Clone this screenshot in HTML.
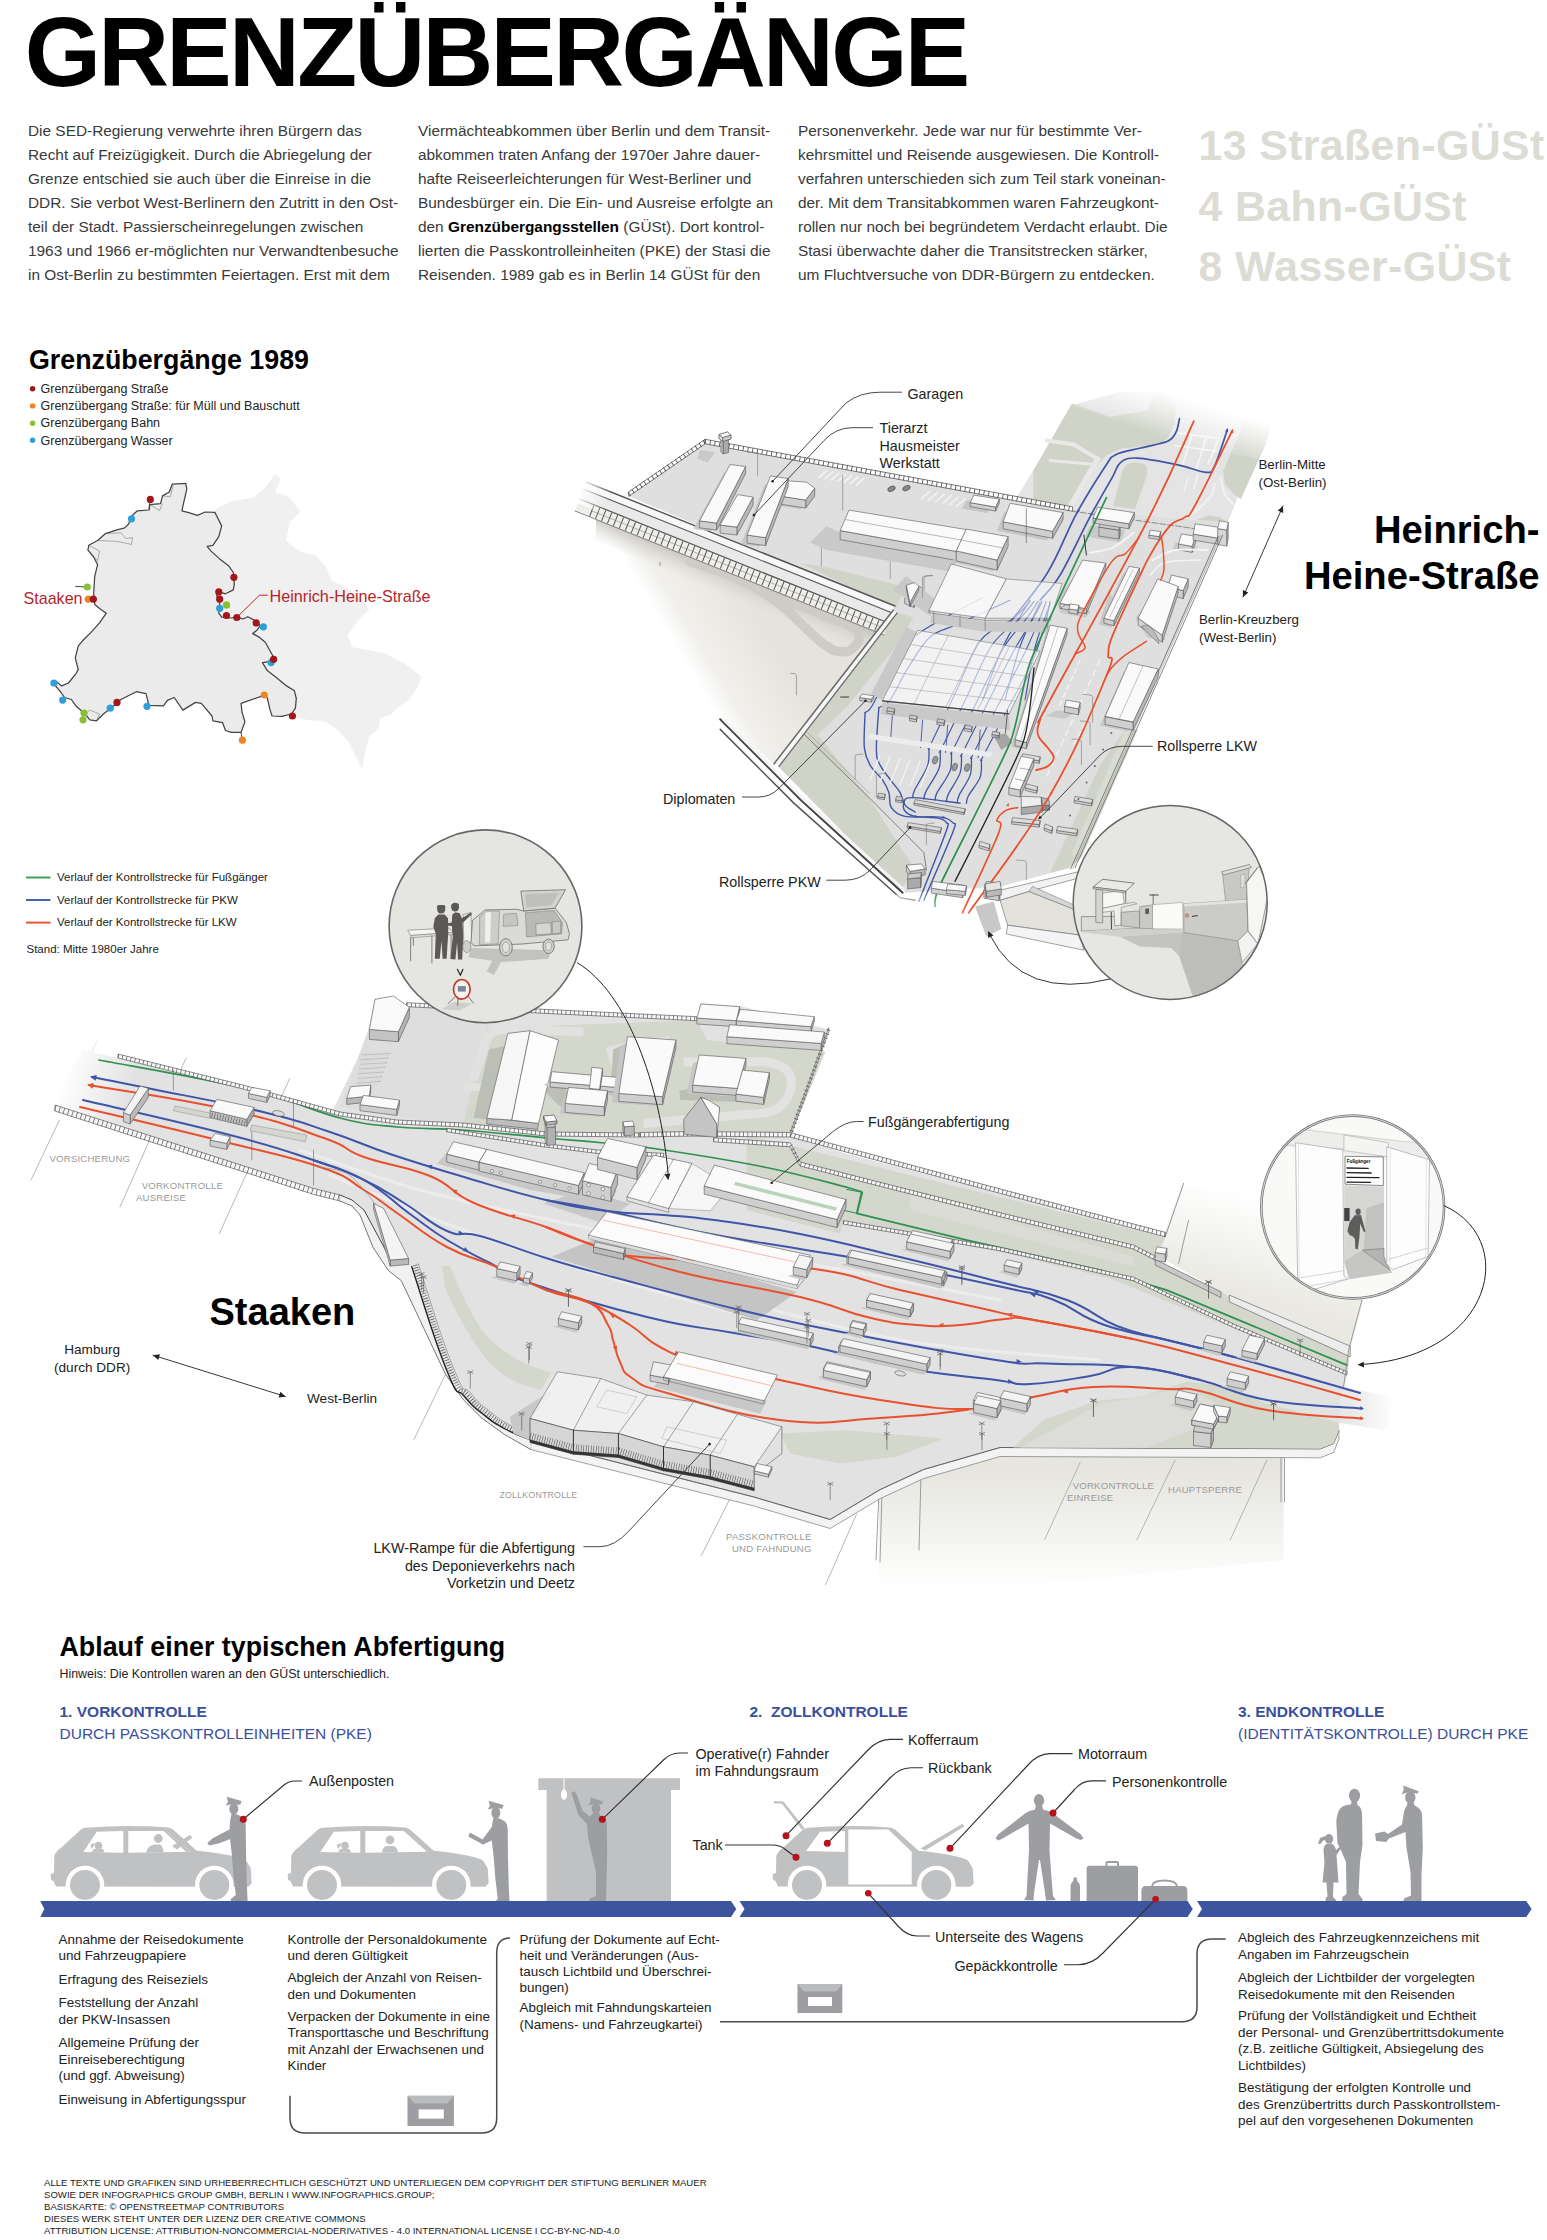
<!DOCTYPE html>
<html lang="de"><head><meta charset="utf-8"><title>Grenzübergänge</title>
<style>
html,body{margin:0;padding:0;background:#fff}
#page{position:relative;width:1547px;height:2240px;overflow:hidden;background:#fff;font-family:"Liberation Sans",sans-serif;color:#222}
#g{position:absolute;left:0;top:0}
#g text{font-family:"Liberation Sans",sans-serif}
.t{position:absolute;white-space:nowrap;margin:0}
h1.t{font-weight:bold;font-size:98px;line-height:98px;left:24.7px;top:3.3px;letter-spacing:-2.66px;color:#000}
.body{font-size:15.4px;line-height:24px;color:#3a3a3a;top:119px}
.stat{font-weight:bold;font-size:42.8px;line-height:60.5px;color:#dcdcd5;left:1198.5px;top:115px;letter-spacing:.4px}
h2.t{font-weight:bold;font-size:26.8px;line-height:30px;color:#000}
.leg{font-size:12.5px;line-height:17.2px;color:#222}
.lab{font-size:14.3px;line-height:18.6px;color:#222}
.big{font-weight:bold;font-size:38.2px;line-height:45.3px;color:#000;text-align:right}
.sec{font-size:15.5px;line-height:21.6px;color:#3b4f9c}
.sec b{font-weight:bold}
.col{font-size:13.45px;line-height:16.3px;color:#222}
.col p{margin:0 0 7.3px 0}
.foot{font-size:9.6px;line-height:12.2px;color:#222;left:44px;top:2176.5px}
.zone{font-size:9.6px;line-height:12px;color:#9a9a9a;letter-spacing:.2px}
</style></head><body><div id="page">
<svg id="g" width="1547" height="2240" viewBox="0 0 1547 2240">
<!-- placeholder -->
<g id="map">
<polygon points="202.7,522.7 217.2,508.2 231.7,501.0 253.4,497.4 266.1,486.5 275.1,473.8 280.5,479.3 275.1,491.9 289.6,497.4 300.5,511.9 289.6,522.7 286.0,540.8 300.5,551.7 314.9,555.3 325.8,566.2 331.2,580.6 347.5,587.9 362.0,598.7 369.2,609.6 358.4,620.5 347.5,634.9 352.9,647.6 365.6,649.4 383.7,653.0 405.4,663.9 421.7,676.6 416.3,689.2 409.0,700.1 398.2,707.3 391.0,714.6 380.1,718.2 378.3,729.0 369.2,736.3 365.6,750.8 362.0,768.9 354.8,754.4 347.5,739.9 336.7,729.0 325.8,721.8 307.7,720.0 293.2,716.4 253.4,682.0 217.2,609.6" fill="#f1f0f0"/>
<polygon points="172.2,484.2 185.8,483.3 186.8,489.1 183.9,501.7 181.9,510.8 188.7,512.7 197.4,515.3 205.2,512.0 214.9,512.4 216.8,516.2 221.7,525.9 218.8,536.6 212.9,545.3 207.1,546.3 211.0,551.1 219.7,558.9 228.5,565.7 233.3,572.5 234.3,584.1 233.3,589.9 225.5,593.8 219.7,591.9 216.8,595.7 219.7,603.5 218.8,613.2 221.7,617.1 230.4,618.0 237.2,617.1 243.0,619.0 247.8,616.7 255.6,620.9 260.4,625.8 256.6,630.6 252.7,633.6 259.5,637.4 265.3,642.3 270.1,651.0 274.0,657.8 269.2,661.7 262.4,662.6 267.2,670.4 276.0,677.2 286.6,685.9 294.4,690.8 296.3,698.5 295.4,708.2 291.5,714.0 281.8,716.4 272.1,716.0 270.1,710.1 267.2,697.5 263.4,695.6 241.1,703.4 242.0,712.1 244.9,721.8 241.1,732.4 231.4,732.4 225.5,730.5 222.6,722.7 212.9,720.8 212.0,716.0 201.3,703.4 195.5,702.4 182.9,710.1 174.2,697.5 167.4,700.4 163.5,705.9 149.0,705.3 146.0,693.7 136.3,691.7 120.8,699.5 112.1,707.2 103.4,714.0 96.6,720.8 89.8,719.8 85.0,714.0 76.2,706.3 71.4,699.5 64.6,697.5 59.8,690.8 53.9,684.0 56.8,682.0 61.7,685.9 68.5,683.0 76.2,673.3 78.2,669.4 75.3,657.8 78.2,646.2 82.1,641.3 92.7,630.6 99.5,622.9 106.3,613.2 100.5,609.3 94.7,604.5 93.7,593.8 94.7,576.3 97.6,564.7 93.7,557.0 87.9,550.2 88.8,545.3 97.6,540.5 105.3,533.7 117.0,529.8 124.7,527.9 128.6,524.0 131.5,516.2 137.3,510.8 149.0,510.0 149.5,504.6 160.6,503.6 162.5,495.9 169.3,492.0" fill="#ebebeb" stroke="#444" stroke-width="1.25" stroke-linejoin="round"/>
<polyline points="162.5,495.9 170.3,496.8 173.2,485.2" fill="none" stroke="#666" stroke-width="0.5"/>
<polyline points="149.5,504.6 159.6,510.4 162.5,503.6" fill="none" stroke="#666" stroke-width="0.5"/>
<polyline points="105.3,533.7 120.8,532.7 125.7,538.5 132.5,537.6 131.5,544.4 117.0,541.4 97.6,540.5" fill="none" stroke="#666" stroke-width="0.5"/>
<polyline points="88.8,545.3 99.5,551.1 97.6,560.8 93.7,557.0" fill="none" stroke="#666" stroke-width="0.5"/>
<polyline points="85.0,714.0 89.8,710.1 99.5,714.0 96.6,720.8" fill="none" stroke="#666" stroke-width="0.5"/>
<polyline points="241.1,732.4 242.0,739.2" fill="none" stroke="#444" stroke-width="1"/>
<polyline points="149.5,510.0 149.9,499.8" fill="none" stroke="#444" stroke-width="1"/>
<polyline points="75.3,586.4 86.9,587.0" fill="none" stroke="#444" stroke-width="1"/>
<polyline points="263.4,695.6 264.3,695.0" fill="none" stroke="#444" stroke-width="1"/>
<circle cx="131.5" cy="518.8" r="3.6" fill="#2d9fd9"/>
<circle cx="219.7" cy="608.3" r="3.6" fill="#2d9fd9"/>
<circle cx="263.4" cy="626.8" r="3.6" fill="#2d9fd9"/>
<circle cx="271.1" cy="662.6" r="3.6" fill="#2d9fd9"/>
<circle cx="53.9" cy="683.0" r="3.6" fill="#2d9fd9"/>
<circle cx="62.7" cy="700.1" r="3.6" fill="#2d9fd9"/>
<circle cx="110.2" cy="708.2" r="3.6" fill="#2d9fd9"/>
<circle cx="147.0" cy="706.3" r="3.6" fill="#2d9fd9"/>
<circle cx="88.3" cy="599.2" r="3.6" fill="#ee8522"/>
<circle cx="264.3" cy="695.0" r="3.6" fill="#ee8522"/>
<circle cx="242.4" cy="740.2" r="3.6" fill="#ee8522"/>
<circle cx="87.3" cy="587.0" r="3.6" fill="#8bc034"/>
<circle cx="226.5" cy="605.0" r="3.6" fill="#8bc034"/>
<circle cx="84.0" cy="713.1" r="3.6" fill="#8bc034"/>
<circle cx="83.0" cy="719.8" r="3.6" fill="#8bc034"/>
<circle cx="150.3" cy="499.4" r="3.6" fill="#a3161c"/>
<circle cx="233.9" cy="577.3" r="3.6" fill="#a3161c"/>
<circle cx="218.8" cy="591.9" r="3.6" fill="#a3161c"/>
<circle cx="219.7" cy="599.2" r="3.6" fill="#a3161c"/>
<circle cx="226.5" cy="615.5" r="3.6" fill="#a3161c"/>
<circle cx="236.8" cy="617.5" r="3.6" fill="#a3161c"/>
<circle cx="256.2" cy="622.9" r="3.6" fill="#a3161c"/>
<circle cx="273.6" cy="659.3" r="3.6" fill="#a3161c"/>
<circle cx="292.4" cy="716.0" r="3.6" fill="#a3161c"/>
<circle cx="117.0" cy="702.4" r="3.6" fill="#a3161c"/>
<circle cx="93.3" cy="599.2" r="3.6" fill="#a3161c"/>
<circle cx="226.5" cy="605.0" r="3.6" fill="#8bc034"/>
<polyline points="238.7,615.5 259.5,595.2 267.8,595.2" fill="none" stroke="#b3262c" stroke-width="1"/>
<circle cx="32.6" cy="388.8" r="2.7" fill="#a3161c"/>
<circle cx="32.6" cy="405.9" r="2.7" fill="#ee8522"/>
<circle cx="32.6" cy="423.2" r="2.7" fill="#8bc034"/>
<circle cx="32.6" cy="440.3" r="2.7" fill="#2d9fd9"/>
<line x1="26" x2="50.5" y1="877.5" y2="877.5" stroke="#3a9a52" stroke-width="1.9"/>
<line x1="26" x2="50.5" y1="900.0" y2="900.0" stroke="#3f5bb0" stroke-width="1.9"/>
<line x1="26" x2="50.5" y1="922.6" y2="922.6" stroke="#e8502a" stroke-width="1.9"/>
</g><g id="hh">
<defs>
<linearGradient id="hhbeige" gradientUnits="userSpaceOnUse" x1="672" y1="640" x2="745" y2="596"><stop offset="0" stop-color="#fff"/><stop offset="0.25" stop-color="#f1f0ec"/><stop offset="1" stop-color="#e5e3dc"/></linearGradient>
<linearGradient id="hhtop" gradientUnits="userSpaceOnUse" x1="1185" y1="398" x2="1172" y2="440"><stop offset="0" stop-color="#fff" stop-opacity="1"/><stop offset="1" stop-color="#fff" stop-opacity="0"/></linearGradient>
<linearGradient id="hhbot" gradientUnits="userSpaceOnUse" x1="925" y1="925" x2="940" y2="893"><stop offset="0" stop-color="#fff" stop-opacity="1"/><stop offset="1" stop-color="#fff" stop-opacity="0"/></linearGradient>
<linearGradient id="wallsh" gradientUnits="userSpaceOnUse" x1="740" y1="577" x2="731" y2="599"><stop offset="0" stop-color="#bdbbb6" stop-opacity=".75"/><stop offset="1" stop-color="#d8d6d0" stop-opacity="0"/></linearGradient>
</defs>
<polygon points="575,511 884,635 893,612 773.9,763.9 720.2,719.3 690,700 640,620 600,540" fill="url(#hhbeige)"/>
<polygon points="596,519 884,635 875,657 596,541" fill="url(#wallsh)"/>
<path d="M690.4,561.7 C702.1,565.7 711.7,566.5 734.1,576.8 C756.5,587.1 755.6,586.9 774.5,600.3 C793.3,613.8 791.3,615.4 804.7,627.2 C818.2,639.1 815,638.4 824.9,644.9 C834.7,651.4 833.8,651.1 841.7,651.6 C849.5,652 849.8,651 854.3,646.6 C858.8,642.1 859.8,640.4 858.5,634.8 C857.1,629.2 858.2,630.7 849.2,625.5 C840.3,620.4 838.5,620.9 824.9,615.5 C811.2,610 811.4,609.1 798,605 C784.5,601 780.7,601.6 774.5,600.3" fill="none" stroke="#cfccc8" stroke-width="9.5" stroke-linecap="round" stroke-linejoin="round"/>
<path d="M796.4,695.2 L796.4,675.2 Q796.4,673.2 790.4,673.2" fill="none" stroke="#777" stroke-width="0.6"/>
<path d="M660,562 l0,4" stroke="#777" stroke-width=".8"/>
<polygon points="1072.6,508.8 1017.6,496.3 1072.6,405 1120,392 1290,392 1270.3,415 1227.7,522.6" fill="#e4e4e4"/>
<polygon points="1071.9,403.4 1109.7,416.9 1147.6,410.2 1156,388.3 1177,388.3 1174.5,423.6 1167.7,438.7 1157.6,444.6 1120.7,448.8 1107.2,454.7 1098,463.9 1065.2,507.6 1033.3,499.2 1033.3,470.7" fill="#d0d4c8"/>
<polyline points="1046.7,440.4 1073.6,444.6 1098,458.9" fill="none" stroke="#e8e8e6" stroke-width="4" stroke-linejoin="round" stroke-linecap="round"/>
<polyline points="1098,458.9 1090.4,470.7 1069.4,507.6" fill="none" stroke="#e8e8e6" stroke-width="5" stroke-linejoin="round" stroke-linecap="round"/>
<polyline points="1050.1,460.6 1090.4,463.9" fill="none" stroke="#e8e8e6" stroke-width="3" stroke-linejoin="round" stroke-linecap="round"/>
<path d="M1122.4,470.7 Q1125.7,462.3 1135.8,462.6 L1142.5,463.6 Q1149.2,464.8 1146.7,475.7 L1135,509.3 L1113.1,506 Z" fill="#d0d4c8"/>
<polygon points="1245.9,416.9 1275.3,411.8 1265.2,445.5 1240.8,499.2 1233.3,493.4 1224.9,484.1 1223.2,470.7 1239.2,433.7" fill="#d0d4c8"/>
<polygon points="1196.3,519.4 1209.7,515.2 1221.5,517.7 1228.2,524.5 1218.2,529.5 1201.3,526.1" fill="#d0d4c8"/>
<polygon points="1165.2,546.3 1191.3,549.7 1187.9,556.4 1164.4,554.7" fill="#d0d4c8"/>
<polyline points="1177.8,432.9 1220.7,438.7" fill="none" stroke="#f6f6f6" stroke-width="1.6" stroke-linejoin="round" stroke-linecap="round"/>
<polyline points="1174.5,445.5 1216.5,451.3" fill="none" stroke="#f6f6f6" stroke-width="1.6" stroke-linejoin="round" stroke-linecap="round"/>
<polyline points="1192.1,434.5 1182.9,463.9" fill="none" stroke="#f6f6f6" stroke-width="1.6" stroke-linejoin="round" stroke-linecap="round"/>
<polyline points="1206.4,437.1 1196.3,469" fill="none" stroke="#f6f6f6" stroke-width="1.6" stroke-linejoin="round" stroke-linecap="round"/>
<polyline points="1218.2,440.4 1208.1,463.9" fill="none" stroke="#f6f6f6" stroke-width="1.6" stroke-linejoin="round" stroke-linecap="round"/>
<polyline points="1187.9,477.4 1184.5,490.8" fill="none" stroke="#f6f6f6" stroke-width="1.3" stroke-linejoin="round" stroke-linecap="round"/>
<polyline points="1198,474 1193.8,489.2" fill="none" stroke="#f6f6f6" stroke-width="1.3" stroke-linejoin="round" stroke-linecap="round"/>
<polyline points="1208.1,477.4 1203.9,490.8" fill="none" stroke="#f6f6f6" stroke-width="1.3" stroke-linejoin="round" stroke-linecap="round"/>
<path d="M1220.7,477.4 C1221.4,480.2 1222.8,489.7 1224.9,494.2 C1227,498.7 1231.9,502.6 1233.3,504.3" fill="none" stroke="#f0f0f0" stroke-width="2.5" stroke-linecap="round" stroke-linejoin="round"/>
<path d="M1214.8,484.1 C1213.9,486.4 1213.7,492.5 1209.7,497.6 C1205.8,502.6 1197.1,509.9 1191.3,514.4 C1185.4,518.9 1177.3,522.8 1174.5,524.5" fill="none" stroke="#f0f0f0" stroke-width="2.5" stroke-linecap="round" stroke-linejoin="round"/>
<polygon points="1040,385 1320,385 1320,470 1040,420" fill="url(#hhtop)"/>
<polygon points="628.8,496.3 705.1,440 1072.6,508.8 1227.7,522.6 1070.1,867.7 1001.3,886.4 905.1,892.7 804.2,734.5 895,611.8 893,612 889,606" fill="#dfdfe0"/>
<polygon points="895.8,612.1 913.4,617.6 898.3,643.7 846.2,707.6 817.6,734.5 868.1,796.6 915.1,870.1 900.1,890.2 778.2,766.4" fill="#d0d4c8"/>
<polygon points="800.2,563.1 830.2,568.1 905.2,587.1 895.7,608.9" fill="#d0d4c8"/>
<polygon points="1126.4,727.6 1137.6,730.1 1081.4,857.6 1070.1,867.7 1050.1,872.7 1100.1,765.1" fill="#d0d4c8"/>
<polygon points="1125.1,730.1 1133.9,732.1 1080.1,852.6 1070.1,857.6" fill="#d9dcd3"/>
<polygon points="700.1,450 715.1,452.5 707.6,462.5 697.6,458.8" fill="#c9c9ca"/>
<polyline points="826.4,470.8 818.9,477.6" fill="none" stroke="#f4f4f4" stroke-width="1.5" stroke-linejoin="round" stroke-linecap="round"/>
<polyline points="832.7,472.1 825.2,478.8" fill="none" stroke="#f4f4f4" stroke-width="1.5" stroke-linejoin="round" stroke-linecap="round"/>
<polyline points="838.9,473.3 831.4,480.1" fill="none" stroke="#f4f4f4" stroke-width="1.5" stroke-linejoin="round" stroke-linecap="round"/>
<polyline points="845.2,474.6 837.7,481.3" fill="none" stroke="#f4f4f4" stroke-width="1.5" stroke-linejoin="round" stroke-linecap="round"/>
<polyline points="851.5,475.8 843.9,482.6" fill="none" stroke="#f4f4f4" stroke-width="1.5" stroke-linejoin="round" stroke-linecap="round"/>
<polyline points="857.7,477.1 850.2,483.8" fill="none" stroke="#f4f4f4" stroke-width="1.5" stroke-linejoin="round" stroke-linecap="round"/>
<polyline points="864,478.3 856.5,485.1" fill="none" stroke="#f4f4f4" stroke-width="1.5" stroke-linejoin="round" stroke-linecap="round"/>
<polyline points="930.3,491.3 921.5,498.8" fill="none" stroke="#f4f4f4" stroke-width="1.5" stroke-linejoin="round" stroke-linecap="round"/>
<polyline points="937.3,492.8 928.5,500.3" fill="none" stroke="#f4f4f4" stroke-width="1.5" stroke-linejoin="round" stroke-linecap="round"/>
<polyline points="944.3,494.3 935.5,501.8" fill="none" stroke="#f4f4f4" stroke-width="1.5" stroke-linejoin="round" stroke-linecap="round"/>
<polyline points="951.3,495.8 942.5,503.3" fill="none" stroke="#f4f4f4" stroke-width="1.5" stroke-linejoin="round" stroke-linecap="round"/>
<polyline points="958.3,497.3 949.5,504.8" fill="none" stroke="#f4f4f4" stroke-width="1.5" stroke-linejoin="round" stroke-linecap="round"/>
<polyline points="965.3,498.8 956.5,506.3" fill="none" stroke="#f4f4f4" stroke-width="1.5" stroke-linejoin="round" stroke-linecap="round"/>
<g fill="#888" stroke="#333" stroke-width=".5"><ellipse cx="891.5" cy="488.8" rx="4" ry="2.4" transform="rotate(-25 891.5 488.8)"/><ellipse cx="906.5" cy="488.1" rx="4" ry="2.4" transform="rotate(-25 906.5 488.1)"/></g>
<polygon points="586,482 895,606 892.3,613 583.3,489" fill="#f7f7f7"/>
<polygon points="583.3,489 892.3,613 888.5,623 579.5,499" fill="#e9e9e9"/>
<polygon points="579.5,499 888.5,623 884,635 575,511" fill="#efeee9"/>
<polyline points="586,482 895,606" fill="none" stroke="#555" stroke-width="1.4" stroke-linejoin="round" stroke-linecap="round"/>
<polyline points="583.3,489 892.3,613" fill="none" stroke="#555" stroke-width="1.1" stroke-linejoin="round" stroke-linecap="round"/>
<polyline points="579.5,499 888.5,623" fill="none" stroke="#555" stroke-width="1.2" stroke-linejoin="round" stroke-linecap="round"/>
<polyline points="575,511 884,635" fill="none" stroke="#555" stroke-width="0.7" stroke-linejoin="round" stroke-linecap="round"/>
<line x1="591.3" y1="510.7" x2="886.3" y2="629" stroke="#555" stroke-width="11.5" stroke-dasharray="1 5.4" />
<polyline points="591.3,510.7 886.3,629" fill="none" stroke="#777" stroke-width="0.5" stroke-linejoin="round" stroke-linecap="round"/>
<linearGradient id="wfade" gradientUnits="userSpaceOnUse" x1="582" y1="480" x2="612" y2="492"><stop offset="0" stop-color="#fff"/><stop offset="1" stop-color="#fff" stop-opacity="0"/></linearGradient>
<polygon points="575,470 615,485 605,515 570,500" fill="url(#wfade)"/>
<polygon points="628.8,496.3 705.1,443.8 705.1,439.3 628.8,491.8" fill="#fff" stroke="#444" stroke-width="0.7" stroke-linejoin="round"/>
<line x1="628.8" y1="494.1" x2="705.1" y2="441.5" stroke="#444" stroke-width="4.5" stroke-dasharray="0.8 4"/>
<polygon points="705.1,443.8 1072.6,511.3 1072.6,506.8 705.1,439.3" fill="#fff" stroke="#444" stroke-width="0.7" stroke-linejoin="round"/>
<line x1="705.1" y1="441.5" x2="1072.6" y2="509.1" stroke="#444" stroke-width="4.5" stroke-dasharray="0.8 4"/>
<polygon points="730.9,435 722.6,437.5 722.6,441.5 730.9,439" fill="#ccc" stroke="#555" stroke-width="0.6" stroke-linejoin="round"/>
<polygon points="722.6,437.5 719.1,434.5 719.1,438.5 722.6,441.5" fill="#ddd" stroke="#555" stroke-width="0.6" stroke-linejoin="round"/>
<polygon points="719.1,434.5 727.6,432 730.9,435 722.6,437.5" fill="#fafafa" stroke="#555" stroke-width="0.6" stroke-linejoin="round"/>
<polygon points="728.6,439.5 723.1,441 723.1,454 728.6,452.5" fill="#aaa" stroke="#555" stroke-width="0.6" stroke-linejoin="round"/>
<polygon points="723.1,441 720.9,438.8 720.9,451.8 723.1,454" fill="#c4c4c4" stroke="#555" stroke-width="0.6" stroke-linejoin="round"/>
<polygon points="720.9,438.8 726.4,437.5 728.6,439.5 723.1,441" fill="#bbb" stroke="#555" stroke-width="0.6" stroke-linejoin="round"/>
<polygon points="730.9,435 722.6,437.5 722.6,441.5 730.9,439" fill="#ccc" stroke="#555" stroke-width="0.6" stroke-linejoin="round"/>
<polygon points="722.6,437.5 719.1,434.5 719.1,438.5 722.6,441.5" fill="#ddd" stroke="#555" stroke-width="0.6" stroke-linejoin="round"/>
<polygon points="719.1,434.5 727.6,432 730.9,435 722.6,437.5" fill="#fafafa" stroke="#555" stroke-width="0.6" stroke-linejoin="round"/>
<path d="M757.6,476.3 L757.6,454.3 Q757.6,452.3 747.6,452.3" fill="none" stroke="#777" stroke-width="0.6"/>
<path d="M821.4,566.4 L821.4,538.4 Q821.4,536.4 826.4,536.4" fill="none" stroke="#777" stroke-width="0.6"/>
<path d="M890.2,578.9 L890.2,550.9 Q890.2,548.9 894.2,548.9" fill="none" stroke="#777" stroke-width="0.6"/>
<polyline points="842.7,475.1 842.7,510.1" fill="none" stroke="#777" stroke-width="0.6" stroke-linejoin="round" stroke-linecap="round"/>
<polygon points="724.1,472.5 739.6,474.5 710.6,531.1 693.6,528.8 699.6,527.8 716.6,530.1 745.6,473.5 730.1,471.5" fill="#c6c6c6"/>
<polygon points="724.1,472.5 739.6,474.5 710.6,531.1 693.6,528.8" fill="#c6c6c6"/>
<polygon points="745.6,466.5 716.6,523.1 716.6,530.1 745.6,473.5" fill="#b9b9b9" stroke="#555" stroke-width="0.6" stroke-linejoin="round"/>
<polygon points="716.6,523.1 699.6,520.8 699.6,527.8 716.6,530.1" fill="#cfcfcf" stroke="#555" stroke-width="0.6" stroke-linejoin="round"/>
<polygon points="730.1,464.5 745.6,466.5 716.6,523.1 699.6,520.8" fill="#fafafa" stroke="#555" stroke-width="0.6" stroke-linejoin="round"/>
<polygon points="753.1,497.1 736.9,527.1 736.9,535.1 753.1,505.1" fill="#b9b9b9" stroke="#555" stroke-width="0.6" stroke-linejoin="round"/>
<polygon points="736.9,527.1 720.1,525.1 720.1,533.1 736.9,535.1" fill="#cfcfcf" stroke="#555" stroke-width="0.6" stroke-linejoin="round"/>
<polygon points="737.6,494.6 753.1,497.1 736.9,527.1 720.1,525.1" fill="#fafafa" stroke="#555" stroke-width="0.6" stroke-linejoin="round"/>
<polygon points="778.9,489.6 801.4,491.1 809.7,497.1 800.7,509.1 776.4,505.3 781.4,504.3 805.7,508.1 814.7,496.1 806.4,490.1 783.9,488.6" fill="#c6c6c6"/>
<polygon points="778.9,489.6 801.4,491.1 809.7,497.1 800.7,509.1 776.4,505.3" fill="#c6c6c6"/>
<polygon points="814.7,488.1 805.7,500.1 805.7,508.1 814.7,496.1" fill="#b9b9b9" stroke="#555" stroke-width="0.6" stroke-linejoin="round"/>
<polygon points="805.7,500.1 781.4,496.3 781.4,504.3 805.7,508.1" fill="#cfcfcf" stroke="#555" stroke-width="0.6" stroke-linejoin="round"/>
<polygon points="783.9,480.6 806.4,482.1 814.7,488.1 805.7,500.1 781.4,496.3" fill="#fafafa" stroke="#555" stroke-width="0.6" stroke-linejoin="round"/>
<polygon points="764.6,484.8 782.2,487.6 759.6,546.6 741.1,544.1 747.1,543.1 765.6,545.6 788.2,486.6 770.6,483.8" fill="#c6c6c6"/>
<polygon points="764.6,484.8 782.2,487.6 759.6,546.6 741.1,544.1" fill="#c6c6c6"/>
<polygon points="788.2,478.6 765.6,537.6 765.6,545.6 788.2,486.6" fill="#b9b9b9" stroke="#555" stroke-width="0.6" stroke-linejoin="round"/>
<polygon points="765.6,537.6 747.1,535.1 747.1,543.1 765.6,545.6" fill="#cfcfcf" stroke="#555" stroke-width="0.6" stroke-linejoin="round"/>
<polygon points="770.6,475.8 788.2,478.6 765.6,537.6 747.1,535.1" fill="#fafafa" stroke="#555" stroke-width="0.6" stroke-linejoin="round"/>
<polygon points="840.2,532.6 826.4,526.3 810.2,542.6 826.4,550.1 955.3,572.6 955.3,560.1" fill="#c9c9ca"/>
<polygon points="966.3,529.6 956.3,551.4 956.3,560.4 966.3,538.6" fill="#b9b9b9" stroke="#555" stroke-width="0.6" stroke-linejoin="round"/>
<polygon points="956.3,551.4 840.2,530.6 840.2,539.6 956.3,560.4" fill="#cfcfcf" stroke="#555" stroke-width="0.6" stroke-linejoin="round"/>
<polygon points="849,510.1 966.3,529.6 956.3,551.4 840.2,530.6" fill="#fafafa" stroke="#555" stroke-width="0.6" stroke-linejoin="round"/>
<polygon points="962.3,540.1 1004.1,547.6 993.1,571.1 952.3,561.9 956.3,560.9 997.1,570.1 1008.1,546.6 966.3,539.1" fill="#c6c6c6"/>
<polygon points="962.3,540.1 1004.1,547.6 993.1,571.1 952.3,561.9" fill="#c6c6c6"/>
<polygon points="1008.1,536.6 997.1,560.1 997.1,570.1 1008.1,546.6" fill="#b9b9b9" stroke="#555" stroke-width="0.6" stroke-linejoin="round"/>
<polygon points="997.1,560.1 956.3,550.9 956.3,560.9 997.1,570.1" fill="#cfcfcf" stroke="#555" stroke-width="0.6" stroke-linejoin="round"/>
<polygon points="966.3,529.1 1008.1,536.6 997.1,560.1 956.3,550.9" fill="#fafafa" stroke="#555" stroke-width="0.6" stroke-linejoin="round"/>
<polyline points="845.7,519.6 961.8,540.1" fill="none" stroke="#777" stroke-width="0.5" stroke-linejoin="round" stroke-linecap="round"/>
<polyline points="962,540.1 1003.1,548.1" fill="none" stroke="#777" stroke-width="0.5" stroke-linejoin="round" stroke-linecap="round"/>
<polygon points="920.8,587.1 914,601.4 914,607.4 920.8,593.1" fill="#b9b9b9" stroke="#555" stroke-width="0.6" stroke-linejoin="round"/>
<polygon points="914,601.4 904.7,597.6 904.7,603.6 914,607.4" fill="#cfcfcf" stroke="#555" stroke-width="0.6" stroke-linejoin="round"/>
<polygon points="911.5,583.9 920.8,587.1 914,601.4 904.7,597.6" fill="#fafafa" stroke="#555" stroke-width="0.6" stroke-linejoin="round"/>
<path d="M924,597.6 L924,577.6 Q924,575.6 933,575.6" fill="none" stroke="#777" stroke-width="0.6"/>
<polygon points="965.8,501.1 991.3,505.1 987.6,513.1 962.1,508.6 970.1,506.6 995.6,511.1 999.3,503.1 973.8,499.1" fill="#c6c6c6"/>
<polygon points="965.8,501.1 991.3,505.1 987.6,513.1 962.1,508.6" fill="#c6c6c6"/>
<polygon points="999.3,499.1 995.6,507.1 995.6,511.1 999.3,503.1" fill="#b9b9b9" stroke="#555" stroke-width="0.6" stroke-linejoin="round"/>
<polygon points="995.6,507.1 970.1,502.6 970.1,506.6 995.6,511.1" fill="#cfcfcf" stroke="#555" stroke-width="0.6" stroke-linejoin="round"/>
<polygon points="973.8,495.1 999.3,499.1 995.6,507.1 970.1,502.6" fill="#fafafa" stroke="#555" stroke-width="0.6" stroke-linejoin="round"/>
<polygon points="1004.1,512.3 1057.1,521.6 1046.6,540.3 997.1,530.8 1003.1,528.8 1052.6,538.3 1063.1,519.6 1010.1,510.3" fill="#c6c6c6"/>
<polygon points="1004.1,512.3 1057.1,521.6 1046.6,540.3 997.1,530.8" fill="#c6c6c6"/>
<polygon points="1063.1,512.6 1052.6,531.3 1052.6,538.3 1063.1,519.6" fill="#b9b9b9" stroke="#555" stroke-width="0.6" stroke-linejoin="round"/>
<polygon points="1052.6,531.3 1003.1,521.8 1003.1,528.8 1052.6,538.3" fill="#cfcfcf" stroke="#555" stroke-width="0.6" stroke-linejoin="round"/>
<polygon points="1010.1,503.3 1063.1,512.6 1052.6,531.3 1003.1,521.8" fill="#fafafa" stroke="#555" stroke-width="0.6" stroke-linejoin="round"/>
<polyline points="1026.3,508.8 1026.3,542.6" fill="none" stroke="#666" stroke-width="0.7" stroke-linejoin="round" stroke-linecap="round"/>
<polyline points="1072.6,511.3 1222.7,532.6" fill="none" stroke="#777" stroke-width="0.8" stroke-linejoin="round" stroke-linecap="round" stroke-dasharray="6 2"/>
<polygon points="1090.1,525.1 1125.2,530.1 1120.2,542.6 1085.1,536.4" fill="#c9c9ca"/>
<polygon points="1120.2,525.6 1118.9,530.1 1118.9,539.1 1120.2,534.6" fill="#b5b5b5" stroke="#555" stroke-width="0.6" stroke-linejoin="round"/>
<polygon points="1118.9,530.1 1098.9,527.1 1098.9,536.1 1118.9,539.1" fill="#c6c6c6" stroke="#555" stroke-width="0.6" stroke-linejoin="round"/>
<polygon points="1100.2,522.6 1120.2,525.6 1118.9,530.1 1098.9,527.1" fill="#ccc" stroke="#555" stroke-width="0.6" stroke-linejoin="round"/>
<polygon points="1134.4,512.6 1128.9,523.8 1128.9,528.8 1134.4,517.6" fill="#b9b9b9" stroke="#555" stroke-width="0.6" stroke-linejoin="round"/>
<polygon points="1128.9,523.8 1093.1,518.1 1093.1,523.1 1128.9,528.8" fill="#cfcfcf" stroke="#555" stroke-width="0.6" stroke-linejoin="round"/>
<polygon points="1097.6,507.1 1134.4,512.6 1128.9,523.8 1093.1,518.1" fill="#fafafa" stroke="#555" stroke-width="0.6" stroke-linejoin="round"/>
<polygon points="1160.7,531.6 1159.2,536.6 1159.2,539.6 1160.7,534.6" fill="#b9b9b9" stroke="#555" stroke-width="0.6" stroke-linejoin="round"/>
<polygon points="1159.2,536.6 1148.9,535.1 1148.9,538.1 1159.2,539.6" fill="#cfcfcf" stroke="#555" stroke-width="0.6" stroke-linejoin="round"/>
<polygon points="1150.2,530.1 1160.7,531.6 1159.2,536.6 1148.9,535.1" fill="#fafafa" stroke="#555" stroke-width="0.6" stroke-linejoin="round"/>
<polygon points="1175.2,542.6 1197.7,546.4 1192.7,552.6 1172.7,548.9" fill="#c9c9ca"/>
<polygon points="1195.7,536.4 1192,546.4 1192,552.4 1195.7,542.4" fill="#b9b9b9" stroke="#555" stroke-width="0.6" stroke-linejoin="round"/>
<polygon points="1192,546.4 1178.5,543.9 1178.5,549.9 1192,552.4" fill="#cfcfcf" stroke="#555" stroke-width="0.6" stroke-linejoin="round"/>
<polygon points="1181.5,533.9 1195.7,536.4 1192,546.4 1178.5,543.9" fill="#fafafa" stroke="#555" stroke-width="0.6" stroke-linejoin="round"/>
<polygon points="1220.7,527.6 1217.7,538.1 1217.7,544.1 1220.7,533.6" fill="#b9b9b9" stroke="#555" stroke-width="0.6" stroke-linejoin="round"/>
<polygon points="1217.7,538.1 1193.2,534.1 1193.2,540.1 1217.7,544.1" fill="#cfcfcf" stroke="#555" stroke-width="0.6" stroke-linejoin="round"/>
<polygon points="1195.2,523.8 1220.7,527.6 1217.7,538.1 1193.2,534.1" fill="#fafafa" stroke="#555" stroke-width="0.6" stroke-linejoin="round"/>
<polygon points="1228.2,522.3 1226.7,530.1 1226.7,546.1 1228.2,538.3" fill="#bbb" stroke="#555" stroke-width="0.6" stroke-linejoin="round"/>
<polygon points="1226.7,530.1 1217.7,528.6 1217.7,544.6 1226.7,546.1" fill="#d6d6d6" stroke="#555" stroke-width="0.6" stroke-linejoin="round"/>
<polygon points="1219.5,520.8 1228.2,522.3 1226.7,530.1 1217.7,528.6" fill="#fafafa" stroke="#555" stroke-width="0.6" stroke-linejoin="round"/>
<polyline points="1222.7,535.1 1075.1,867.7" fill="none" stroke="#555" stroke-width="0.7" stroke-linejoin="round" stroke-linecap="round"/>
<polyline points="1220.5,535.7 1072.9,868.3" fill="none" stroke="#888" stroke-width="0.5" stroke-linejoin="round" stroke-linecap="round"/>
<polyline points="1218.3,536.3 1070.7,868.9" fill="none" stroke="#555" stroke-width="0.7" stroke-linejoin="round" stroke-linecap="round"/>
<path d="M1090.1,552.6 C1093.9,551.8 1105.4,550.9 1112.7,547.6 C1120,544.3 1130.4,535.1 1133.9,532.6" fill="none" stroke="#f3f3f3" stroke-width="2" stroke-linecap="round" stroke-linejoin="round"/>
<path d="M1152.7,560.1 C1156.4,558.5 1166,551.8 1175.2,550.1 C1184.4,548.4 1202.3,550.1 1207.7,550.1" fill="none" stroke="#f3f3f3" stroke-width="2" stroke-linecap="round" stroke-linejoin="round"/>
<path d="M1150.2,575.1 C1152.7,573 1156.9,565.1 1165.2,562.6 C1173.5,560.1 1194.4,560.5 1200.2,560.1" fill="none" stroke="#f3f3f3" stroke-width="1.6" stroke-linecap="round" stroke-linejoin="round"/>
<polyline points="1097.6,700 1072.6,746.3" fill="none" stroke="#f5f5f5" stroke-width="1.3" stroke-linejoin="round" stroke-linecap="round" stroke-dasharray="5 4"/>
<polyline points="1100.1,660 1045.1,780.1" fill="none" stroke="#f5f5f5" stroke-width="1.3" stroke-linejoin="round" stroke-linecap="round" stroke-dasharray="6 5"/>
<polyline points="1080.1,660 1057.6,710" fill="none" stroke="#f5f5f5" stroke-width="1.3" stroke-linejoin="round" stroke-linecap="round" stroke-dasharray="5 4"/>
<polygon points="1056.4,600.2 1075.1,575.1 1090.1,612.7 1085.1,617.7 1060.1,612.7" fill="#c9c9ca"/>
<polygon points="1135.2,617.7 1150.2,600.2 1165.2,640.2 1147.7,637.7" fill="#c9c9ca"/>
<polygon points="1100.2,620.2 1110.2,590.1 1117.7,622.7 1110.2,627.7" fill="#c9c9ca"/>
<path d="M1179.5,418.6 C1178.9,420.8 1178.1,428.2 1176.1,432 C1174.2,435.8 1173.6,438.6 1167.7,441.3 C1161.8,443.9 1149.5,445.7 1140.8,448 C1132.2,450.2 1121.7,451.5 1115.6,454.7 C1109.6,457.9 1111.3,457.4 1104.7,467.3 C1098.1,477.3 1085.7,496.8 1076.1,514.4 C1066.6,531.9 1059,554.2 1047.6,572.6 C1036.2,591.1 1014.3,616.4 1007.6,625.2" fill="none" stroke="#3f55a8" stroke-width="1.7" stroke-linecap="round" stroke-linejoin="round"/>
<path d="M1227.4,429.5 C1225.3,435.5 1218.3,458.5 1214.8,465.6 C1211.3,472.8 1212.5,472.5 1206.4,472.4 C1200.2,472.2 1189.3,467.2 1177.8,464.8 C1166.3,462.4 1147,458.5 1137.5,458.1 C1128,457.6 1124.9,459 1120.7,462.3 C1116.5,465.5 1117.3,468.4 1112.3,477.4 C1107.2,486.4 1099.1,499.8 1090.4,516.1 C1081.7,532.3 1068.5,561.1 1060.1,575.1 C1051.7,589.1 1043.4,596 1040.1,600.2" fill="none" stroke="#3f55a8" stroke-width="1.7" stroke-linecap="round" stroke-linejoin="round"/>
<polygon points="1227.7,428.3 1228.2,432.3 1225,431.2" fill="#3f55a8"/>
<polygon points="1077.3,512.7 1077.7,509.2 1080.2,510.7" fill="#3f55a8"/>
<polygon points="1090.1,516.4 1090.3,512.9 1092.9,514.3" fill="#3f55a8"/>
<path d="M1030.1,600.2 C1025.7,607.6 1011.8,628.4 1003.8,645.1 C995.9,661.7 986.1,690.8 982.6,700" fill="none" stroke="#3f55a8" stroke-width="1.2" stroke-linecap="round" stroke-linejoin="round"/>
<path d="M1040.1,602.7 C1036.8,609.9 1025.9,630.1 1020.1,646.3 C1014.3,662.5 1007.6,691 1005.1,700" fill="none" stroke="#3f55a8" stroke-width="1.2" stroke-linecap="round" stroke-linejoin="round"/>
<path d="M1050.1,603.9 C1047.6,611.1 1039.3,630.9 1035.1,646.9 C1030.9,662.9 1026.8,691.1 1025.1,700" fill="none" stroke="#3f55a8" stroke-width="1.2" stroke-linecap="round" stroke-linejoin="round"/>
<path d="M865.1,712.5 C866.2,711.4 867.8,712.8 872,706 C876.2,699.2 883.5,683 890,672 C896.5,661 903.2,648.3 911,640 C918.8,631.7 925.1,629.1 937,622 C948.9,614.9 975,601.7 982.6,597.6" fill="none" stroke="#3f55a8" stroke-width="1.2" stroke-linecap="round" stroke-linejoin="round"/>
<path d="M878.9,707.5 C880.7,706.3 885.1,706.6 890,700 C894.9,693.4 901.3,678.5 908,668 C914.7,657.5 921.7,644.3 930,637 C938.3,629.7 944.7,630.1 958,624 C971.3,617.9 1001.4,604.1 1010.1,600.2" fill="none" stroke="#3f55a8" stroke-width="1.2" stroke-linecap="round" stroke-linejoin="round"/>
<path d="M928.9,748.1 C933.2,739.1 946.2,712.1 954.9,694.1 C963.6,676.1 971.1,652.7 980.9,640.1 C990.7,627.4 1005.6,624.6 1013.8,618.2 C1022,611.7 1027.4,604.2 1030.1,601.4" fill="none" stroke="#3f55a8" stroke-width="1.1" stroke-linecap="round" stroke-linejoin="round"/>
<path d="M940.2,751.3 C944.5,742.4 957.5,715.8 966.2,698.1 C974.8,680.3 983.1,658.1 992.2,644.8 C1001.2,631.5 1013.3,625.4 1020.3,618.2 C1027.3,610.9 1031.8,604.2 1034.1,601.4" fill="none" stroke="#3f55a8" stroke-width="1.1" stroke-linecap="round" stroke-linejoin="round"/>
<path d="M951.4,753.1 C955.7,744.3 968.7,718.1 977.4,700.6 C986.1,683.1 995.2,661.8 1003.4,648.1 C1011.6,634.3 1021.1,625.9 1026.8,618.2 C1032.6,610.4 1036.2,604.2 1038.1,601.4" fill="none" stroke="#3f55a8" stroke-width="1.1" stroke-linecap="round" stroke-linejoin="round"/>
<path d="M961.4,755.1 C965.7,746.4 978.7,720.6 987.4,703.3 C996.1,686.1 1005.8,665.7 1013.4,651.6 C1021.1,637.4 1028.6,626.5 1033.4,618.2 C1038.1,609.8 1040.6,604.2 1042.1,601.4" fill="none" stroke="#3f55a8" stroke-width="1.1" stroke-linecap="round" stroke-linejoin="round"/>
<path d="M971.4,757.6 C975.8,749.1 988.8,723.6 997.4,706.6 C1006.1,689.6 1016.4,670.3 1023.4,655.6 C1030.5,640.8 1036.1,627.2 1039.9,618.2 C1043.6,609.1 1045.1,604.2 1046.1,601.4" fill="none" stroke="#3f55a8" stroke-width="1.1" stroke-linecap="round" stroke-linejoin="round"/>
<path d="M981.4,759.6 C985.8,751.2 998.8,726.1 1007.4,709.3 C1016.1,692.6 1026.9,674.3 1033.4,659.1 C1039.9,643.9 1043.6,627.8 1046.4,618.2 C1049.1,608.6 1049.5,604.2 1050.1,601.4" fill="none" stroke="#3f55a8" stroke-width="1.1" stroke-linecap="round" stroke-linejoin="round"/>
<path d="M865.1,712.5 C865,718.4 863.5,738.8 864.3,747.6 C865.2,756.3 867.1,759.6 870.1,765.1 C873.1,770.5 879.5,775.5 882.6,780.1 C885.7,784.7 887.4,788 888.9,792.6 C890.3,797.2 888.7,803.6 891.4,807.6 C894.1,811.6 897,814.8 905.1,816.4 C913.3,817.9 932.2,816.1 940.2,817.1 C948.1,818.1 950.6,820 952.7,822.6 C954.7,825.2 957.5,819.7 952.7,832.6 C947.9,845.5 928.7,888.9 923.9,900.2" fill="none" stroke="#3f55a8" stroke-width="1.4" stroke-linecap="round" stroke-linejoin="round"/>
<path d="M878.9,707.5 C878.4,714.6 876.1,740.5 876.4,750.1 C876.6,759.6 877.4,759.6 880.1,765.1 C882.8,770.5 889.3,778 892.6,782.6 C896,787.2 898,788.8 900.1,792.6 C902.2,796.3 902.6,801.8 905.1,805.1 C907.6,808.3 913.5,810.9 915.1,812.1" fill="none" stroke="#3f55a8" stroke-width="1.4" stroke-linecap="round" stroke-linejoin="round"/>
<path d="M918.9,901.4 C923.3,889.9 941.1,845.7 945.7,832.6 C950.2,819.5 947.7,825 946.4,822.6 C945.1,820.2 942.9,819.1 937.6,818.1 C932.4,817.1 920.6,817.5 915.1,816.4 C909.7,815.2 907,813.6 905.1,811.3 C903.2,809.1 902.6,804.9 903.9,802.6 C905.1,800.3 903.2,797.5 912.6,797.6 C922,797.7 952.2,802.2 960.2,803.1" fill="none" stroke="#3f55a8" stroke-width="1.4" stroke-linecap="round" stroke-linejoin="round"/>
<polygon points="918.1,816.6 914.9,818 915,815" fill="#3f55a8"/>
<polygon points="945.7,817.4 942.4,818.7 942.5,815.8" fill="#3f55a8"/>
<path d="M912.6,797.6 C913,796.3 912.1,795.4 914.6,790.1 C917.1,784.7 925.3,772.6 927.6,765.6 C930,758.6 928.7,751 928.9,748.1" fill="none" stroke="#3f55a8" stroke-width="1.3" stroke-linecap="round" stroke-linejoin="round"/>
<polygon points="929.1,746.5 929.9,749.7 927.3,749.1" fill="#3f55a8"/>
<path d="M923.9,799.1 C924.2,797.8 923.4,796.6 925.9,791.6 C928.4,786.5 936.5,775.5 938.9,768.8 C941.3,762.1 939.9,754.2 940.2,751.3" fill="none" stroke="#3f55a8" stroke-width="1.3" stroke-linecap="round" stroke-linejoin="round"/>
<polygon points="940.4,749.8 941.2,752.9 938.5,752.4" fill="#3f55a8"/>
<path d="M935.1,800.1 C935.5,798.8 934.6,797.5 937.1,792.6 C939.6,787.7 947.8,777.2 950.2,770.6 C952.5,764 951.2,756 951.4,753.1" fill="none" stroke="#3f55a8" stroke-width="1.3" stroke-linecap="round" stroke-linejoin="round"/>
<polygon points="951.7,751.6 952.4,754.7 949.8,754.1" fill="#3f55a8"/>
<path d="M946.4,801.6 C946.7,800.3 946.1,798.9 948.4,794.1 C950.7,789.2 958,779.1 960.2,772.6 C962.3,766.1 961.2,758 961.4,755.1" fill="none" stroke="#3f55a8" stroke-width="1.3" stroke-linecap="round" stroke-linejoin="round"/>
<polygon points="961.7,753.6 962.5,756.7 959.8,756.2" fill="#3f55a8"/>
<path d="M957.2,802.6 C957.5,801.3 957,799.7 959.2,795.1 C961.3,790.5 968.1,781.3 970.2,775.1 C972.2,768.8 971.2,760.5 971.4,757.6" fill="none" stroke="#3f55a8" stroke-width="1.3" stroke-linecap="round" stroke-linejoin="round"/>
<polygon points="971.7,756.1 972.5,759.2 969.8,758.7" fill="#3f55a8"/>
<path d="M966.4,803.3 C966.8,802.1 966.1,800.2 968.4,795.8 C970.7,791.5 978,783.1 980.2,777.1 C982.3,771 981.2,762.5 981.4,759.6" fill="none" stroke="#3f55a8" stroke-width="1.3" stroke-linecap="round" stroke-linejoin="round"/>
<polygon points="981.7,758.1 982.5,761.2 979.8,760.7" fill="#3f55a8"/>
<polyline points="892.6,712.5 890.6,740" fill="none" stroke="#3f55a8" stroke-width="0.9" stroke-linejoin="round" stroke-linecap="round"/>
<polyline points="922.6,720 920.6,747.6" fill="none" stroke="#3f55a8" stroke-width="0.9" stroke-linejoin="round" stroke-linecap="round"/>
<polyline points="947.7,725 945.7,752.6" fill="none" stroke="#3f55a8" stroke-width="0.9" stroke-linejoin="round" stroke-linecap="round"/>
<polyline points="980.2,730 978.2,757.6" fill="none" stroke="#3f55a8" stroke-width="0.9" stroke-linejoin="round" stroke-linecap="round"/>
<polyline points="880.1,755.1 870.1,780.1" fill="none" stroke="#f2f2f2" stroke-width="1.4" stroke-linejoin="round" stroke-linecap="round"/>
<polyline points="890.1,756.6 880.1,781.6" fill="none" stroke="#f2f2f2" stroke-width="1.4" stroke-linejoin="round" stroke-linecap="round"/>
<polyline points="900.1,758.1 890.1,783.1" fill="none" stroke="#f2f2f2" stroke-width="1.4" stroke-linejoin="round" stroke-linecap="round"/>
<polyline points="910.1,759.6 900.1,784.6" fill="none" stroke="#f2f2f2" stroke-width="1.4" stroke-linejoin="round" stroke-linecap="round"/>
<polyline points="920.1,761.1 910.1,786.1" fill="none" stroke="#f2f2f2" stroke-width="1.4" stroke-linejoin="round" stroke-linecap="round"/>
<polyline points="930.1,762.6 920.1,787.6" fill="none" stroke="#f2f2f2" stroke-width="1.4" stroke-linejoin="round" stroke-linecap="round"/>
<polygon points="870.1,733.8 992.7,752.6 990.2,757.6 867.6,738.8" fill="#ececec"/>
<ellipse cx="935.1" cy="760.1" rx="2.6" ry="4" fill="#999" stroke="#444" stroke-width=".5" transform="rotate(20 935.1 760.1)"/>
<ellipse cx="954.7" cy="767.1" rx="2.6" ry="4" fill="#999" stroke="#444" stroke-width=".5" transform="rotate(20 954.7 767.1)"/>
<ellipse cx="967.2" cy="767.6" rx="2.6" ry="4" fill="#999" stroke="#444" stroke-width=".5" transform="rotate(20 967.2 767.6)"/>
<polygon points="965.2,808.8 963.9,812.6 963.9,814.6 965.2,810.8" fill="#b9b9b9" stroke="#555" stroke-width="0.6" stroke-linejoin="round"/>
<polygon points="963.9,812.6 913.9,803.1 913.9,805.1 963.9,814.6" fill="#cfcfcf" stroke="#555" stroke-width="0.6" stroke-linejoin="round"/>
<polygon points="915.1,799.6 965.2,808.8 963.9,812.6 913.9,803.1" fill="#d8d8d8" stroke="#555" stroke-width="0.6" stroke-linejoin="round"/>
<polygon points="941.4,827.6 940.2,831.4 940.2,833.4 941.4,829.6" fill="#b9b9b9" stroke="#555" stroke-width="0.6" stroke-linejoin="round"/>
<polygon points="940.2,831.4 907.1,826.1 907.1,828.1 940.2,833.4" fill="#cfcfcf" stroke="#555" stroke-width="0.6" stroke-linejoin="round"/>
<polygon points="908.1,822.6 941.4,827.6 940.2,831.4 907.1,826.1" fill="#d8d8d8" stroke="#555" stroke-width="0.6" stroke-linejoin="round"/>
<polygon points="885.1,794.1 884.4,797.6 884.4,799.6 885.1,796.1" fill="#b9b9b9" stroke="#555" stroke-width="0.6" stroke-linejoin="round"/>
<polygon points="884.4,797.6 877.6,796.6 877.6,798.6 884.4,799.6" fill="#cfcfcf" stroke="#555" stroke-width="0.6" stroke-linejoin="round"/>
<polygon points="878.4,793.1 885.1,794.1 884.4,797.6 877.6,796.6" fill="#d0d0d0" stroke="#555" stroke-width="0.6" stroke-linejoin="round"/>
<polygon points="902.6,797.3 901.9,800.8 901.9,802.8 902.6,799.3" fill="#b9b9b9" stroke="#555" stroke-width="0.6" stroke-linejoin="round"/>
<polygon points="901.9,800.8 895.6,799.8 895.6,801.8 901.9,802.8" fill="#cfcfcf" stroke="#555" stroke-width="0.6" stroke-linejoin="round"/>
<polygon points="896.4,796.3 902.6,797.3 901.9,800.8 895.6,799.8" fill="#d0d0d0" stroke="#555" stroke-width="0.6" stroke-linejoin="round"/>
<path d="M855.1,780.1 L855.1,756.1 Q855.1,754.1 863.1,754.1" fill="none" stroke="#777" stroke-width="0.6"/>
<path d="M926.4,845.1 L926.4,825.1 Q926.4,823.1 934.4,823.1" fill="none" stroke="#777" stroke-width="0.6"/>
<path d="M876.4,797.6 L876.4,775.6 Q876.4,773.6 886.4,773.6" fill="none" stroke="#777" stroke-width="0.6"/>
<polygon points="882.5,700 917.5,632.5 906,627 871,694" fill="#c9c9ca"/>
<polygon points="893,590 906,576 936,600 930,616" fill="#c9c9ca"/>
<polygon points="932.5,612.7 985.1,621.4 1050.1,621.4 1047.6,632.7 982.6,631.4 930,622.7" fill="#c9c9ca"/>
<polyline points="933.8,611.4 933.8,622.7" fill="none" stroke="#888" stroke-width="0.8" stroke-linejoin="round" stroke-linecap="round"/>
<polyline points="985.1,618.9 985.1,630.2" fill="none" stroke="#888" stroke-width="0.8" stroke-linejoin="round" stroke-linecap="round"/>
<polyline points="1047.6,617.7 1047.6,628.9" fill="none" stroke="#888" stroke-width="0.8" stroke-linejoin="round" stroke-linecap="round"/>
<polyline points="960,615.2 960,626.4" fill="none" stroke="#888" stroke-width="0.8" stroke-linejoin="round" stroke-linecap="round"/>
<polygon points="1006.3,578.9 1062.1,583.4 1050.6,618.2 985.1,618.2" fill="#fff" stroke="#777" stroke-width="0.6" stroke-linejoin="round" fill-opacity=".5"/>
<polygon points="951.3,563.9 1006.3,578.9 985.1,618.2 928.8,610.7" fill="#fbfbfb" stroke="#666" stroke-width="0.6" stroke-linejoin="round" fill-opacity=".88"/>
<polyline points="928.8,610.7 928.8,612.7 985.1,620.4 1050.6,620.2 1050.6,618.2" fill="none" stroke="#666" stroke-width="0.5" stroke-linejoin="round" stroke-linecap="round"/>
<polygon points="918.8,586.4 910,602.7 910,606.7 918.8,590.4" fill="#b9b9b9" stroke="#555" stroke-width="0.6" stroke-linejoin="round"/>
<polygon points="910,602.7 906.3,585.1 906.3,589.1 910,606.7" fill="#cfcfcf" stroke="#555" stroke-width="0.6" stroke-linejoin="round"/>
<polygon points="906.3,585.1 915,582.6 918.8,586.4 910,602.7" fill="#fafafa" stroke="#555" stroke-width="0.6" stroke-linejoin="round"/>
<path d="M922.5,597.6 L922.5,577.6 Q922.5,575.6 932.5,575.6" fill="none" stroke="#777" stroke-width="0.6"/>
<polygon points="882.4,702.5 1009,716.3 1010.2,730 880.7,714.3" fill="#c9c9ca"/>
<polygon points="917.6,630.3 1040.1,651.4 1009,713.8 882.4,700.8" fill="#fff" stroke="#777" stroke-width="0.6" stroke-linejoin="round" fill-opacity=".6"/>
<polyline points="910.6,644.4 1033.9,663.9" fill="none" stroke="#999" stroke-width="0.5" stroke-linejoin="round" stroke-linecap="round"/>
<polyline points="903.5,658.5 1027.6,676.4" fill="none" stroke="#999" stroke-width="0.5" stroke-linejoin="round" stroke-linecap="round"/>
<polyline points="896.5,672.6 1021.4,688.8" fill="none" stroke="#999" stroke-width="0.5" stroke-linejoin="round" stroke-linecap="round"/>
<polyline points="889.4,686.7 1015.2,701.3" fill="none" stroke="#999" stroke-width="0.5" stroke-linejoin="round" stroke-linecap="round"/>
<polyline points="948.3,635.5 914,704.1" fill="none" stroke="#999" stroke-width="0.5" stroke-linejoin="round" stroke-linecap="round"/>
<polyline points="978.9,640.8 945.7,707.3" fill="none" stroke="#999" stroke-width="0.5" stroke-linejoin="round" stroke-linecap="round"/>
<polyline points="1009.5,646.1 977.3,710.5" fill="none" stroke="#999" stroke-width="0.5" stroke-linejoin="round" stroke-linecap="round"/>
<polyline points="882.4,700.8 1009,713.8" fill="none" stroke="#444" stroke-width="1.2" stroke-linejoin="round" stroke-linecap="round"/>
<polygon points="894.6,708.8 893.9,712 893.9,714.5 894.6,711.3" fill="#b9b9b9" stroke="#555" stroke-width="0.6" stroke-linejoin="round"/>
<polygon points="893.9,712 886.9,710.8 886.9,713.3 893.9,714.5" fill="#cfcfcf" stroke="#555" stroke-width="0.6" stroke-linejoin="round"/>
<polygon points="887.6,707.5 894.6,708.8 893.9,712 886.9,710.8" fill="#ccc" stroke="#555" stroke-width="0.6" stroke-linejoin="round"/>
<polygon points="917.1,716.3 916.4,719.5 916.4,722 917.1,718.8" fill="#b9b9b9" stroke="#555" stroke-width="0.6" stroke-linejoin="round"/>
<polygon points="916.4,719.5 909.4,718.3 909.4,720.8 916.4,722" fill="#cfcfcf" stroke="#555" stroke-width="0.6" stroke-linejoin="round"/>
<polygon points="910.1,715 917.1,716.3 916.4,719.5 909.4,718.3" fill="#ccc" stroke="#555" stroke-width="0.6" stroke-linejoin="round"/>
<polygon points="944.7,720 943.9,723.3 943.9,725.8 944.7,722.5" fill="#b9b9b9" stroke="#555" stroke-width="0.6" stroke-linejoin="round"/>
<polygon points="943.9,723.3 936.9,722 936.9,724.5 943.9,725.8" fill="#cfcfcf" stroke="#555" stroke-width="0.6" stroke-linejoin="round"/>
<polygon points="937.6,718.8 944.7,720 943.9,723.3 936.9,722" fill="#ccc" stroke="#555" stroke-width="0.6" stroke-linejoin="round"/>
<polygon points="972.2,726.3 971.4,729.5 971.4,732 972.2,728.8" fill="#b9b9b9" stroke="#555" stroke-width="0.6" stroke-linejoin="round"/>
<polygon points="971.4,729.5 964.4,728.3 964.4,730.8 971.4,732" fill="#cfcfcf" stroke="#555" stroke-width="0.6" stroke-linejoin="round"/>
<polygon points="965.2,725 972.2,726.3 971.4,729.5 964.4,728.3" fill="#ccc" stroke="#555" stroke-width="0.6" stroke-linejoin="round"/>
<polygon points="999.7,732.5 998.9,735.8 998.9,738.3 999.7,735" fill="#b9b9b9" stroke="#555" stroke-width="0.6" stroke-linejoin="round"/>
<polygon points="998.9,735.8 991.9,734.5 991.9,737 998.9,738.3" fill="#cfcfcf" stroke="#555" stroke-width="0.6" stroke-linejoin="round"/>
<polygon points="992.7,731.3 999.7,732.5 998.9,735.8 991.9,734.5" fill="#ccc" stroke="#555" stroke-width="0.6" stroke-linejoin="round"/>
<polygon points="873.9,695.8 871.4,699.2 871.4,702.2 873.9,698.8" fill="#b9b9b9" stroke="#555" stroke-width="0.6" stroke-linejoin="round"/>
<polygon points="871.4,699.2 859.7,697.5 859.7,700.5 871.4,702.2" fill="#cfcfcf" stroke="#555" stroke-width="0.6" stroke-linejoin="round"/>
<polygon points="862.2,694.1 873.9,695.8 871.4,699.2 859.7,697.5" fill="#fafafa" stroke="#555" stroke-width="0.6" stroke-linejoin="round"/>
<text x="840.3" y="698.3" font-size="3.5" fill="#333" font-weight="bold">oooo</text>
<polygon points="1046.1,632.2 1063.1,635.2 1022.3,749.6 1011.1,746.6 1015.1,745.6 1026.3,748.6 1067.1,634.2 1050.1,631.2" fill="#c6c6c6"/>
<polygon points="1046.1,632.2 1063.1,635.2 1022.3,749.6 1011.1,746.6" fill="#c6c6c6"/>
<polygon points="1067.1,628.2 1026.3,742.6 1026.3,748.6 1067.1,634.2" fill="#b9b9b9" stroke="#555" stroke-width="0.6" stroke-linejoin="round"/>
<polygon points="1026.3,742.6 1015.1,739.6 1015.1,745.6 1026.3,748.6" fill="#cfcfcf" stroke="#555" stroke-width="0.6" stroke-linejoin="round"/>
<polygon points="1050.1,625.2 1067.1,628.2 1026.3,742.6 1015.1,739.6" fill="#fafafa" stroke="#555" stroke-width="0.6" stroke-linejoin="round"/>
<polyline points="1058.1,626.7 1020.6,741.1" fill="none" stroke="#888" stroke-width="0.5" stroke-linejoin="round" stroke-linecap="round"/>
<polygon points="1105.7,563.1 1086.4,608.9 1086.4,613.9 1105.7,568.1" fill="#c0c0c0" stroke="#555" stroke-width="0.6" stroke-linejoin="round"/>
<polygon points="1086.4,608.9 1060.1,603.2 1060.1,608.2 1086.4,613.9" fill="#d4d4d4" stroke="#555" stroke-width="0.6" stroke-linejoin="round"/>
<polygon points="1082.6,560.1 1105.7,563.1 1086.4,608.9 1060.1,603.2" fill="#fafafa" stroke="#555" stroke-width="0.6" stroke-linejoin="round"/>
<path d="M1060.1,608.9 Q1070.1,597.6 1086.4,613.9" fill="none" stroke="#666" stroke-width=".6"/>
<polygon points="1078.9,605.2 1077.6,610.2 1077.6,614.2 1078.9,609.2" fill="#b9b9b9" stroke="#555" stroke-width="0.6" stroke-linejoin="round"/>
<polygon points="1077.6,610.2 1068.9,608.9 1068.9,612.9 1077.6,614.2" fill="#cfcfcf" stroke="#555" stroke-width="0.6" stroke-linejoin="round"/>
<polygon points="1070.1,603.9 1078.9,605.2 1077.6,610.2 1068.9,608.9" fill="#fafafa" stroke="#555" stroke-width="0.6" stroke-linejoin="round"/>
<polygon points="1123.9,572.4 1134.4,574.1 1108.9,626.7 1098.9,624.2 1103.9,623.2 1113.9,625.7 1139.4,573.1 1128.9,571.4" fill="#c6c6c6"/>
<polygon points="1123.9,572.4 1134.4,574.1 1108.9,626.7 1098.9,624.2" fill="#c6c6c6"/>
<polygon points="1139.4,568.1 1113.9,620.7 1113.9,625.7 1139.4,573.1" fill="#b9b9b9" stroke="#555" stroke-width="0.6" stroke-linejoin="round"/>
<polygon points="1113.9,620.7 1103.9,618.2 1103.9,623.2 1113.9,625.7" fill="#cfcfcf" stroke="#555" stroke-width="0.6" stroke-linejoin="round"/>
<polygon points="1128.9,566.4 1139.4,568.1 1113.9,620.7 1103.9,618.2" fill="#fafafa" stroke="#555" stroke-width="0.6" stroke-linejoin="round"/>
<polyline points="1132.7,570.1 1109.7,617.2" fill="none" stroke="#888" stroke-width="0.5" stroke-linejoin="round" stroke-linecap="round"/>
<polygon points="1188.2,578.9 1183.2,590.6 1183.2,598.6 1188.2,586.9" fill="#b9b9b9" stroke="#555" stroke-width="0.6" stroke-linejoin="round"/>
<polygon points="1183.2,590.6 1167.7,586.4 1167.7,594.4 1183.2,598.6" fill="#cfcfcf" stroke="#555" stroke-width="0.6" stroke-linejoin="round"/>
<polygon points="1171.5,575.1 1188.2,578.9 1183.2,590.6 1167.7,586.4" fill="#fafafa" stroke="#555" stroke-width="0.6" stroke-linejoin="round"/>
<polygon points="1178.2,586.4 1162.2,635.2 1162.2,642.2 1178.2,593.4" fill="#bdbdbd" stroke="#555" stroke-width="0.6" stroke-linejoin="round"/>
<polygon points="1162.2,635.2 1138.2,618.2 1138.2,625.2 1162.2,642.2" fill="#d4d4d4" stroke="#555" stroke-width="0.6" stroke-linejoin="round"/>
<polygon points="1157.7,578.9 1178.2,586.4 1162.2,635.2 1138.2,618.2" fill="#fafafa" stroke="#555" stroke-width="0.6" stroke-linejoin="round"/>
<path d="M1141.4,626.4 Q1150.2,620.2 1158.9,640.7 L1158.9,643.9 Z" fill="#bbb" stroke="#666" stroke-width=".5"/>
<polygon points="1123.9,671.5 1153.2,678 1128.1,731 1100.1,725.5 1105.1,724.5 1133.1,730 1158.2,677 1128.9,670.5" fill="#c6c6c6"/>
<polygon points="1123.9,671.5 1153.2,678 1128.1,731 1100.1,725.5" fill="#c6c6c6"/>
<polygon points="1158.2,669 1133.1,722 1133.1,730 1158.2,677" fill="#b9b9b9" stroke="#555" stroke-width="0.6" stroke-linejoin="round"/>
<polygon points="1133.1,722 1105.1,716.5 1105.1,724.5 1133.1,730" fill="#cfcfcf" stroke="#555" stroke-width="0.6" stroke-linejoin="round"/>
<polygon points="1128.9,662.5 1158.2,669 1133.1,722 1105.1,716.5" fill="#fafafa" stroke="#555" stroke-width="0.6" stroke-linejoin="round"/>
<polyline points="1143.2,665.5 1118.9,719.5" fill="none" stroke="#888" stroke-width="0.5" stroke-linejoin="round" stroke-linecap="round"/>
<polyline points="1105.1,716.5 1118.9,719.5 1133.1,722" fill="none" stroke="#666" stroke-width="0.5" stroke-linejoin="round" stroke-linecap="round"/>
<polygon points="1045.1,716.3 1065.1,718.8 1075.1,712.5 1057.6,710" fill="#c9c9ca"/>
<polygon points="1080.1,702.5 1078.4,708.8 1078.4,714.8 1080.1,708.5" fill="#b9b9b9" stroke="#555" stroke-width="0.6" stroke-linejoin="round"/>
<polygon points="1078.4,708.8 1064.6,706.3 1064.6,712.3 1078.4,714.8" fill="#cfcfcf" stroke="#555" stroke-width="0.6" stroke-linejoin="round"/>
<polygon points="1066.3,700 1080.1,702.5 1078.4,708.8 1064.6,706.3" fill="#fafafa" stroke="#555" stroke-width="0.6" stroke-linejoin="round"/>
<polygon points="1040.1,756.8 1039.1,760.8 1039.1,763.3 1040.1,759.3" fill="#b9b9b9" stroke="#555" stroke-width="0.6" stroke-linejoin="round"/>
<polygon points="1039.1,760.8 1021.6,757.8 1021.6,760.3 1039.1,763.3" fill="#cfcfcf" stroke="#555" stroke-width="0.6" stroke-linejoin="round"/>
<polygon points="1022.6,753.8 1040.1,756.8 1039.1,760.8 1021.6,757.8" fill="#ddd" stroke="#555" stroke-width="0.6" stroke-linejoin="round"/>
<polygon points="1037.6,786.8 1036.6,790.8 1036.6,793.3 1037.6,789.3" fill="#b9b9b9" stroke="#555" stroke-width="0.6" stroke-linejoin="round"/>
<polygon points="1036.6,790.8 1025.3,787.8 1025.3,790.3 1036.6,793.3" fill="#cfcfcf" stroke="#555" stroke-width="0.6" stroke-linejoin="round"/>
<polygon points="1026.3,783.8 1037.6,786.8 1036.6,790.8 1025.3,787.8" fill="#ddd" stroke="#555" stroke-width="0.6" stroke-linejoin="round"/>
<polygon points="1092.6,799.4 1091.6,803.4 1091.6,805.9 1092.6,801.9" fill="#b9b9b9" stroke="#555" stroke-width="0.6" stroke-linejoin="round"/>
<polygon points="1091.6,803.4 1074.1,800.4 1074.1,802.9 1091.6,805.9" fill="#cfcfcf" stroke="#555" stroke-width="0.6" stroke-linejoin="round"/>
<polygon points="1075.1,796.4 1092.6,799.4 1091.6,803.4 1074.1,800.4" fill="#ddd" stroke="#555" stroke-width="0.6" stroke-linejoin="round"/>
<polygon points="1040.1,820.6 1039.1,824.6 1039.1,827.1 1040.1,823.1" fill="#b9b9b9" stroke="#555" stroke-width="0.6" stroke-linejoin="round"/>
<polygon points="1039.1,824.6 1011.6,821.6 1011.6,824.1 1039.1,827.1" fill="#cfcfcf" stroke="#555" stroke-width="0.6" stroke-linejoin="round"/>
<polygon points="1012.6,817.6 1040.1,820.6 1039.1,824.6 1011.6,821.6" fill="#ddd" stroke="#555" stroke-width="0.6" stroke-linejoin="round"/>
<polygon points="1077.6,829.4 1076.6,833.4 1076.6,835.9 1077.6,831.9" fill="#b9b9b9" stroke="#555" stroke-width="0.6" stroke-linejoin="round"/>
<polygon points="1076.6,833.4 1056.6,830.4 1056.6,832.9 1076.6,835.9" fill="#cfcfcf" stroke="#555" stroke-width="0.6" stroke-linejoin="round"/>
<polygon points="1057.6,826.4 1077.6,829.4 1076.6,833.4 1056.6,830.4" fill="#ddd" stroke="#555" stroke-width="0.6" stroke-linejoin="round"/>
<polygon points="1052.6,826.9 1051.6,830.9 1051.6,833.4 1052.6,829.4" fill="#b9b9b9" stroke="#555" stroke-width="0.6" stroke-linejoin="round"/>
<polygon points="1051.6,830.9 1044.1,827.9 1044.1,830.4 1051.6,833.4" fill="#cfcfcf" stroke="#555" stroke-width="0.6" stroke-linejoin="round"/>
<polygon points="1045.1,823.9 1052.6,826.9 1051.6,830.9 1044.1,827.9" fill="#ddd" stroke="#555" stroke-width="0.6" stroke-linejoin="round"/>
<polygon points="990,844.4 989,848.4 989,850.9 990,846.9" fill="#b9b9b9" stroke="#555" stroke-width="0.6" stroke-linejoin="round"/>
<polygon points="989,848.4 979,845.4 979,847.9 989,850.9" fill="#cfcfcf" stroke="#555" stroke-width="0.6" stroke-linejoin="round"/>
<polygon points="980,841.4 990,844.4 989,848.4 979,845.4" fill="#ddd" stroke="#555" stroke-width="0.6" stroke-linejoin="round"/>
<circle cx="1111.4" cy="733.1" r="1" fill="#666"/>
<circle cx="1103.1" cy="749.6" r="1" fill="#666"/>
<circle cx="1094.9" cy="766.1" r="1" fill="#666"/>
<circle cx="1086.6" cy="782.6" r="1" fill="#666"/>
<circle cx="1078.4" cy="799.1" r="1" fill="#666"/>
<circle cx="1070.1" cy="815.6" r="1" fill="#666"/>
<path d="M1081.4,765.1 L1081.4,741.1 Q1081.4,739.1 1071.4,739.1" fill="none" stroke="#777" stroke-width="0.6"/>
<path d="M1092.6,722.5 L1092.6,696.5 Q1092.6,694.5 1082.6,694.5" fill="none" stroke="#777" stroke-width="0.6"/>
<path d="M1026.3,880.2 L1026.3,862.2 Q1026.3,860.2 1016.3,860.2" fill="none" stroke="#777" stroke-width="0.6"/>
<path d="M1090.1,745.1 L1090.1,723.1 Q1090.1,721.1 1080.1,721.1" fill="none" stroke="#777" stroke-width="0.6"/>
<polygon points="1033.8,758.8 1020.1,790.1 1020.1,797.1 1033.8,765.8" fill="#b9b9b9" stroke="#555" stroke-width="0.6" stroke-linejoin="round"/>
<polygon points="1020.1,790.1 1008.8,787.6 1008.8,794.6 1020.1,797.1" fill="#cfcfcf" stroke="#555" stroke-width="0.6" stroke-linejoin="round"/>
<polygon points="1021.3,756.3 1033.8,758.8 1020.1,790.1 1008.8,787.6" fill="#fafafa" stroke="#555" stroke-width="0.6" stroke-linejoin="round"/>
<polyline points="1020.1,768.1 1031.3,770.1" fill="none" stroke="#666" stroke-width="0.5" stroke-linejoin="round" stroke-linecap="round"/>
<polyline points="1015.1,778.8 1026.3,781.3" fill="none" stroke="#666" stroke-width="0.5" stroke-linejoin="round" stroke-linecap="round"/>
<polygon points="1042.6,805.1 1021.3,807.6 1021.3,814.6 1042.6,812.1" fill="#aaa" stroke="#555" stroke-width="0.6" stroke-linejoin="round"/>
<polygon points="1021.3,796.4 1041.3,797.1 1042.6,805.1 1021.3,807.6" fill="#eee" stroke="#555" stroke-width="0.6" stroke-linejoin="round"/>
<polygon points="1049.6,805.1 1042.6,805.6 1042.6,810.6 1049.6,810.1" fill="#888" stroke="#555" stroke-width="0.6" stroke-linejoin="round"/>
<polygon points="1042.6,805.6 1041.3,797.6 1041.3,802.6 1042.6,810.6" fill="#999" stroke="#555" stroke-width="0.6" stroke-linejoin="round"/>
<polygon points="1041.3,797.6 1048.8,799.1 1049.6,805.1 1042.6,805.6" fill="#bbb" stroke="#555" stroke-width="0.6" stroke-linejoin="round"/>
<path d="M1193.8,421.1 C1184.3,441.4 1175.2,466.8 1146.4,522.6 C1117.7,578.4 1071.4,660.5 1050.1,700 C1028.8,739.5 1042.5,713 1040.1,720 C1037.7,727.1 1036.6,729.6 1038.1,735.1 C1039.6,740.6 1044.4,743.1 1047.6,747.6 C1050.7,752.1 1053.8,753.8 1053.8,757.6 C1053.8,761.3 1051.1,763.8 1047.6,766.3 C1044.1,768.8 1038.6,769.3 1036.3,770.1" fill="none" stroke="#e9502d" stroke-width="1.8" stroke-linecap="round" stroke-linejoin="round"/>
<path d="M1138.9,537.6 C1136.6,540.3 1129.8,549.8 1125.2,553.9 C1120.6,558 1118.7,551.9 1111.4,562.1 C1104.1,572.3 1086.9,603.4 1081.4,615.2 C1075.8,626.9 1077.5,627.3 1078.1,632.7 C1078.8,638.1 1085.6,644.1 1085.1,647.7 C1084.6,651.2 1076.8,652.9 1075.1,653.9" fill="none" stroke="#e9502d" stroke-width="1.5" stroke-linecap="round" stroke-linejoin="round"/>
<path d="M1232.4,430.3 C1225,445.3 1204.7,487.7 1195.2,505.1 C1185.8,522.4 1189.7,513.4 1185.2,517.1 C1180.7,520.7 1177.5,519.3 1172.7,523.3 C1168,527.3 1165.9,530.7 1161.4,537.1 C1156.9,543.5 1154.4,547.5 1150.2,555.1 C1145.9,562.7 1147.7,559.1 1140.2,575.1 C1132.7,591.1 1119.1,619.2 1112.7,635.2 C1106.3,651.2 1109.4,647.2 1108.2,655.2 C1107,663.2 1118.3,647.2 1106.7,675.2 C1095,703.2 1077.7,747.6 1050.1,795.1 C1022.5,842.6 985,889.2 968.8,912.7" fill="none" stroke="#e9502d" stroke-width="1.8" stroke-linecap="round" stroke-linejoin="round"/>
<path d="M1161.4,537.1 C1161.7,539.3 1162.8,544.6 1163.2,550.1 C1163.6,555.6 1164.4,565.1 1163.9,570.1 C1163.5,575.1 1161.2,578.5 1160.7,580.1" fill="none" stroke="#e9502d" stroke-width="1.5" stroke-linecap="round" stroke-linejoin="round"/>
<path d="M1146.4,641.4 C1142.9,643.7 1130.8,651 1125.2,655.2 C1119.5,659.4 1115.7,663.1 1112.7,666.4 C1109.6,669.8 1107.7,673.7 1106.7,675.2" fill="none" stroke="#e9502d" stroke-width="1.5" stroke-linecap="round" stroke-linejoin="round"/>
<path d="M962.5,912.7 C968.6,899.3 993,848.1 998.8,832.6 C1004.5,817.2 995.9,823.8 997,820.1 C998.2,816.5 1002.1,812.7 1005.5,810.6 C1009,808.5 1015.6,808.1 1017.6,807.6" fill="none" stroke="#e9502d" stroke-width="1.6" stroke-linecap="round" stroke-linejoin="round"/>
<polygon points="1232.8,429.5 1233.4,433.5 1230.1,432.5" fill="#e9502d"/>
<polygon points="1146.4,523.1 1146.4,519.6 1149.1,520.8" fill="#e9502d"/>
<polygon points="1050.1,795.6 1050,792.1 1052.7,793.3" fill="#e9502d"/>
<polygon points="1008.8,803.1 1008.8,806.6 1006.1,805.4" fill="#e9502d"/>
<polygon points="962,913.9 962.1,910.4 964.7,911.7" fill="#e9502d"/>
<polygon points="1035.1,770.3 1037.4,768.4 1038,770.9" fill="#e9502d"/>
<path d="M1106.4,497.6 C1098.9,513.8 1040.6,635.5 1031,660 C1021.4,684.5 1019.2,720 1010.1,742.6 C1001,765.1 947.5,868.8 940,885.2 C932.5,901.6 935.6,904.3 935.1,906.4" fill="none" stroke="#2f9150" stroke-width="1.7" stroke-linecap="round" stroke-linejoin="round"/>
<path d="M1034,668 C1032.9,675.6 1030.5,722.5 1022.6,743.8 C1014.7,765.2 961.8,867.7 955,881.4" fill="none" stroke="#222" stroke-width="1.3" stroke-linecap="round" stroke-linejoin="round"/>
<polyline points="1007.6,710 1005.5,732.6" fill="none" stroke="#444" stroke-width="0.8" stroke-linejoin="round" stroke-linecap="round"/>
<polygon points="993.8,736.3 1005.5,733.1 1012.6,742.6 1001.3,750.1" fill="#777" fill-opacity=".55"/>
<polyline points="1083.9,535.1 1086.4,555.1" fill="none" stroke="#333" stroke-width="1" stroke-linejoin="round" stroke-linecap="round"/>
<polygon points="925.1,868.9 910.1,871.4 910.1,877.4 925.1,874.9" fill="#b9b9b9" stroke="#555" stroke-width="0.6" stroke-linejoin="round"/>
<polygon points="910.1,871.4 906.4,865.1 906.4,871.1 910.1,877.4" fill="#cfcfcf" stroke="#555" stroke-width="0.6" stroke-linejoin="round"/>
<polygon points="906.4,865.1 921.4,863.9 925.1,868.9 910.1,871.4" fill="#fafafa" stroke="#555" stroke-width="0.6" stroke-linejoin="round"/>
<polygon points="921.4,872.6 920.6,877.6 920.6,887.6 921.4,882.6" fill="#aaa" stroke="#555" stroke-width="0.6" stroke-linejoin="round"/>
<polygon points="920.6,877.6 907.6,878.9 907.6,888.9 920.6,887.6" fill="#aaa" stroke="#555" stroke-width="0.6" stroke-linejoin="round"/>
<polygon points="908.1,873.9 921.4,872.6 920.6,877.6 907.6,878.9" fill="#ccc" stroke="#555" stroke-width="0.6" stroke-linejoin="round"/>
<polygon points="963.9,885.2 962.7,892.7 962.7,897.7 963.9,890.2" fill="#b9b9b9" stroke="#555" stroke-width="0.6" stroke-linejoin="round"/>
<polygon points="962.7,892.7 931.4,888.2 931.4,893.2 962.7,897.7" fill="#cfcfcf" stroke="#555" stroke-width="0.6" stroke-linejoin="round"/>
<polygon points="932.6,881.4 963.9,885.2 962.7,892.7 931.4,888.2" fill="#fafafa" stroke="#555" stroke-width="0.6" stroke-linejoin="round"/>
<polygon points="1000.2,883.2 998.9,892.7 998.9,900.7 1000.2,891.2" fill="#b9b9b9" stroke="#555" stroke-width="0.6" stroke-linejoin="round"/>
<polygon points="998.9,892.7 983.9,890.2 983.9,898.2 998.9,900.7" fill="#cfcfcf" stroke="#555" stroke-width="0.6" stroke-linejoin="round"/>
<polygon points="986.4,881.4 1000.2,883.2 998.9,892.7 983.9,890.2" fill="#ddd" stroke="#555" stroke-width="0.6" stroke-linejoin="round"/>
<polygon points="966.4,885.7 965.2,891.4 965.2,895.4 966.4,889.7" fill="#b9b9b9" stroke="#555" stroke-width="0.6" stroke-linejoin="round"/>
<polygon points="965.2,891.4 946.4,889.7 946.4,893.7 965.2,895.4" fill="#cfcfcf" stroke="#555" stroke-width="0.6" stroke-linejoin="round"/>
<polygon points="947.7,883.9 966.4,885.7 965.2,891.4 946.4,889.7" fill="#fafafa" stroke="#555" stroke-width="0.6" stroke-linejoin="round"/>
<polyline points="720.2,719.3 800.8,800 902.6,892.7" fill="none" stroke="#444" stroke-width="2" stroke-linejoin="round" stroke-linecap="round"/>
<polyline points="720.2,729.4 794.1,803.4 900.1,897.7 915.1,900.2" fill="none" stroke="#555" stroke-width="1.5" stroke-linejoin="round" stroke-linecap="round"/>
<polygon points="721.8,719.7 802.5,800.3 903.9,891.4 905.1,888.9 805,798.3 725.2,718.5" fill="#f4f4f4"/>
<polyline points="803.4,733.6 868.1,796.6 923.9,852.6 926.4,870.1" fill="none" stroke="#555" stroke-width="0.7" stroke-linejoin="round" stroke-linecap="round"/>
<polyline points="807.6,732.8 869.7,793.3" fill="none" stroke="#888" stroke-width="0.5" stroke-linejoin="round" stroke-linecap="round"/>
<polygon points="893.3,610.1 897,613.1 779,766.4 773.9,763.9" fill="#f7f7f7"/>
<polyline points="893.3,610.1 773.9,763.9" fill="none" stroke="#6a6a6a" stroke-width="1.6" stroke-linejoin="round" stroke-linecap="round"/>
<polyline points="897,613.1 779,766.4" fill="none" stroke="#6a6a6a" stroke-width="1.3" stroke-linejoin="round" stroke-linecap="round"/>
<polygon points="890.1,895.2 990.2,885.2 990.2,930.2 880.1,930.2" fill="url(#hhbot)"/>
<polygon points="1000,900.2 1028.8,891.4 1076.4,910.2 1080.1,935.2 1007.6,925.2" fill="#e3e2dc" stroke="#666" stroke-width="0.6" stroke-linejoin="round"/>
<polygon points="1000,890.2 1080.1,871.4 1080.1,877.7 1028.8,891.4 1000,900.2" fill="#f2f2f2" stroke="#666" stroke-width="0.6" stroke-linejoin="round"/>
<polygon points="1028.8,891.4 1076.4,910.2 1077.1,906.4 1032.6,886.4" fill="#d6d6d6" stroke="#666" stroke-width="0.5" stroke-linejoin="round"/>
<polygon points="1007.6,925.2 1080.1,935.2 1083.9,950.2 1006.3,934" fill="#f4f4f4" stroke="#666" stroke-width="0.6" stroke-linejoin="round"/>
<polygon points="975,906.4 993.8,901.4 1001.3,929 986.3,936.5" fill="#c8c8c8"/>
<polygon points="1001.3,888.9 986.3,891.4 986.3,897.4 1001.3,894.9" fill="#b9b9b9" stroke="#555" stroke-width="0.6" stroke-linejoin="round"/>
<polygon points="986.3,891.4 985,883.9 985,889.9 986.3,897.4" fill="#cfcfcf" stroke="#555" stroke-width="0.6" stroke-linejoin="round"/>
<polygon points="985,883.9 1000,881.4 1001.3,888.9 986.3,891.4" fill="#e4e4e4" stroke="#555" stroke-width="0.6" stroke-linejoin="round"/>
<clipPath id="hhc"><circle cx="1170.2" cy="902.4" r="97"/></clipPath>
<circle cx="1170.2" cy="902.4" r="97" fill="#e6e6e3"/>
<g clip-path="url(#hhc)">
<polygon points="1119.7,936.5 1182.3,932.2 1237.8,940.8 1242.1,962.8 1192.3,994.8 1179.5,956.4 1171,947.9 1139.7,946.5" fill="#c3c3c0"/>
<polygon points="1182.3,932.2 1237.8,940.8 1242.1,962.8 1253.5,974.9 1196.6,1003.4 1192.3,994.8 1179.5,956.4" fill="#bdbdba"/>
<polygon points="1237.8,940.8 1247.8,930.8 1257.7,943.6 1242.1,962.8" fill="#f2f2f0" stroke="#777" stroke-width="0.6" stroke-linejoin="round"/>
<polygon points="1081.3,916.6 1139.7,916.3 1139.7,928.3 1081.3,931.1" fill="#dbdbd8" stroke="#666" stroke-width="0.6" stroke-linejoin="round"/>
<polygon points="1081.3,931.1 1139.7,928.3 1152.5,929.1 1182.3,930.1 1183.8,932.2 1119.7,936.8 1082.8,932.2" fill="#d0d0cd"/>
<polygon points="1095.8,889.6 1102.7,889.6 1102.7,923 1095.8,922.3" fill="#d4d4d1" stroke="#666" stroke-width="0.6" stroke-linejoin="round"/>
<polygon points="1102.7,893.1 1122.6,890.3 1124.3,903.8 1102.7,908.3" fill="#f6f6f4" stroke="#666" stroke-width="0.5" stroke-linejoin="round"/>
<polygon points="1102.7,908.3 1124.3,903.8 1134,902.4 1136.8,903.8 1121.2,907.4 1121.2,925.1 1114.8,925.8 1114.1,910.9 1102.7,912.3" fill="#eeeeec" stroke="#666" stroke-width="0.5" stroke-linejoin="round"/>
<polygon points="1093,887 1102.7,879.3 1134.3,883.2 1125.7,891.3" fill="#e9e9e7" stroke="#555" stroke-width="0.7" stroke-linejoin="round"/>
<polygon points="1093,887 1125.7,891.3 1125.7,893.1 1093,888.7" fill="#cfcfcc" stroke="#555" stroke-width="0.5" stroke-linejoin="round"/>
<polyline points="1125.7,891.3 1125.7,902.4" fill="none" stroke="#555" stroke-width="0.7" stroke-linejoin="round" stroke-linecap="round"/>
<polyline points="1111.2,912.3 1111.5,928.7" fill="none" stroke="#444" stroke-width="1" stroke-linejoin="round" stroke-linecap="round"/>
<polygon points="1121.2,912.3 1139.7,910.9 1139.7,928 1121.2,925.8" fill="#c8c8c5" stroke="#666" stroke-width="0.5" stroke-linejoin="round"/>
<polyline points="1153.2,894.6 1153.2,910.2" fill="none" stroke="#555" stroke-width="0.8" stroke-linejoin="round" stroke-linecap="round"/>
<polyline points="1149.9,895 1158.2,895" fill="none" stroke="#444" stroke-width="1.1" stroke-linejoin="round" stroke-linecap="round"/>
<polygon points="1139.7,906.6 1152.5,904.9 1152.5,928.7 1139.7,928.3" fill="#c9c9c6" stroke="#777" stroke-width="0.5" stroke-linejoin="round"/>
<polygon points="1152.5,904.7 1182.6,902.4 1183.2,929.1 1152.5,928.8" fill="#fafaf9" stroke="#888" stroke-width="0.5" stroke-linejoin="round"/>
<polygon points="1145.3,908.8 1148.9,908.5 1148.9,913.8 1145.3,914" fill="#555"/>
<polygon points="1222.4,872.5 1246.6,865.7 1249.2,869.7 1246.6,900.7 1225.7,902.1" fill="#c8c8c5" stroke="#777" stroke-width="0.5" stroke-linejoin="round"/>
<polygon points="1221.5,871.8 1249.5,864.5 1251.6,867.5 1223.6,874.9" fill="#dededb" stroke="#666" stroke-width="0.6" stroke-linejoin="round"/>
<polygon points="1240.7,875.3 1244.9,874.2 1245.2,886.7 1240.9,887.9" fill="#dededb" stroke="#888" stroke-width="0.4" stroke-linejoin="round"/>
<polygon points="1183.8,903.8 1246.6,899.5 1248.1,930.8 1237.8,940.8 1183.8,932.5" fill="#cbcbc8" stroke="#777" stroke-width="0.5" stroke-linejoin="round"/>
<polygon points="1183.8,903.8 1246.6,899.5 1246.6,902.4 1183.8,906.4" fill="#e2e2df"/>
<polygon points="1246.6,882.5 1259.1,866.1 1269.1,889.6 1258,943.9 1248.1,930.8" fill="#f6f6f4" stroke="#666" stroke-width="0.6" stroke-linejoin="round"/>
<polyline points="1244.9,883.9 1257,868" fill="none" stroke="#666" stroke-width="0.6" stroke-linejoin="round" stroke-linecap="round"/>
<circle cx="1187" cy="915.5" r="1.8" fill="#c9a090" stroke="#a0523c" stroke-width=".5"/>
<polyline points="1192.3,916.3 1197.3,915.7" fill="none" stroke="#333" stroke-width="1" stroke-linejoin="round" stroke-linecap="round"/>
</g>
<circle cx="1170.2" cy="902.4" r="97" fill="none" stroke="#666" stroke-width="1.5"/>
<path d="M1110.1,979 Q1022.6,1000.3 990,935.2" fill="none" stroke="#333" stroke-width="1"/>
<polygon points="988,931 993.5,935.4 988.2,938" fill="#222"/>
<path d="M772.6,481.3 L846,403 Q860,392.2 880,392.2 L902,392.2" fill="none" stroke="#333" stroke-width=".9"/>
<circle cx="772.6" cy="481.3" r="1.3" fill="#222"/>
<path d="M753.9,515.1 L824,440.5 Q836,427.7 852,427.7 L873,427.7" fill="none" stroke="#333" stroke-width=".9"/>
<circle cx="753.9" cy="515.1" r="1.3" fill="#222"/>
<path d="M865.5,700.8 L779,788.2 Q770.6,797 758.8,797 L742,797" fill="none" stroke="#333" stroke-width=".9"/>
<circle cx="865.5" cy="700.8" r="1.3" fill="#222"/>
<path d="M910.1,827.6 L870.1,870.1 Q860.1,880.2 845.1,880.2 L826.3,880.2" fill="none" stroke="#333" stroke-width=".9"/>
<circle cx="910.1" cy="827.6" r="1.3" fill="#222"/>
<path d="M1038.8,818.9 L1050.1,807.6 L1100.1,755.1 Q1108.9,746.3 1122.6,746.3 L1152.7,746.3" fill="none" stroke="#333" stroke-width=".9"/>
<polygon points="1038.3,819.4 1039.7,815.6 1042.1,818" fill="#222"/>
<polyline points="1283,506 1243,597" fill="none" stroke="#222" stroke-width="0.9" stroke-linejoin="round" stroke-linecap="round"/>
<polygon points="1283,506 1283.2,513 1277.7,510.6" fill="#222"/>
<polygon points="1243,597 1242.8,590 1248.3,592.4" fill="#222"/>
</g><g id="st">
<defs>
<linearGradient id="stleft" gradientUnits="userSpaceOnUse" x1="60" y1="1085" x2="130" y2="1102"><stop offset="0" stop-color="#fff"/><stop offset="1" stop-color="#fff" stop-opacity="0"/></linearGradient>
<linearGradient id="stbelow" gradientUnits="userSpaceOnUse" x1="0" y1="1470" x2="0" y2="1590"><stop offset="0" stop-color="#e6e5df"/><stop offset="1" stop-color="#fff"/></linearGradient>
<linearGradient id="stne" gradientUnits="userSpaceOnUse" x1="1250" y1="1195" x2="1225" y2="1290"><stop offset="0" stop-color="#fff"/><stop offset="1" stop-color="#e9e8e2"/></linearGradient>
<linearGradient id="stright" gradientUnits="userSpaceOnUse" x1="1350" y1="0" x2="1395" y2="0"><stop offset="0" stop-color="#e8e8e8"/><stop offset="1" stop-color="#fff"/></linearGradient>
</defs>
<polyline points="97,1041 31,1180" fill="none" stroke="#9a9a9a" stroke-width="0.7" stroke-linejoin="round" stroke-linecap="round"/>
<polyline points="186,1058 120,1207" fill="none" stroke="#9a9a9a" stroke-width="0.7" stroke-linejoin="round" stroke-linecap="round"/>
<polyline points="289.6,1078.6 219.3,1233.7" fill="none" stroke="#9a9a9a" stroke-width="0.7" stroke-linejoin="round" stroke-linecap="round"/>
<polyline points="446.8,1371.7 413.7,1440" fill="none" stroke="#9a9a9a" stroke-width="0.7" stroke-linejoin="round" stroke-linecap="round"/>
<polyline points="732.4,1493.8 701.3,1555.8" fill="none" stroke="#9a9a9a" stroke-width="0.7" stroke-linejoin="round" stroke-linecap="round"/>
<polyline points="856.5,1514.5 825.5,1584.8" fill="none" stroke="#9a9a9a" stroke-width="0.7" stroke-linejoin="round" stroke-linecap="round"/>
<polygon points="879,1489 1000,1456 1283.5,1456 1283.5,1560 879,1600" fill="url(#stbelow)"/>
<polyline points="1080,1462.7 1044.8,1539.3" fill="none" stroke="#9a9a9a" stroke-width="0.7" stroke-linejoin="round" stroke-linecap="round"/>
<polyline points="1175.1,1460.2 1136.8,1539.9" fill="none" stroke="#9a9a9a" stroke-width="0.7" stroke-linejoin="round" stroke-linecap="round"/>
<polyline points="1266.8,1460.2 1230.2,1540" fill="none" stroke="#9a9a9a" stroke-width="0.7" stroke-linejoin="round" stroke-linecap="round"/>
<polyline points="1281,1458 1281,1502" fill="none" stroke="#888" stroke-width="0.8" stroke-linejoin="round" stroke-linecap="round"/>
<polyline points="1284.5,1458 1284.5,1502" fill="none" stroke="#888" stroke-width="0.8" stroke-linejoin="round" stroke-linecap="round"/>
<polyline points="879,1492 876,1560" fill="none" stroke="#888" stroke-width="0.8" stroke-linejoin="round" stroke-linecap="round"/>
<polyline points="882,1492 880,1562" fill="none" stroke="#888" stroke-width="0.8" stroke-linejoin="round" stroke-linecap="round"/>
<polyline points="921,1475 919,1550" fill="none" stroke="#888" stroke-width="0.8" stroke-linejoin="round" stroke-linecap="round"/>
<polygon points="1180.1,1186.7 1276.9,1186.7 1364.2,1296.7 1350.2,1348.4 1230.2,1297.4 1156.8,1255" fill="url(#stne)"/>
<polygon points="1340.2,1386.8 1393.6,1396.8 1386.9,1430.2 1338.6,1422.8" fill="url(#stright)"/>
<polygon points="82.7,1050 117.9,1057.9 243.5,1089.4 333,1110 358.4,1056.7 368.4,1030 375,998.3 406.7,1005 696.9,1019.4 700.2,1003.3 740.3,1006 828.7,1029.4 790.3,1136.8 846,1153.4 1165.2,1236.8 1155.2,1259.4 1220.9,1291.8 1229.3,1296.8 1350.2,1347.4 1347.6,1373.4 1340.2,1400.1 1338.9,1430.2 1333.6,1443.5 1320.2,1448.8 1000,1447.5 923.6,1469.5 880.3,1489.5 830.2,1519.5 753.5,1496.9 530.7,1440.5 506.1,1429.5 482.8,1414 464.7,1396.7 446.6,1370 411.7,1266.6 392,1262 363.6,1210.1 346.9,1196.8 313.5,1188.4 55,1105 45.5,1109.6" fill="#e2e2e2"/>
<polygon points="530.7,1440.5 753.5,1496.9 830.2,1519.5 880.3,1489.5 923.6,1469.5 1000,1447.5 1320.2,1448.8 1333.6,1443.5 1338.9,1430.2 1338.9,1439.2 1333.6,1452.5 1320.2,1457.8 1000,1456.5 923.6,1478.5 880.3,1498.5 830.2,1528.5 753.5,1505.9 530.7,1449.5" fill="#f3f3f3" stroke="#666" stroke-width="0.6" stroke-linejoin="round"/>
<polyline points="530.7,1440.5 753.5,1496.9 830.2,1519.5 880.3,1489.5 923.6,1469.5 1000,1447.5 1320.2,1448.8 1333.6,1443.5 1338.9,1430.2" fill="none" stroke="#555" stroke-width="0.8" stroke-linejoin="round" stroke-linecap="round"/>
<polygon points="340,1106.7 358.4,1056.7 368.4,1030 375,998.3 406.7,1005 496.8,1010 470.1,1123.4 430.1,1121.8" fill="#dedede"/>
<polygon points="486.8,1028.4 696.9,1020 706.9,1040 825.3,1051.7 790.3,1136.8 683.6,1136.8 543.5,1136.8 463.4,1123.4" fill="#d3d7cc"/>
<path d="M473.4,1080.1 L486.8,1040 Q490.1,1030 503.4,1029.4 L583.5,1031.7" fill="none" stroke="#e1e1e0" stroke-width="9" stroke-linejoin="round"/>
<path d="M463.4,1086.7 L623.5,1090.1 L610.2,1050 L670.2,1040" fill="none" stroke="#e1e1e0" stroke-width="8" stroke-linejoin="round"/>
<path d="M683.6,1061.7 L763.6,1061.7 Q797,1065.1 790.3,1090.1 Q783.6,1113.4 757,1113.4 L643.5,1123.4" fill="none" stroke="#e2e2e1" stroke-width="9" stroke-linejoin="round"/>
<polygon points="489.1,1049.4 506.8,1045.4 487.4,1119.4 473.4,1117.8" fill="#bcbfb6"/>
<polygon points="613.2,1049.4 630.2,1041.7 618.9,1098.7 610.5,1093.4" fill="#bcbfb6"/>
<polygon points="679.2,1090.7 694.6,1088.1 765.6,1098.4 764.3,1102.7 680.2,1100.1" fill="#bcbfb6"/>
<polygon points="543.5,1090.1 563.5,1077.4 570.2,1105.1 560.2,1106.7" fill="#bcbfb6"/>
<polygon points="746.6,1135 1165.2,1237.4 1155.2,1259.4 1220.9,1291.8 1229.3,1296.8 1350.2,1347.4 1347.6,1373.4 1233.5,1328.4 1110.1,1278.4 1000.1,1251.8 843.4,1223.4 840,1233.4 746.6,1210.1" fill="#d3d7cc"/>
<polygon points="1013.3,1447.5 1043.4,1420.1 1096.7,1400.8 1140.1,1396.8 1186.8,1381.8 1216.8,1385.1 1266.8,1403.5 1338.6,1422.8 1338.9,1430.2 1333.6,1443.5 1320.2,1448.8" fill="#d3d7cc"/>
<polygon points="1100.1,1404.1 1186.8,1386.8 1233.5,1413.5 1146.8,1447.5 1020,1447.5" fill="#dcdcd8"/>
<path d="M442.2,1266.6 L450,1265.3 Q463.4,1301.5 481.5,1330 Q507.4,1361 551.3,1372.6 L541,1389.4 Q504.8,1384.3 481.5,1353.2 Q458.3,1319.6 445.3,1288.6 Z" fill="#d3d7cc"/>
<polygon points="780.2,1433.5 846.9,1430.2 943.6,1438.5 896.9,1456.8 840.2,1463.5 790.2,1453.5" fill="#d3d7cc"/>
<polygon points="910.1,1193.4 1133.6,1256.8 1133.6,1266.8 910.1,1210.1" fill="#dadcd5"/>
<polygon points="20,1030 140,1045 140,1140 20,1110" fill="url(#stleft)"/>
<path d="M300,1150 C320,1156.7 376.7,1178 420,1190 C463.3,1202 513.3,1212 560,1222 C606.7,1232 676.7,1245.3 700,1250" fill="none" stroke="#ececec" stroke-width="3" stroke-linecap="round" stroke-linejoin="round"/>
<path d="M330,1175 C350,1183.3 405,1208.3 450,1225 C495,1241.7 548.3,1259.2 600,1275 C651.7,1290.8 733.3,1312.5 760,1320" fill="none" stroke="#ececec" stroke-width="3" stroke-linecap="round" stroke-linejoin="round"/>
<path d="M620,1230 C650,1235.3 736.7,1250.3 800,1262 C863.3,1273.7 966.7,1293.7 1000,1300" fill="none" stroke="#ececec" stroke-width="3" stroke-linecap="round" stroke-linejoin="round"/>
<path d="M700,1290 C733.3,1298.3 833.3,1328.3 900,1340 C966.7,1351.7 1066.7,1356.7 1100,1360" fill="none" stroke="#ececec" stroke-width="3" stroke-linecap="round" stroke-linejoin="round"/>
<polygon points="603.5,1235.2 551.8,1256.8 757,1320.2 797,1291.9" fill="#c4c4c4"/>
<polygon points="543.5,1203.5 583.5,1190.1 630.2,1203.5 603.5,1223.5" fill="#c8c8c8"/>
<path d="M92,1077 C104.8,1079.6 107.1,1079.8 147,1088 C186.9,1096.2 220.3,1101.7 263,1112 C305.7,1122.3 300.4,1122.2 330,1132 C359.6,1141.8 358.7,1143.5 390,1154 C421.3,1164.5 427.6,1166.3 464,1177 C500.4,1187.7 512.6,1192.1 546,1200 C579.4,1207.9 579.5,1207.5 607,1211 C634.5,1214.5 639,1212.9 664,1215 C689,1217.1 682.3,1215.6 714,1220 C745.7,1224.4 756.6,1225.4 800,1234 C843.4,1242.6 853.3,1245.8 900,1257 C946.7,1268.2 961,1272 1000,1282 C1039,1292 1039.7,1289.7 1067,1300 C1094.3,1310.3 1093.7,1316.7 1117,1326 C1140.3,1335.3 1139.7,1332.8 1167,1340 C1194.3,1347.2 1189,1344.6 1234,1357 C1279,1369.4 1330.6,1384.6 1360,1393" fill="none" stroke="#3f55a8" stroke-width="2.0" stroke-linecap="round" stroke-linejoin="round"/>
<path d="M546,1200 C560.2,1202.6 571.1,1203.5 607,1211 C642.9,1218.5 655,1223.1 700,1232 C745,1240.9 753.3,1241.1 800,1249 C846.7,1256.9 851.7,1256.9 900,1266 C948.3,1275.1 971.1,1280.1 1007,1288 C1042.9,1295.9 1034.2,1292.5 1054,1300 C1073.8,1307.5 1075.4,1312.8 1092,1320 C1108.6,1327.2 1107.5,1326.3 1125,1331 C1142.5,1335.7 1141.6,1333.9 1167,1340 C1192.4,1346.1 1218.4,1353 1234,1357" fill="none" stroke="#3f55a8" stroke-width="2.0" stroke-linecap="round" stroke-linejoin="round"/>
<path d="M83,1100 C117.3,1108.2 176.3,1121 230,1135 C283.7,1149 281.7,1149.5 313,1160 C344.3,1170.5 342.8,1170 364,1180 C385.2,1190 384.6,1191.1 404,1203 C423.4,1214.9 429.3,1223.3 447,1231 C464.7,1238.7 456.9,1229.7 480,1236 C503.1,1242.3 515,1248.4 546,1258 C577,1267.6 567.7,1264.9 613,1277 C658.3,1289.1 685.4,1296.9 740,1310 C794.6,1323.1 787.3,1321.3 847,1333 C906.7,1344.7 949.3,1352.9 996,1360 C1042.7,1367.1 1015,1361.9 1047,1363.5 C1079,1365.1 1097.3,1363.2 1133,1367 C1168.7,1370.8 1168.7,1372.3 1200,1380 C1231.3,1387.7 1229.2,1393.3 1267,1400 C1304.8,1406.7 1339.8,1406.5 1362,1408.5" fill="none" stroke="#3f55a8" stroke-width="2.0" stroke-linecap="round" stroke-linejoin="round"/>
<path d="M313,1160 C324.9,1164.7 341.4,1167.4 364,1180 C386.6,1192.6 390.6,1200 410,1214 C429.4,1228 428.3,1228.6 447,1240 C465.7,1251.4 470.6,1253 490,1263 C509.4,1273 493.4,1270.4 530,1283 C566.6,1295.6 599.4,1305.3 647,1317 C694.6,1328.7 695,1326 734,1333 C773,1340 776,1339.1 814,1347 C852,1354.9 854.5,1359.3 897,1367 C939.5,1374.7 965,1376 996,1380 C1027,1384 1008.1,1384.9 1030,1384 C1051.9,1383.1 1066,1380 1090,1376 C1114,1372 1107.3,1366.1 1133,1367 C1158.7,1367.9 1184.4,1377 1200,1380" fill="none" stroke="#3f55a8" stroke-width="2.0" stroke-linecap="round" stroke-linejoin="round"/>
<path d="M89,1085 C121.9,1090.8 175.2,1097.6 230,1110 C284.8,1122.4 292.7,1127 324,1138 C355.3,1149 339.3,1148.1 364,1157 C388.7,1165.9 404.3,1165.3 430,1176 C455.7,1186.7 446.9,1191.1 474,1203 C501.1,1214.9 518.9,1217.4 546,1227 C573.1,1236.6 570.4,1237.2 590,1244 C609.6,1250.8 581,1250.6 630,1256 C679,1261.4 737,1259.1 800,1267 C863,1274.9 858,1280.4 900,1290 C942,1299.6 948.7,1301 980,1308 C1011.3,1315 998.3,1312.8 1034,1320 C1069.7,1327.2 1086.3,1328.5 1133,1339 C1179.7,1349.5 1181,1350.8 1234,1365 C1287,1379.2 1330.6,1391.8 1360,1400" fill="none" stroke="#e9502d" stroke-width="2.0" stroke-linecap="round" stroke-linejoin="round"/>
<path d="M546,1227 C556.3,1231 558.7,1233.5 590,1244 C621.3,1254.5 631,1259.6 680,1272 C729,1284.4 756.4,1286.5 800,1297 C843.6,1307.5 839.7,1310.5 867,1317 C894.3,1323.5 895.3,1323.1 917,1325 C938.7,1326.9 939.5,1326.4 960,1325 C980.5,1323.6 987.7,1320.2 1005,1319 C1022.3,1317.8 1004.1,1315.3 1034,1320 C1063.9,1324.7 1109.9,1334.6 1133,1339" fill="none" stroke="#e9502d" stroke-width="2.0" stroke-linecap="round" stroke-linejoin="round"/>
<path d="M80,1107 C112,1114.7 161,1126 217,1140 C273,1154 285.7,1155.3 320,1167 C354.3,1178.7 346,1179.3 364,1190 C382,1200.7 377.6,1199.7 397,1213 C416.4,1226.3 423.7,1234.4 447,1247 C470.3,1259.6 473.9,1257 497,1267 C520.1,1277 524.3,1281.6 546,1290 C567.7,1298.4 570.4,1294.8 590,1303 C609.6,1311.2 613.7,1314.7 630,1325 C646.3,1335.3 643.7,1338.4 660,1347 C676.3,1355.6 672,1354.3 700,1362 C728,1369.7 738,1371.1 780,1380 C822,1388.9 835,1393.2 880,1400 C925,1406.8 937.3,1409.7 973,1409 C1008.7,1408.3 1005,1402.1 1033,1397 C1061,1391.9 1061.7,1388.9 1093,1387 C1124.3,1385.1 1142,1388.1 1167,1389 C1192,1389.9 1176.7,1386.1 1200,1391 C1223.3,1395.9 1229.2,1403.6 1267,1410 C1304.8,1416.4 1339.8,1416.5 1362,1418.5" fill="none" stroke="#e9502d" stroke-width="2.0" stroke-linecap="round" stroke-linejoin="round"/>
<path d="M546,1290 C556.3,1293 575.5,1294.8 590,1303 C604.5,1311.2 602.6,1316.4 608,1325 C613.4,1333.6 610.2,1331.4 613,1340 C615.8,1348.6 615.6,1353.1 620,1362 C624.4,1370.9 621,1370.8 632,1378 C643,1385.2 632.5,1383.2 667,1393 C701.5,1402.8 730.3,1414.2 780,1420 C829.7,1425.8 835,1420.6 880,1418 C925,1415.4 937.3,1413.9 973,1409 C1008.7,1404.1 1019,1399.8 1033,1397" fill="none" stroke="#e9502d" stroke-width="2.0" stroke-linecap="round" stroke-linejoin="round"/>
<polygon points="427,1165.5 432.4,1164.8 431.1,1169.2" fill="#3f55a8"/>
<polygon points="1033.5,1291 1038.9,1290 1037.7,1294.5" fill="#3f55a8"/>
<polygon points="1030.5,1294 1035.9,1293 1034.8,1297.5" fill="#3f55a8"/>
<polygon points="452,1189.5 457.5,1190.1 455,1194.1" fill="#e9502d"/>
<polygon points="510,1215 515.5,1214.4 514,1218.8" fill="#e9502d"/>
<polygon points="1007,1314 1012.4,1312.8 1011.4,1317.4" fill="#e9502d"/>
<polygon points="938.5,1325 943.5,1322.7 943.5,1327.3" fill="#e9502d"/>
<polygon points="463.5,1233.5 458.2,1235.1 458.9,1230.5" fill="#3f55a8"/>
<polygon points="1021.5,1361.8 1016.4,1363.7 1016.7,1359.1" fill="#3f55a8"/>
<polygon points="1013,1382 1007.8,1383.7 1008.3,1379.1" fill="#3f55a8"/>
<polygon points="468.5,1251.5 463,1251.2 465.2,1247.1" fill="#3f55a8"/>
<polygon points="610,1314 615.5,1314.4 613.2,1318.4" fill="#e9502d"/>
<polygon points="1063,1392 1067.5,1388.9 1068.3,1393.5" fill="#e9502d"/>
<polygon points="616.5,1351 612.8,1347 617.2,1345.5" fill="#e9502d"/>
<polygon points="680,1354.5 674.5,1354.9 676.1,1350.6" fill="#e9502d"/>
<polygon points="90,1076.6 96.8,1075 95.6,1080.8" fill="#3f55a8"/>
<polygon points="87,1084.6 93.8,1083 92.6,1088.8" fill="#e9502d"/>
<polygon points="1364,1408.8 1359.7,1410 1360.3,1406.3" fill="#3f55a8"/>
<polygon points="1364,1418.8 1359.7,1420 1360.3,1416.3" fill="#e9502d"/>
<path d="M99,1060 C128.8,1065.8 199.8,1077.4 248,1089 C296.2,1100.6 310.2,1110.4 340,1118 C369.8,1125.6 372.4,1124.6 397,1127 C421.6,1129.4 433,1127.8 463,1130 C493,1132.2 518.8,1135.4 547,1138 C575.2,1140.6 580.6,1140.6 604,1143 C627.4,1145.4 632,1145.2 664,1150 C696,1154.8 727.6,1159.6 764,1167 C800.4,1174.4 829.6,1183 846,1187" fill="none" stroke="#2f9150" stroke-width="1.7" stroke-linecap="round" stroke-linejoin="round"/>
<polyline points="846,1187 861.7,1191.7 856.7,1213.4 966.8,1240.1 1100.2,1270.1 1166.9,1290.1 1246.8,1323.4 1346.9,1365.1" fill="none" stroke="#2f9150" stroke-width="1.7" stroke-linejoin="round" stroke-linecap="round"/>
<polyline points="846.7,1189.4 862.7,1192.4 857.4,1213.4 842.7,1210.1" fill="none" stroke="#2f9150" stroke-width="1" stroke-linejoin="round" stroke-linecap="round"/>
<polygon points="118,1058 243,1089 340,1116 397,1124 463,1127 546,1136 640,1137 640,1133 546,1132 463,1123 397,1120 340,1112 243,1085 118,1054" fill="#f6f6f6" stroke="#444" stroke-width="0.6" stroke-linejoin="round"/>
<polyline points="118,1056 243,1087 340,1114 397,1122 463,1125 546,1134 640,1135" fill="none" stroke="#555" stroke-width="4" stroke-dasharray="0.7 3.6"/>
<polygon points="640,1137 690,1136 790,1137 846,1152 1000.1,1193.4 1165.2,1236.8 1165.2,1232.3 1000.1,1188.9 846,1147.5 790,1132.5 690,1131.5 640,1132.5" fill="#f6f6f6" stroke="#444" stroke-width="0.6" stroke-linejoin="round"/>
<polyline points="640,1134.8 690,1133.8 790,1134.8 846,1149.8 1000.1,1191.1 1165.2,1234.5" fill="none" stroke="#555" stroke-width="4.5" stroke-dasharray="0.7 3.6"/>
<polygon points="713.6,1141.8 790.3,1146.8 800,1166 1000.1,1216.7 1133.6,1249.1 1155.2,1260.1 1155.2,1256.1 1133.6,1245.1 1000.1,1212.7 800,1162 790.3,1142.8 713.6,1137.8" fill="#f6f6f6" stroke="#444" stroke-width="0.6" stroke-linejoin="round"/>
<polyline points="713.6,1139.8 790.3,1144.8 800,1164 1000.1,1214.7 1133.6,1247.1 1155.2,1258.1" fill="none" stroke="#555" stroke-width="4" stroke-dasharray="0.7 3.6"/>
<polygon points="446.7,1131.8 543.5,1146.8 596.8,1153.4 663.6,1156.8 663.6,1153.3 596.8,1149.9 543.5,1143.3 446.7,1128.3" fill="#f6f6f6" stroke="#444" stroke-width="0.6" stroke-linejoin="round"/>
<polyline points="446.7,1130 543.5,1145 596.8,1151.7 663.6,1155" fill="none" stroke="#555" stroke-width="3.5" stroke-dasharray="0.7 3.6"/>
<polygon points="843.4,1224.1 1000.1,1250.8 1133.6,1280.8 1233.6,1327.5 1346.9,1375.1 1346.9,1371.6 1233.6,1324 1133.6,1277.3 1000.1,1247.3 843.4,1220.6" fill="#f6f6f6" stroke="#444" stroke-width="0.6" stroke-linejoin="round"/>
<polyline points="843.4,1222.3 1000.1,1249 1133.6,1279 1233.6,1325.7 1346.9,1373.4" fill="none" stroke="#555" stroke-width="3.5" stroke-dasharray="0.7 3.6"/>
<polygon points="406.7,1006.7 696.9,1020.7 696.9,1016.7 406.7,1002.7" fill="#f6f6f6" stroke="#444" stroke-width="0.6" stroke-linejoin="round"/>
<polyline points="406.7,1004.7 696.9,1018.7" fill="none" stroke="#555" stroke-width="4" stroke-dasharray="0.7 3.6"/>
<polygon points="828.7,1031.7 790.3,1136.8 790.3,1132.8 828.7,1027.7" fill="#f6f6f6" stroke="#444" stroke-width="0.6" stroke-linejoin="round"/>
<polyline points="828.7,1029.7 790.3,1134.8" fill="none" stroke="#555" stroke-width="4" stroke-dasharray="0.7 3.6"/>
<polygon points="55,1111 313.5,1194.4 340,1201 340,1195 313.5,1188.4 55,1105" fill="#f6f6f6" stroke="#444" stroke-width="0.6" stroke-linejoin="round"/>
<polyline points="55,1108 313.5,1191.4 340,1198" fill="none" stroke="#555" stroke-width="6" stroke-dasharray="0.7 3.8"/>
<polygon points="340,1195 352,1200 364,1210 392,1262 411.7,1266.6 446.6,1370 464.7,1396.7 482.8,1414 506.1,1429.5 530.7,1440.5 530.7,1449.5 504.8,1434.7 481.5,1417.9 463.4,1399.8 445.3,1373.9 401.4,1280.8 388.4,1270.5 372.9,1247.2 360,1215 352,1206 340,1201" fill="#f1f1f1"/>
<polyline points="340,1201 352,1206 360,1215 372.9,1247.2 388.4,1270.5 401.4,1280.8 445.3,1373.9 463.4,1399.8 481.5,1417.9 504.8,1434.7 530.7,1449.5" fill="none" stroke="#555" stroke-width="0.8" stroke-linejoin="round" stroke-linecap="round"/>
<polyline points="340,1195 352,1200 364,1210 392,1262" fill="none" stroke="#444" stroke-width="1" stroke-linejoin="round" stroke-linecap="round"/>
<path d="M316.9,1166.7 C321.9,1167.8 338.5,1169 346.9,1173.4 C355.2,1177.9 361.9,1187.9 366.9,1193.4 C371.9,1199 375.2,1204.5 376.9,1206.8" fill="none" stroke="#888" stroke-width="0.6" stroke-linecap="round" stroke-linejoin="round"/>
<polygon points="408.6,1258.5 390.2,1260.1 390.2,1266.1 408.6,1264.5" fill="#b9b9b9" stroke="#555" stroke-width="0.6" stroke-linejoin="round"/>
<polygon points="390.2,1260.1 373.6,1203.4 373.6,1209.4 390.2,1266.1" fill="#cfcfcf" stroke="#555" stroke-width="0.6" stroke-linejoin="round"/>
<polygon points="373.6,1203.4 383.6,1208.4 408.6,1258.5 390.2,1260.1" fill="#f4f4f4" stroke="#555" stroke-width="0.6" stroke-linejoin="round"/>
<path d="M414.9,1265.1 C424.2,1292.7 435.7,1333.9 449.8,1368.5 C464,1403.2 458.3,1383.5 467.9,1395.2 C477.6,1406.9 475,1403.7 486,1412.5 C497.1,1421.3 496.5,1421.1 509.3,1428 C522,1434.9 527.3,1435.6 533.9,1438.4" fill="none" stroke="#555" stroke-width="5" stroke-linecap="butt" stroke-linejoin="round" stroke-dasharray=".7 2"/>
<path d="M418.2,1263.6 C427.5,1291.2 439,1332.4 453.1,1367 C467.3,1401.7 461.6,1382 471.2,1393.7 C480.9,1405.4 478.3,1402.2 489.3,1411 C500.4,1419.8 499.8,1419.6 512.6,1426.5 C525.3,1433.4 530.6,1434.1 537.2,1436.9" fill="none" stroke="#666" stroke-width="0.5" stroke-linecap="round" stroke-linejoin="round"/>
<path d="M411.7,1266.6 C421,1294.2 432.5,1335.4 446.6,1370 C460.8,1404.7 455.1,1385 464.7,1396.7 C474.4,1408.4 471.8,1405.2 482.8,1414 C493.9,1422.8 493.3,1422.6 506.1,1429.5 C518.8,1436.4 524.1,1437.1 530.7,1439.9" fill="none" stroke="#222" stroke-width="1.4" stroke-linecap="round" stroke-linejoin="round"/>
<polygon points="148.4,1088.4 130.1,1115 130.1,1124 148.4,1097.4" fill="#b9b9b9" stroke="#555" stroke-width="0.6" stroke-linejoin="round"/>
<polygon points="130.1,1115 123.4,1112.7 123.4,1121.7 130.1,1124" fill="#cfcfcf" stroke="#555" stroke-width="0.6" stroke-linejoin="round"/>
<polygon points="140.1,1086 148.4,1088.4 130.1,1115 123.4,1112.7" fill="#f4f4f4" stroke="#555" stroke-width="0.6" stroke-linejoin="round"/>
<polygon points="175.1,1106 211.8,1113.4 210.1,1118.4 173.4,1110.7" fill="#d4d6cf" stroke="#777" stroke-width="0.4" stroke-linejoin="round"/>
<polygon points="251.8,1125 306.9,1135.1 305.2,1141.7 250.1,1130.7" fill="#d4d6cf" stroke="#777" stroke-width="0.4" stroke-linejoin="round"/>
<polygon points="254.1,1107.4 246.8,1119.4 246.8,1126.4 254.1,1114.4" fill="#aaa" stroke="#555" stroke-width="0.6" stroke-linejoin="round"/>
<polygon points="246.8,1119.4 210.1,1110.7 210.1,1117.7 246.8,1126.4" fill="#c0c0c0" stroke="#555" stroke-width="0.6" stroke-linejoin="round"/>
<polygon points="216.8,1099.4 254.1,1107.4 246.8,1119.4 210.1,1110.7" fill="#fafafa" stroke="#555" stroke-width="0.6" stroke-linejoin="round"/>
<polyline points="211.8,1115 246.8,1123.4" fill="none" stroke="#555" stroke-width="5" stroke-dasharray=".6 2.2"/>
<polygon points="230.1,1136.7 226.8,1143.4 226.8,1149.4 230.1,1142.7" fill="#b9b9b9" stroke="#555" stroke-width="0.6" stroke-linejoin="round"/>
<polygon points="226.8,1143.4 210.1,1140.1 210.1,1146.1 226.8,1149.4" fill="#cfcfcf" stroke="#555" stroke-width="0.6" stroke-linejoin="round"/>
<polygon points="215.1,1133.4 230.1,1136.7 226.8,1143.4 210.1,1140.1" fill="#fafafa" stroke="#555" stroke-width="0.6" stroke-linejoin="round"/>
<polygon points="270.2,1090.7 266.8,1097.4 266.8,1102.4 270.2,1095.7" fill="#b9b9b9" stroke="#555" stroke-width="0.6" stroke-linejoin="round"/>
<polygon points="266.8,1097.4 248.5,1093.4 248.5,1098.4 266.8,1102.4" fill="#cfcfcf" stroke="#555" stroke-width="0.6" stroke-linejoin="round"/>
<polygon points="251.8,1087.4 270.2,1090.7 266.8,1097.4 248.5,1093.4" fill="#fafafa" stroke="#555" stroke-width="0.6" stroke-linejoin="round"/>
<ellipse cx="278.5" cy="1113.4" rx="6" ry="2.6" fill="#ddd" stroke="#444" stroke-width=".5" transform="rotate(12 278.5 1113.4)"/>
<polyline points="173.4,1070 173.4,1090" fill="none" stroke="#666" stroke-width="0.6" stroke-linejoin="round" stroke-linecap="round"/>
<polyline points="293.5,1100 293.5,1126.7" fill="none" stroke="#666" stroke-width="0.6" stroke-linejoin="round" stroke-linecap="round"/>
<polyline points="251.8,1131.7 251.8,1160.1" fill="none" stroke="#666" stroke-width="0.6" stroke-linejoin="round" stroke-linecap="round"/>
<polyline points="313.5,1150.1 313.5,1185.1" fill="none" stroke="#666" stroke-width="0.6" stroke-linejoin="round" stroke-linecap="round"/>
<polygon points="409.4,1007.3 398.4,1031.7 398.4,1041.7 409.4,1017.3" fill="#b4b4b4" stroke="#555" stroke-width="0.6" stroke-linejoin="round"/>
<polygon points="398.4,1031.7 369.4,1029.4 369.4,1039.4 398.4,1041.7" fill="#c4c4c4" stroke="#555" stroke-width="0.6" stroke-linejoin="round"/>
<polygon points="375,999.3 393.4,996 409.4,1007.3 398.4,1031.7 369.4,1029.4" fill="#fafafa" stroke="#555" stroke-width="0.6" stroke-linejoin="round"/>
<polyline points="361.7,1055 390,1053.4" fill="none" stroke="#777" stroke-width="0.5" stroke-linejoin="round" stroke-linecap="round"/>
<polyline points="361,1059.7 388.4,1058" fill="none" stroke="#777" stroke-width="0.5" stroke-linejoin="round" stroke-linecap="round"/>
<polyline points="360.4,1064.4 386.7,1062.7" fill="none" stroke="#777" stroke-width="0.5" stroke-linejoin="round" stroke-linecap="round"/>
<polyline points="359.7,1069.1 385,1067.4" fill="none" stroke="#777" stroke-width="0.5" stroke-linejoin="round" stroke-linecap="round"/>
<polyline points="359,1073.7 383.4,1072.1" fill="none" stroke="#777" stroke-width="0.5" stroke-linejoin="round" stroke-linecap="round"/>
<polyline points="358.4,1078.4 381.7,1076.7" fill="none" stroke="#777" stroke-width="0.5" stroke-linejoin="round" stroke-linecap="round"/>
<polyline points="357.7,1083.1 380,1081.4" fill="none" stroke="#777" stroke-width="0.5" stroke-linejoin="round" stroke-linecap="round"/>
<polygon points="359.4,1053.4 390.7,1052 376.7,1086.7 356,1086.7" fill="#d8d8d8" fill-opacity=".5"/>
<polygon points="370.7,1085.1 369.4,1096.1 369.4,1102.1 370.7,1091.1" fill="#b9b9b9" stroke="#555" stroke-width="0.6" stroke-linejoin="round"/>
<polygon points="369.4,1096.1 346.7,1098.4 346.7,1104.4 369.4,1102.1" fill="#b9b9b9" stroke="#555" stroke-width="0.6" stroke-linejoin="round"/>
<polygon points="350.7,1086.7 370.7,1085.1 369.4,1096.1 346.7,1098.4" fill="#fafafa" stroke="#555" stroke-width="0.6" stroke-linejoin="round"/>
<polygon points="399.4,1100.1 396.7,1109.4 396.7,1115.4 399.4,1106.1" fill="#b9b9b9" stroke="#555" stroke-width="0.6" stroke-linejoin="round"/>
<polygon points="396.7,1109.4 360,1104.7 360,1110.7 396.7,1115.4" fill="#cfcfcf" stroke="#555" stroke-width="0.6" stroke-linejoin="round"/>
<polygon points="363.4,1095.4 399.4,1100.1 396.7,1109.4 360,1104.7" fill="#fafafa" stroke="#555" stroke-width="0.6" stroke-linejoin="round"/>
<polygon points="486.8,1118.4 511.8,1120.1 538.5,1123.4 537.5,1129.4 486.8,1124.1" fill="#bdbdbd" stroke="#555" stroke-width="0.6" stroke-linejoin="round"/>
<polygon points="507.8,1033.4 530.1,1030.7 511.8,1120.1 486.8,1118.4" fill="#f6f6f6" stroke="#555" stroke-width="0.6" stroke-linejoin="round"/>
<polygon points="530.1,1030.7 558.5,1040 538.5,1123.4 511.8,1120.1" fill="#fdfdfd" stroke="#555" stroke-width="0.6" stroke-linejoin="round"/>
<polygon points="543.5,1085.1 563.5,1073.4 623.5,1080.1 616.9,1096.7" fill="#c8c8c8"/>
<polygon points="618.5,1077.4 616.9,1087.4 616.9,1092.4 618.5,1082.4" fill="#b9b9b9" stroke="#555" stroke-width="0.6" stroke-linejoin="round"/>
<polygon points="616.9,1087.4 550.1,1082.1 550.1,1087.1 616.9,1092.4" fill="#cfcfcf" stroke="#555" stroke-width="0.6" stroke-linejoin="round"/>
<polygon points="551.8,1071.7 618.5,1077.4 616.9,1087.4 550.1,1082.1" fill="#fafafa" stroke="#555" stroke-width="0.6" stroke-linejoin="round"/>
<polygon points="602.5,1068.4 599.5,1089.4 599.5,1094.4 602.5,1073.4" fill="#b9b9b9" stroke="#555" stroke-width="0.6" stroke-linejoin="round"/>
<polygon points="599.5,1089.4 589.5,1088.4 589.5,1093.4 599.5,1094.4" fill="#cfcfcf" stroke="#555" stroke-width="0.6" stroke-linejoin="round"/>
<polygon points="591.8,1067.4 602.5,1068.4 599.5,1089.4 589.5,1088.4" fill="#fafafa" stroke="#555" stroke-width="0.6" stroke-linejoin="round"/>
<polygon points="563.5,1097.4 602.5,1100.7 599.2,1116.7 560.2,1113.4 565.2,1112.4 604.2,1115.7 607.5,1099.7 568.5,1096.4" fill="#c6c6c6"/>
<polygon points="563.5,1097.4 602.5,1100.7 599.2,1116.7 560.2,1113.4" fill="#c6c6c6"/>
<polygon points="607.5,1090.7 604.2,1106.7 604.2,1115.7 607.5,1099.7" fill="#b9b9b9" stroke="#555" stroke-width="0.6" stroke-linejoin="round"/>
<polygon points="604.2,1106.7 565.2,1103.4 565.2,1112.4 604.2,1115.7" fill="#cfcfcf" stroke="#555" stroke-width="0.6" stroke-linejoin="round"/>
<polygon points="568.5,1087.4 607.5,1090.7 604.2,1106.7 565.2,1103.4" fill="#fafafa" stroke="#555" stroke-width="0.6" stroke-linejoin="round"/>
<polygon points="620.5,1045.7 668.9,1049 655.6,1105.7 611.9,1102.4 618.9,1101.4 662.6,1104.7 675.9,1048 627.5,1044.7" fill="#c6c6c6"/>
<polygon points="620.5,1045.7 668.9,1049 655.6,1105.7 611.9,1102.4" fill="#c6c6c6"/>
<polygon points="675.9,1040 662.6,1096.7 662.6,1104.7 675.9,1048" fill="#b9b9b9" stroke="#555" stroke-width="0.6" stroke-linejoin="round"/>
<polygon points="662.6,1096.7 618.9,1093.4 618.9,1101.4 662.6,1104.7" fill="#cfcfcf" stroke="#555" stroke-width="0.6" stroke-linejoin="round"/>
<polygon points="627.5,1036.7 675.9,1040 662.6,1096.7 618.9,1093.4" fill="#fafafa" stroke="#555" stroke-width="0.6" stroke-linejoin="round"/>
<polygon points="693.2,1063 739.9,1066.4 731.6,1096.4 686.6,1093.1 692.6,1092.1 737.6,1095.4 745.9,1065.4 699.2,1062" fill="#c6c6c6"/>
<polygon points="693.2,1063 739.9,1066.4 731.6,1096.4 686.6,1093.1" fill="#c6c6c6"/>
<polygon points="745.9,1058.4 737.6,1088.4 737.6,1095.4 745.9,1065.4" fill="#b9b9b9" stroke="#555" stroke-width="0.6" stroke-linejoin="round"/>
<polygon points="737.6,1088.4 692.6,1085.1 692.6,1092.1 737.6,1095.4" fill="#cfcfcf" stroke="#555" stroke-width="0.6" stroke-linejoin="round"/>
<polygon points="699.2,1055 745.9,1058.4 737.6,1088.4 692.6,1085.1" fill="#fafafa" stroke="#555" stroke-width="0.6" stroke-linejoin="round"/>
<polygon points="769.3,1072.7 763.6,1097.4 763.6,1104.4 769.3,1079.7" fill="#b9b9b9" stroke="#555" stroke-width="0.6" stroke-linejoin="round"/>
<polygon points="763.6,1097.4 735.9,1094.1 735.9,1101.1 763.6,1104.4" fill="#cfcfcf" stroke="#555" stroke-width="0.6" stroke-linejoin="round"/>
<polygon points="742.6,1070.1 769.3,1072.7 763.6,1097.4 735.9,1094.1" fill="#fafafa" stroke="#555" stroke-width="0.6" stroke-linejoin="round"/>
<polygon points="683.6,1119.4 700.9,1097.4 716.9,1124.1 716.9,1137.4 684.2,1134.1" fill="#c4c4c4" stroke="#555" stroke-width="0.6" stroke-linejoin="round"/>
<polygon points="700.9,1097.4 719.6,1107.4 716.9,1124.1" fill="#fafafa" stroke="#555" stroke-width="0.6" stroke-linejoin="round"/>
<polygon points="700.9,1097.4 708.6,1100.1 719.6,1107.4 716.9,1137.4 716.9,1124.1" fill="#fafafa" stroke="#555" stroke-width="0.6" stroke-linejoin="round"/>
<polygon points="739.6,1006.7 736.3,1020.7 736.3,1026.7 739.6,1012.7" fill="#b9b9b9" stroke="#555" stroke-width="0.6" stroke-linejoin="round"/>
<polygon points="736.3,1020.7 696.9,1018 696.9,1024 736.3,1026.7" fill="#cfcfcf" stroke="#555" stroke-width="0.6" stroke-linejoin="round"/>
<polygon points="700.9,1004 739.6,1006.7 736.3,1020.7 696.9,1018" fill="#fafafa" stroke="#555" stroke-width="0.6" stroke-linejoin="round"/>
<polygon points="814.3,1016.7 811,1026.7 811,1031.7 814.3,1021.7" fill="#b9b9b9" stroke="#555" stroke-width="0.6" stroke-linejoin="round"/>
<polygon points="811,1026.7 736.3,1020.7 736.3,1025.7 811,1031.7" fill="#cfcfcf" stroke="#555" stroke-width="0.6" stroke-linejoin="round"/>
<polygon points="740.3,1009.3 814.3,1016.7 811,1026.7 736.3,1020.7" fill="#fafafa" stroke="#555" stroke-width="0.6" stroke-linejoin="round"/>
<polygon points="824.3,1032 821,1043.4 821,1050.4 824.3,1039" fill="#b9b9b9" stroke="#555" stroke-width="0.6" stroke-linejoin="round"/>
<polygon points="821,1043.4 726.9,1036.7 726.9,1043.7 821,1050.4" fill="#cfcfcf" stroke="#555" stroke-width="0.6" stroke-linejoin="round"/>
<polygon points="729.6,1024.7 824.3,1032 821,1043.4 726.9,1036.7" fill="#fafafa" stroke="#555" stroke-width="0.6" stroke-linejoin="round"/>
<polygon points="556.8,1120.8 546.1,1122.1 546.1,1125.1 556.8,1123.8" fill="#b9b9b9" stroke="#555" stroke-width="0.6" stroke-linejoin="round"/>
<polygon points="546.1,1122.1 543.5,1116.1 543.5,1119.1 546.1,1125.1" fill="#cfcfcf" stroke="#555" stroke-width="0.6" stroke-linejoin="round"/>
<polygon points="543.5,1116.1 554.1,1115.1 556.8,1120.8 546.1,1122.1" fill="#fafafa" stroke="#555" stroke-width="0.6" stroke-linejoin="round"/>
<polygon points="555.5,1126.8 546.8,1127.4 546.8,1145.4 555.5,1144.8" fill="#b0b0b0" stroke="#555" stroke-width="0.6" stroke-linejoin="round"/>
<polygon points="546.8,1127.4 545.1,1122.8 545.1,1140.8 546.8,1145.4" fill="#d0d0d0" stroke="#555" stroke-width="0.6" stroke-linejoin="round"/>
<polygon points="545.1,1122.8 554.1,1122.1 555.5,1126.8 546.8,1127.4" fill="#ccc" stroke="#555" stroke-width="0.6" stroke-linejoin="round"/>
<polygon points="556.8,1120.8 546.1,1122.1 546.1,1125.1 556.8,1123.8" fill="#b9b9b9" stroke="#555" stroke-width="0.6" stroke-linejoin="round"/>
<polygon points="546.1,1122.1 543.5,1116.1 543.5,1119.1 546.1,1125.1" fill="#cfcfcf" stroke="#555" stroke-width="0.6" stroke-linejoin="round"/>
<polygon points="543.5,1116.1 554.1,1115.1 556.8,1120.8 546.1,1122.1" fill="#fafafa" stroke="#555" stroke-width="0.6" stroke-linejoin="round"/>
<polygon points="634.2,1126.1 624.2,1126.8 624.2,1135.8 634.2,1135.1" fill="#b9b9b9" stroke="#555" stroke-width="0.6" stroke-linejoin="round"/>
<polygon points="624.2,1126.8 622.9,1121.8 622.9,1130.8 624.2,1135.8" fill="#cfcfcf" stroke="#555" stroke-width="0.6" stroke-linejoin="round"/>
<polygon points="622.9,1121.8 632.9,1121.1 634.2,1126.1 624.2,1126.8" fill="#fafafa" stroke="#555" stroke-width="0.6" stroke-linejoin="round"/>
<polygon points="436.7,1163.4 450.1,1150.1 583.5,1183.5 616.9,1190.1 610.2,1203.5 530.1,1190.1" fill="#c8c8c8"/>
<polygon points="486.8,1149.4 479.1,1162.1 479.1,1170.1 486.8,1157.4" fill="#b9b9b9" stroke="#555" stroke-width="0.6" stroke-linejoin="round"/>
<polygon points="479.1,1162.1 446.7,1154.1 446.7,1162.1 479.1,1170.1" fill="#cfcfcf" stroke="#555" stroke-width="0.6" stroke-linejoin="round"/>
<polygon points="453.4,1141.8 486.8,1149.4 479.1,1162.1 446.7,1154.1" fill="#fafafa" stroke="#555" stroke-width="0.6" stroke-linejoin="round"/>
<polygon points="584.2,1172.8 578.5,1185.5 578.5,1194.5 584.2,1181.8" fill="#b9b9b9" stroke="#555" stroke-width="0.6" stroke-linejoin="round"/>
<polygon points="578.5,1185.5 479.1,1162.1 479.1,1171.1 578.5,1194.5" fill="#cfcfcf" stroke="#555" stroke-width="0.6" stroke-linejoin="round"/>
<polygon points="486.8,1149.4 584.2,1172.8 578.5,1185.5 479.1,1162.1" fill="#fafafa" stroke="#555" stroke-width="0.6" stroke-linejoin="round"/>
<circle cx="491.8" cy="1171.1" r="1.6" fill="#eee" stroke="#555" stroke-width=".5"/>
<circle cx="500.8" cy="1173.1" r="1.6" fill="#eee" stroke="#555" stroke-width=".5"/>
<circle cx="540.1" cy="1181.8" r="1.6" fill="#eee" stroke="#555" stroke-width=".5"/>
<circle cx="555.2" cy="1185.1" r="1.6" fill="#eee" stroke="#555" stroke-width=".5"/>
<circle cx="569.5" cy="1188.5" r="1.6" fill="#eee" stroke="#555" stroke-width=".5"/>
<polygon points="617.5,1170.1 610.9,1187.5 610.9,1201.5 617.5,1184.1" fill="#b9b9b9" stroke="#555" stroke-width="0.6" stroke-linejoin="round"/>
<polygon points="610.9,1187.5 582.5,1180.8 582.5,1194.8 610.9,1201.5" fill="#cfcfcf" stroke="#555" stroke-width="0.6" stroke-linejoin="round"/>
<polygon points="589.2,1163.4 617.5,1170.1 610.9,1187.5 582.5,1180.8" fill="#fafafa" stroke="#555" stroke-width="0.6" stroke-linejoin="round"/>
<circle cx="588.5" cy="1185.1" r="1.8" fill="#eee" stroke="#555" stroke-width=".5"/>
<circle cx="588.5" cy="1193.5" r="1.8" fill="#eee" stroke="#555" stroke-width=".5"/>
<circle cx="602.8" cy="1189.1" r="1.8" fill="#eee" stroke="#555" stroke-width=".5"/>
<circle cx="602.8" cy="1197.5" r="1.8" fill="#eee" stroke="#555" stroke-width=".5"/>
<polygon points="645.9,1146.8 636.9,1167.5 636.9,1179.5 645.9,1158.8" fill="#b9b9b9" stroke="#555" stroke-width="0.6" stroke-linejoin="round"/>
<polygon points="636.9,1167.5 597.5,1157.4 597.5,1169.4 636.9,1179.5" fill="#cfcfcf" stroke="#555" stroke-width="0.6" stroke-linejoin="round"/>
<polygon points="607.5,1138.4 645.9,1146.8 636.9,1167.5 597.5,1157.4" fill="#fafafa" stroke="#555" stroke-width="0.6" stroke-linejoin="round"/>
<polygon points="691.9,1163.4 730.3,1186.8 710.3,1210.8 668.6,1208.5" fill="#fff" stroke="#888" stroke-width="0.5" stroke-linejoin="round" fill-opacity=".7"/>
<polygon points="653.5,1155.1 691.9,1163.4 668.6,1208.5 626.9,1196.8" fill="#fafafa" stroke="#555" stroke-width="0.6" stroke-linejoin="round"/>
<polyline points="673.6,1159.1 648.5,1202.8" fill="none" stroke="#555" stroke-width="0.5" stroke-linejoin="round" stroke-linecap="round"/>
<polyline points="626.9,1196.8 626.9,1200.8 668.6,1212.5 668.6,1208.5" fill="none" stroke="#555" stroke-width="0.5" stroke-linejoin="round" stroke-linecap="round"/>
<polygon points="846,1199.5 837,1219.5 837,1227.5 846,1207.5" fill="#b9b9b9" stroke="#555" stroke-width="0.6" stroke-linejoin="round"/>
<polygon points="837,1219.5 704.2,1186.1 704.2,1194.1 837,1227.5" fill="#cfcfcf" stroke="#555" stroke-width="0.6" stroke-linejoin="round"/>
<polygon points="714.3,1165.1 846,1199.5 837,1219.5 704.2,1186.1" fill="#fafafa" stroke="#555" stroke-width="0.6" stroke-linejoin="round"/>
<polygon points="735.3,1181.8 837,1207.5 835.7,1210.8 733.9,1185.1" fill="#b9d4b9"/>
<polygon points="606.9,1211.8 810.3,1255.2 797,1285.2 588.5,1235.2" fill="#fbfbfb" stroke="#555" stroke-width="0.6" stroke-linejoin="round"/>
<polyline points="588.5,1235.2 588.5,1238.5 797,1288.5 797,1285.2" fill="none" stroke="#555" stroke-width="0.5" stroke-linejoin="round" stroke-linecap="round"/>
<polygon points="588.5,1235.8 797,1285.9 797,1288.5 588.5,1238.5" fill="#ddd"/>
<polyline points="603.5,1220.2 805.3,1264.2" fill="none" stroke="#f0a08a" stroke-width="0.7" stroke-linejoin="round" stroke-linecap="round"/>
<polyline points="797,1288.5 803.6,1280.2 805.3,1266.9" fill="none" stroke="#555" stroke-width="0.5" stroke-linejoin="round" stroke-linecap="round"/>
<polygon points="625.2,1248.5 623.5,1253.5 623.5,1259.5 625.2,1254.5" fill="#999" stroke="#555" stroke-width="0.6" stroke-linejoin="round"/>
<polygon points="623.5,1253.5 593.5,1246.8 593.5,1252.8 623.5,1259.5" fill="#bbb" stroke="#555" stroke-width="0.6" stroke-linejoin="round"/>
<polygon points="595.2,1241.8 625.2,1248.5 623.5,1253.5 593.5,1246.8" fill="#ddd" stroke="#555" stroke-width="0.6" stroke-linejoin="round"/>
<polygon points="490.8,1277.5 514.8,1283.9 516.8,1280.9 496.8,1276.5" fill="#c8c8c8"/>
<polygon points="520.1,1266.3 516.8,1272.9 516.8,1280.9 520.1,1274.3" fill="#b5b5b5" stroke="#555" stroke-width="0.6" stroke-linejoin="round"/>
<polygon points="516.8,1272.9 496.8,1268.5 496.8,1276.5 516.8,1280.9" fill="#cfcfcf" stroke="#555" stroke-width="0.6" stroke-linejoin="round"/>
<polygon points="500.1,1261.9 520.1,1266.3 516.8,1272.9 496.8,1268.5" fill="#f4f4f4" stroke="#555" stroke-width="0.6" stroke-linejoin="round"/>
<polygon points="517.5,1283.5 527.5,1286.8 529.5,1283.8 523.5,1282.5" fill="#c8c8c8"/>
<polygon points="532.5,1272.8 529.5,1278.8 529.5,1283.8 532.5,1277.8" fill="#b5b5b5" stroke="#555" stroke-width="0.6" stroke-linejoin="round"/>
<polygon points="529.5,1278.8 523.5,1277.5 523.5,1282.5 529.5,1283.8" fill="#cfcfcf" stroke="#555" stroke-width="0.6" stroke-linejoin="round"/>
<polygon points="526.5,1271.5 532.5,1272.8 529.5,1278.8 523.5,1277.5" fill="#f4f4f4" stroke="#555" stroke-width="0.6" stroke-linejoin="round"/>
<polygon points="552.4,1326.4 576.4,1332.8 578.4,1329.8 558.4,1325.4" fill="#c8c8c8"/>
<polygon points="581.7,1316.2 578.4,1322.8 578.4,1329.8 581.7,1323.2" fill="#b5b5b5" stroke="#555" stroke-width="0.6" stroke-linejoin="round"/>
<polygon points="578.4,1322.8 558.4,1318.4 558.4,1325.4 578.4,1329.8" fill="#cfcfcf" stroke="#555" stroke-width="0.6" stroke-linejoin="round"/>
<polygon points="561.7,1311.8 581.7,1316.2 578.4,1322.8 558.4,1318.4" fill="#f4f4f4" stroke="#555" stroke-width="0.6" stroke-linejoin="round"/>
<polygon points="732.5,1331.4 808.2,1349.2 810.2,1346.2 738.5,1330.4" fill="#c8c8c8"/>
<polygon points="813.2,1333.2 810.2,1339.2 810.2,1346.2 813.2,1340.2" fill="#b5b5b5" stroke="#555" stroke-width="0.6" stroke-linejoin="round"/>
<polygon points="810.2,1339.2 738.5,1323.4 738.5,1330.4 810.2,1346.2" fill="#cfcfcf" stroke="#555" stroke-width="0.6" stroke-linejoin="round"/>
<polygon points="741.5,1317.4 813.2,1333.2 810.2,1339.2 738.5,1323.4" fill="#f4f4f4" stroke="#555" stroke-width="0.6" stroke-linejoin="round"/>
<polygon points="840.9,1264.7 894.9,1277.7 896.9,1274.7 846.9,1263.7" fill="#c8c8c8"/>
<polygon points="900.2,1261.1 896.9,1267.7 896.9,1274.7 900.2,1268.1" fill="#b5b5b5" stroke="#555" stroke-width="0.6" stroke-linejoin="round"/>
<polygon points="896.9,1267.7 846.9,1256.7 846.9,1263.7 896.9,1274.7" fill="#cfcfcf" stroke="#555" stroke-width="0.6" stroke-linejoin="round"/>
<polygon points="850.2,1250.1 900.2,1261.1 896.9,1267.7 846.9,1256.7" fill="#f4f4f4" stroke="#555" stroke-width="0.6" stroke-linejoin="round"/>
<polygon points="890.9,1276.4 941.6,1288.7 943.6,1285.7 896.9,1275.4" fill="#c8c8c8"/>
<polygon points="946.9,1272 943.6,1278.7 943.6,1285.7 946.9,1279" fill="#b5b5b5" stroke="#555" stroke-width="0.6" stroke-linejoin="round"/>
<polygon points="943.6,1278.7 896.9,1268.4 896.9,1275.4 943.6,1285.7" fill="#cfcfcf" stroke="#555" stroke-width="0.6" stroke-linejoin="round"/>
<polygon points="900.2,1261.8 946.9,1272 943.6,1278.7 896.9,1268.4" fill="#f4f4f4" stroke="#555" stroke-width="0.6" stroke-linejoin="round"/>
<polygon points="860.9,1308.1 908.3,1319.6 910.3,1316.6 866.9,1307.1" fill="#c8c8c8"/>
<polygon points="913.3,1303.6 910.3,1309.6 910.3,1316.6 913.3,1310.6" fill="#b5b5b5" stroke="#555" stroke-width="0.6" stroke-linejoin="round"/>
<polygon points="910.3,1309.6 866.9,1300.1 866.9,1307.1 910.3,1316.6" fill="#cfcfcf" stroke="#555" stroke-width="0.6" stroke-linejoin="round"/>
<polygon points="869.9,1294.1 913.3,1303.6 910.3,1309.6 866.9,1300.1" fill="#f4f4f4" stroke="#555" stroke-width="0.6" stroke-linejoin="round"/>
<polygon points="832.6,1353.8 923.3,1374.8 925.3,1371.8 838.6,1352.8" fill="#c8c8c8"/>
<polygon points="928.3,1359.8 925.3,1365.8 925.3,1371.8 928.3,1365.8" fill="#b5b5b5" stroke="#555" stroke-width="0.6" stroke-linejoin="round"/>
<polygon points="925.3,1365.8 838.6,1346.8 838.6,1352.8 925.3,1371.8" fill="#cfcfcf" stroke="#555" stroke-width="0.6" stroke-linejoin="round"/>
<polygon points="841.6,1340.8 928.3,1359.8 925.3,1365.8 838.6,1346.8" fill="#f4f4f4" stroke="#555" stroke-width="0.6" stroke-linejoin="round"/>
<polygon points="817.6,1376.4 864.9,1388 866.9,1385 823.6,1375.4" fill="#c8c8c8"/>
<polygon points="870.2,1371.4 866.9,1378 866.9,1385 870.2,1378.4" fill="#b5b5b5" stroke="#555" stroke-width="0.6" stroke-linejoin="round"/>
<polygon points="866.9,1378 823.6,1368.4 823.6,1375.4 866.9,1385" fill="#cfcfcf" stroke="#555" stroke-width="0.6" stroke-linejoin="round"/>
<polygon points="826.9,1361.8 870.2,1371.4 866.9,1378 823.6,1368.4" fill="#f4f4f4" stroke="#555" stroke-width="0.6" stroke-linejoin="round"/>
<polygon points="844.2,1331.1 861.6,1336 863.6,1333 850.2,1330.1" fill="#c8c8c8"/>
<polygon points="866,1323.2 863.6,1328 863.6,1333 866,1328.2" fill="#b5b5b5" stroke="#555" stroke-width="0.6" stroke-linejoin="round"/>
<polygon points="863.6,1328 850.2,1325.1 850.2,1330.1 863.6,1333" fill="#cfcfcf" stroke="#555" stroke-width="0.6" stroke-linejoin="round"/>
<polygon points="852.6,1320.3 866,1323.2 863.6,1328 850.2,1325.1" fill="#f4f4f4" stroke="#555" stroke-width="0.6" stroke-linejoin="round"/>
<polygon points="902.6,1246.4 946.6,1257.2 948.6,1254.2 908.6,1245.4" fill="#c8c8c8"/>
<polygon points="952.5,1239.4 948.6,1247.2 948.6,1254.2 952.5,1246.4" fill="#b5b5b5" stroke="#555" stroke-width="0.6" stroke-linejoin="round"/>
<polygon points="948.6,1247.2 908.6,1238.4 908.6,1245.4 948.6,1254.2" fill="#cfcfcf" stroke="#555" stroke-width="0.6" stroke-linejoin="round"/>
<polygon points="912.5,1230.6 952.5,1239.4 948.6,1247.2 908.6,1238.4" fill="#f4f4f4" stroke="#555" stroke-width="0.6" stroke-linejoin="round"/>
<polygon points="842.4,1264.8 939.8,1287.3 941.8,1284.3 848.4,1263.8" fill="#c8c8c8"/>
<polygon points="945.1,1270.7 941.8,1277.3 941.8,1284.3 945.1,1277.7" fill="#b5b5b5" stroke="#555" stroke-width="0.6" stroke-linejoin="round"/>
<polygon points="941.8,1277.3 848.4,1256.8 848.4,1263.8 941.8,1284.3" fill="#cfcfcf" stroke="#555" stroke-width="0.6" stroke-linejoin="round"/>
<polygon points="851.7,1250.2 945.1,1270.7 941.8,1277.3 848.4,1256.8" fill="#f4f4f4" stroke="#555" stroke-width="0.6" stroke-linejoin="round"/>
<polygon points="860.7,1308.1 908.1,1319.7 910.1,1316.7 866.7,1307.1" fill="#c8c8c8"/>
<polygon points="913.4,1303.1 910.1,1309.7 910.1,1316.7 913.4,1310.1" fill="#b5b5b5" stroke="#555" stroke-width="0.6" stroke-linejoin="round"/>
<polygon points="910.1,1309.7 866.7,1300.1 866.7,1307.1 910.1,1316.7" fill="#cfcfcf" stroke="#555" stroke-width="0.6" stroke-linejoin="round"/>
<polygon points="870,1293.5 913.4,1303.1 910.1,1309.7 866.7,1300.1" fill="#f4f4f4" stroke="#555" stroke-width="0.6" stroke-linejoin="round"/>
<polygon points="834,1353.2 924.8,1374.2 926.8,1371.2 840,1352.2" fill="#c8c8c8"/>
<polygon points="930.1,1357.6 926.8,1364.2 926.8,1371.2 930.1,1364.6" fill="#b5b5b5" stroke="#555" stroke-width="0.6" stroke-linejoin="round"/>
<polygon points="926.8,1364.2 840,1345.2 840,1352.2 926.8,1371.2" fill="#cfcfcf" stroke="#555" stroke-width="0.6" stroke-linejoin="round"/>
<polygon points="843.3,1338.6 930.1,1357.6 926.8,1364.2 840,1345.2" fill="#f4f4f4" stroke="#555" stroke-width="0.6" stroke-linejoin="round"/>
<polygon points="817.3,1378.2 864.7,1389.7 866.7,1386.7 823.3,1377.2" fill="#c8c8c8"/>
<polygon points="870.3,1372.5 866.7,1379.7 866.7,1386.7 870.3,1379.5" fill="#b5b5b5" stroke="#555" stroke-width="0.6" stroke-linejoin="round"/>
<polygon points="866.7,1379.7 823.3,1370.2 823.3,1377.2 866.7,1386.7" fill="#cfcfcf" stroke="#555" stroke-width="0.6" stroke-linejoin="round"/>
<polygon points="827,1363 870.3,1372.5 866.7,1379.7 823.3,1370.2" fill="#f4f4f4" stroke="#555" stroke-width="0.6" stroke-linejoin="round"/>
<polygon points="900.7,1249.8 948.1,1261.3 950.1,1258.3 906.7,1248.8" fill="#c8c8c8"/>
<polygon points="954,1243.5 950.1,1251.3 950.1,1258.3 954,1250.5" fill="#b5b5b5" stroke="#555" stroke-width="0.6" stroke-linejoin="round"/>
<polygon points="950.1,1251.3 906.7,1241.8 906.7,1248.8 950.1,1258.3" fill="#cfcfcf" stroke="#555" stroke-width="0.6" stroke-linejoin="round"/>
<polygon points="910.6,1234 954,1243.5 950.1,1251.3 906.7,1241.8" fill="#f4f4f4" stroke="#555" stroke-width="0.6" stroke-linejoin="round"/>
<polygon points="998.1,1272.1 1017.1,1277.4 1019.1,1274.4 1004.1,1271.1" fill="#c8c8c8"/>
<polygon points="1021.8,1263 1019.1,1268.4 1019.1,1274.4 1021.8,1269" fill="#b5b5b5" stroke="#555" stroke-width="0.6" stroke-linejoin="round"/>
<polygon points="1019.1,1268.4 1004.1,1265.1 1004.1,1271.1 1019.1,1274.4" fill="#cfcfcf" stroke="#555" stroke-width="0.6" stroke-linejoin="round"/>
<polygon points="1006.8,1259.7 1021.8,1263 1019.1,1268.4 1004.1,1265.1" fill="#f4f4f4" stroke="#555" stroke-width="0.6" stroke-linejoin="round"/>
<polygon points="844,1333.8 861.4,1338.8 863.4,1335.8 850,1332.8" fill="#c8c8c8"/>
<polygon points="866.1,1324.3 863.4,1329.8 863.4,1335.8 866.1,1330.3" fill="#b5b5b5" stroke="#555" stroke-width="0.6" stroke-linejoin="round"/>
<polygon points="863.4,1329.8 850,1326.8 850,1332.8 863.4,1335.8" fill="#cfcfcf" stroke="#555" stroke-width="0.6" stroke-linejoin="round"/>
<polygon points="852.7,1321.4 866.1,1324.3 863.4,1329.8 850,1326.8" fill="#f4f4f4" stroke="#555" stroke-width="0.6" stroke-linejoin="round"/>
<polygon points="967.4,1410.2 996.5,1417.7 998.5,1414.7 973.4,1409.2" fill="#c8c8c8"/>
<polygon points="1002.4,1397.9 998.5,1405.7 998.5,1414.7 1002.4,1406.9" fill="#b5b5b5" stroke="#555" stroke-width="0.6" stroke-linejoin="round"/>
<polygon points="998.5,1405.7 973.4,1400.2 973.4,1409.2 998.5,1414.7" fill="#cfcfcf" stroke="#555" stroke-width="0.6" stroke-linejoin="round"/>
<polygon points="977.4,1392.4 1002.4,1397.9 998.5,1405.7 973.4,1400.2" fill="#f4f4f4" stroke="#555" stroke-width="0.6" stroke-linejoin="round"/>
<polygon points="994.1,1406.9 1024.8,1414.7 1026.8,1411.7 1000.1,1405.9" fill="#c8c8c8"/>
<polygon points="1030.4,1396.5 1026.8,1403.7 1026.8,1411.7 1030.4,1404.5" fill="#b5b5b5" stroke="#555" stroke-width="0.6" stroke-linejoin="round"/>
<polygon points="1026.8,1403.7 1000.1,1397.9 1000.1,1405.9 1026.8,1411.7" fill="#cfcfcf" stroke="#555" stroke-width="0.6" stroke-linejoin="round"/>
<polygon points="1003.7,1390.7 1030.4,1396.5 1026.8,1403.7 1000.1,1397.9" fill="#f4f4f4" stroke="#555" stroke-width="0.6" stroke-linejoin="round"/>
<polygon points="967.7,1413.5 995,1420.6 997,1417.6 973.7,1412.5" fill="#c8c8c8"/>
<polygon points="1000.9,1400.8 997,1408.6 997,1417.6 1000.9,1409.8" fill="#b5b5b5" stroke="#555" stroke-width="0.6" stroke-linejoin="round"/>
<polygon points="997,1408.6 973.7,1403.5 973.7,1412.5 997,1417.6" fill="#cfcfcf" stroke="#555" stroke-width="0.6" stroke-linejoin="round"/>
<polygon points="977.6,1395.7 1000.9,1400.8 997,1408.6 973.7,1403.5" fill="#f4f4f4" stroke="#555" stroke-width="0.6" stroke-linejoin="round"/>
<polygon points="1197.6,1349.8 1219.9,1355.9 1221.9,1352.9 1203.6,1348.8" fill="#c8c8c8"/>
<polygon points="1225.3,1339.3 1221.9,1345.9 1221.9,1352.9 1225.3,1346.3" fill="#b5b5b5" stroke="#555" stroke-width="0.6" stroke-linejoin="round"/>
<polygon points="1221.9,1345.9 1203.6,1341.8 1203.6,1348.8 1221.9,1352.9" fill="#cfcfcf" stroke="#555" stroke-width="0.6" stroke-linejoin="round"/>
<polygon points="1206.9,1335.2 1225.3,1339.3 1221.9,1345.9 1203.6,1341.8" fill="#f4f4f4" stroke="#555" stroke-width="0.6" stroke-linejoin="round"/>
<polygon points="1236,1357.2 1255,1362.5 1257,1359.5 1242,1356.2" fill="#c8c8c8"/>
<polygon points="1264.5,1338.5 1257,1353.5 1257,1359.5 1264.5,1344.5" fill="#b5b5b5" stroke="#555" stroke-width="0.6" stroke-linejoin="round"/>
<polygon points="1257,1353.5 1242,1350.2 1242,1356.2 1257,1359.5" fill="#cfcfcf" stroke="#555" stroke-width="0.6" stroke-linejoin="round"/>
<polygon points="1249.5,1335.2 1264.5,1338.5 1257,1353.5 1242,1350.2" fill="#f4f4f4" stroke="#555" stroke-width="0.6" stroke-linejoin="round"/>
<polygon points="1221,1386.5 1243.3,1392.6 1245.3,1389.6 1227,1385.5" fill="#c8c8c8"/>
<polygon points="1248.6,1376 1245.3,1382.6 1245.3,1389.6 1248.6,1383" fill="#b5b5b5" stroke="#555" stroke-width="0.6" stroke-linejoin="round"/>
<polygon points="1245.3,1382.6 1227,1378.5 1227,1385.5 1245.3,1389.6" fill="#cfcfcf" stroke="#555" stroke-width="0.6" stroke-linejoin="round"/>
<polygon points="1230.3,1371.9 1248.6,1376 1245.3,1382.6 1227,1378.5" fill="#f4f4f4" stroke="#555" stroke-width="0.6" stroke-linejoin="round"/>
<polygon points="1169.3,1404.9 1191.6,1410.9 1193.6,1407.9 1175.3,1403.9" fill="#c8c8c8"/>
<polygon points="1196.9,1394.3 1193.6,1400.9 1193.6,1407.9 1196.9,1401.3" fill="#b5b5b5" stroke="#555" stroke-width="0.6" stroke-linejoin="round"/>
<polygon points="1193.6,1400.9 1175.3,1396.9 1175.3,1403.9 1193.6,1407.9" fill="#cfcfcf" stroke="#555" stroke-width="0.6" stroke-linejoin="round"/>
<polygon points="1178.6,1390.3 1196.9,1394.3 1193.6,1400.9 1175.3,1396.9" fill="#f4f4f4" stroke="#555" stroke-width="0.6" stroke-linejoin="round"/>
<polygon points="787.3,1275.8 804.7,1280.7 806.7,1277.7 793.3,1274.8" fill="#c8c8c8"/>
<polygon points="812.7,1257.7 806.7,1269.7 806.7,1277.7 812.7,1265.7" fill="#b5b5b5" stroke="#555" stroke-width="0.6" stroke-linejoin="round"/>
<polygon points="806.7,1269.7 793.3,1266.8 793.3,1274.8 806.7,1277.7" fill="#cfcfcf" stroke="#555" stroke-width="0.6" stroke-linejoin="round"/>
<polygon points="799.3,1254.8 812.7,1257.7 806.7,1269.7 793.3,1266.8" fill="#f4f4f4" stroke="#555" stroke-width="0.6" stroke-linejoin="round"/>
<ellipse cx="900.3" cy="1373.4" rx="5.5" ry="2.4" fill="#ddd" stroke="#444" stroke-width=".5" transform="rotate(12 900.3 1373.4)"/>
<polygon points="653.4,1386.8 666.8,1373.4 766.9,1400.1 760.2,1413.5" fill="#c8c8c8"/>
<polygon points="671.8,1365.1 668.5,1378.5 668.5,1384.5 671.8,1371.1" fill="#b9b9b9" stroke="#555" stroke-width="0.6" stroke-linejoin="round"/>
<polygon points="668.5,1378.5 650.1,1375.1 650.1,1381.1 668.5,1384.5" fill="#cfcfcf" stroke="#555" stroke-width="0.6" stroke-linejoin="round"/>
<polygon points="653.4,1361.8 671.8,1365.1 668.5,1378.5 650.1,1375.1" fill="#eee" stroke="#555" stroke-width="0.6" stroke-linejoin="round"/>
<polygon points="678.5,1351.8 777.5,1375.1 764.2,1400.8 663.5,1376.8" fill="#fbfbfb" stroke="#555" stroke-width="0.6" stroke-linejoin="round"/>
<polyline points="663.5,1376.8 663.5,1380.1 764.2,1404.1 764.2,1400.8" fill="none" stroke="#555" stroke-width="0.5" stroke-linejoin="round" stroke-linecap="round"/>
<polyline points="676.8,1363.4 773.5,1386.1" fill="none" stroke="#f0a08a" stroke-width="0.7" stroke-linejoin="round" stroke-linecap="round"/>
<polygon points="1221.8,1408.5 1213.5,1424.1 1213.5,1429.1 1221.8,1413.5" fill="#b9b9b9" stroke="#555" stroke-width="0.6" stroke-linejoin="round"/>
<polygon points="1213.5,1424.1 1191.8,1420.1 1191.8,1425.1 1213.5,1429.1" fill="#cfcfcf" stroke="#555" stroke-width="0.6" stroke-linejoin="round"/>
<polygon points="1200.1,1404.1 1221.8,1408.5 1213.5,1424.1 1191.8,1420.1" fill="#fafafa" stroke="#555" stroke-width="0.6" stroke-linejoin="round"/>
<polygon points="1213.5,1426.8 1210.8,1433.5 1210.8,1447.5 1213.5,1440.8" fill="#b0b0b0" stroke="#555" stroke-width="0.6" stroke-linejoin="round"/>
<polygon points="1210.8,1433.5 1193.5,1431.5 1193.5,1445.5 1210.8,1447.5" fill="#d0d0d0" stroke="#555" stroke-width="0.6" stroke-linejoin="round"/>
<polygon points="1195.1,1424.1 1213.5,1426.8 1210.8,1433.5 1193.5,1431.5" fill="#ccc" stroke="#555" stroke-width="0.6" stroke-linejoin="round"/>
<polygon points="1221.8,1408.5 1213.5,1424.1 1213.5,1429.1 1221.8,1413.5" fill="#b9b9b9" stroke="#555" stroke-width="0.6" stroke-linejoin="round"/>
<polygon points="1213.5,1424.1 1191.8,1420.1 1191.8,1425.1 1213.5,1429.1" fill="#cfcfcf" stroke="#555" stroke-width="0.6" stroke-linejoin="round"/>
<polygon points="1200.1,1404.1 1221.8,1408.5 1213.5,1424.1 1191.8,1420.1" fill="#fafafa" stroke="#555" stroke-width="0.6" stroke-linejoin="round"/>
<polygon points="1230.2,1407.5 1226.8,1416.8 1226.8,1422.8 1230.2,1413.5" fill="#b9b9b9" stroke="#555" stroke-width="0.6" stroke-linejoin="round"/>
<polygon points="1226.8,1416.8 1218.5,1416.1 1218.5,1422.1 1226.8,1422.8" fill="#cfcfcf" stroke="#555" stroke-width="0.6" stroke-linejoin="round"/>
<polygon points="1218.5,1416.1 1213.5,1405.1 1213.5,1411.1 1218.5,1422.1" fill="#cfcfcf" stroke="#555" stroke-width="0.6" stroke-linejoin="round"/>
<polygon points="1213.5,1405.1 1230.2,1407.5 1226.8,1416.8 1218.5,1416.1" fill="#fafafa" stroke="#555" stroke-width="0.6" stroke-linejoin="round"/>
<polygon points="1155.2,1259.4 1220.9,1291.8 1220.9,1297.5 1155.2,1265.1" fill="#c9c9c9" stroke="#555" stroke-width="0.6" stroke-linejoin="round"/>
<polygon points="1229.3,1295.1 1350.2,1346.1 1350.2,1356.8 1229.3,1301.8" fill="#ececec" stroke="#555" stroke-width="0.6" stroke-linejoin="round"/>
<polygon points="1166.9,1248.4 1165.2,1254.1 1165.2,1262.1 1166.9,1256.4" fill="#b9b9b9" stroke="#555" stroke-width="0.6" stroke-linejoin="round"/>
<polygon points="1165.2,1254.1 1155.2,1252.4 1155.2,1260.4 1165.2,1262.1" fill="#cfcfcf" stroke="#555" stroke-width="0.6" stroke-linejoin="round"/>
<polygon points="1156.9,1246.8 1166.9,1248.4 1165.2,1254.1 1155.2,1252.4" fill="#fafafa" stroke="#555" stroke-width="0.6" stroke-linejoin="round"/>
<polyline points="1183.6,1183.4 1165.2,1236.8" fill="none" stroke="#666" stroke-width="0.7" stroke-linejoin="round" stroke-linecap="round"/>
<polyline points="1188.6,1220.1 1178.6,1263.4" fill="none" stroke="#666" stroke-width="0.6" stroke-linejoin="round" stroke-linecap="round"/>
<polyline points="1361.9,1300.1 1348.6,1350.1 1343.6,1386.8" fill="none" stroke="#777" stroke-width="0.7" stroke-linejoin="round" stroke-linecap="round"/>
<polygon points="510,1416.8 557.4,1386.8 530,1420.1 530,1440.2 513.4,1433.5" fill="#c8c8c8"/>
<polygon points="557.4,1371.8 600.7,1378.5 646.8,1395.1 693.5,1401.8 781.9,1426.8 754.2,1466.8 710.2,1455.2 663.5,1446.8 618.4,1433.5 573.4,1430.2 530,1418.5" fill="#f2f2f2" stroke="#666" stroke-width="0.6" stroke-linejoin="round" fill-opacity=".85"/>
<polygon points="530,1418.5 573.4,1430.2 618.4,1433.5 663.5,1446.8 710.2,1455.2 754.2,1466.8 754.2,1490.8 710.2,1479.2 663.5,1470.8 618.4,1457.5 573.4,1454.2 530,1442.5" fill="#d6d6d6" stroke="#444" stroke-width="0.7" stroke-linejoin="round"/>
<polygon points="530,1439.5 573.4,1451.2 618.4,1454.5 663.5,1467.8 710.2,1476.2 754.2,1487.8 754.2,1490.8 710.2,1479.2 663.5,1470.8 618.4,1457.5 573.4,1454.2 530,1442.5" fill="#333"/>
<polyline points="530,1436.5 573.4,1448.2 618.4,1451.5 663.5,1464.8 710.2,1473.2 754.2,1484.8" fill="none" stroke="#444" stroke-width="8" stroke-dasharray=".5 2"/>
<polyline points="600.7,1378.5 573.4,1430.2" fill="none" stroke="#666" stroke-width="0.6" stroke-linejoin="round" stroke-linecap="round"/>
<polyline points="573.4,1430.2 573.4,1454.2" fill="none" stroke="#333" stroke-width="1" stroke-linejoin="round" stroke-linecap="round"/>
<polyline points="646.8,1395.1 618.4,1433.5" fill="none" stroke="#666" stroke-width="0.6" stroke-linejoin="round" stroke-linecap="round"/>
<polyline points="618.4,1433.5 618.4,1457.5" fill="none" stroke="#333" stroke-width="1" stroke-linejoin="round" stroke-linecap="round"/>
<polyline points="693.5,1401.8 663.5,1446.8" fill="none" stroke="#666" stroke-width="0.6" stroke-linejoin="round" stroke-linecap="round"/>
<polyline points="663.5,1446.8 663.5,1470.8" fill="none" stroke="#333" stroke-width="1" stroke-linejoin="round" stroke-linecap="round"/>
<polyline points="736.8,1415.1 710.2,1455.2" fill="none" stroke="#666" stroke-width="0.6" stroke-linejoin="round" stroke-linecap="round"/>
<polyline points="710.2,1455.2 710.2,1479.2" fill="none" stroke="#333" stroke-width="1" stroke-linejoin="round" stroke-linecap="round"/>
<polyline points="781.9,1426.8 781.9,1453.5 754.2,1474.8" fill="none" stroke="#555" stroke-width="0.6" stroke-linejoin="round" stroke-linecap="round"/>
<polygon points="606.8,1390.1 636.8,1396.8 626.8,1413.5 596.7,1406.8" fill="none" stroke="#aaa" stroke-width="0.5" stroke-linejoin="round"/>
<polygon points="666.8,1426.8 726.8,1440.2 720.2,1453.5 661.8,1438.5" fill="none" stroke="#aaa" stroke-width="0.5" stroke-linejoin="round"/>
<polygon points="771.9,1466.8 768.5,1474.2 768.5,1477.2 771.9,1469.8" fill="#b9b9b9" stroke="#555" stroke-width="0.6" stroke-linejoin="round"/>
<polygon points="768.5,1474.2 754.2,1470.8 754.2,1473.8 768.5,1477.2" fill="#cfcfcf" stroke="#555" stroke-width="0.6" stroke-linejoin="round"/>
<polygon points="756.9,1463.5 771.9,1466.8 768.5,1474.2 754.2,1470.8" fill="#fafafa" stroke="#555" stroke-width="0.6" stroke-linejoin="round"/>
<path d="M421.7,1290.2 L421.7,1274.2 M418.7,1272.2 L424.7,1275.2 M418.7,1275.2 L424.7,1272.2" stroke="#555" stroke-width=".6" fill="none"/>
<path d="M568.5,1306.9 L568.5,1290.9 M565.5,1288.9 L571.5,1291.9 M565.5,1291.9 L571.5,1288.9" stroke="#555" stroke-width=".6" fill="none"/>
<path d="M738.6,1323.6 L738.6,1307.6 M735.6,1305.6 L741.6,1308.6 M735.6,1308.6 L741.6,1305.6" stroke="#555" stroke-width=".6" fill="none"/>
<path d="M807,1330.2 L807,1314.2 M804,1312.2 L810,1315.2 M804,1315.2 L810,1312.2" stroke="#555" stroke-width=".6" fill="none"/>
<path d="M568.4,1306.7 L568.4,1290.7 M565.4,1288.7 L571.4,1291.7 M565.4,1291.7 L571.4,1288.7" stroke="#555" stroke-width=".6" fill="none"/>
<path d="M529.4,1360.1 L529.4,1344.1 M526.4,1342.1 L532.4,1345.1 M526.4,1345.1 L532.4,1342.1" stroke="#555" stroke-width=".6" fill="none"/>
<path d="M521.7,1430.2 L521.7,1414.2 M518.7,1412.2 L524.7,1415.2 M518.7,1415.2 L524.7,1412.2" stroke="#555" stroke-width=".6" fill="none"/>
<path d="M736.8,1328.4 L736.8,1312.4 M733.8,1310.4 L739.8,1313.4 M733.8,1313.4 L739.8,1310.4" stroke="#555" stroke-width=".6" fill="none"/>
<path d="M806.9,1343.4 L806.9,1327.4 M803.9,1325.4 L809.9,1328.4 M803.9,1328.4 L809.9,1325.4" stroke="#555" stroke-width=".6" fill="none"/>
<path d="M940.3,1366.8 L940.3,1350.8 M937.3,1348.8 L943.3,1351.8 M937.3,1351.8 L943.3,1348.8" stroke="#555" stroke-width=".6" fill="none"/>
<path d="M962,1283.4 L962,1267.4 M959,1265.4 L965,1268.4 M959,1268.4 L965,1265.4" stroke="#555" stroke-width=".6" fill="none"/>
<path d="M886.9,1450.2 L886.9,1434.2 M883.9,1432.2 L889.9,1435.2 M883.9,1435.2 L889.9,1432.2" stroke="#555" stroke-width=".6" fill="none"/>
<path d="M830.2,1500.2 L830.2,1484.2 M827.2,1482.2 L833.2,1485.2 M827.2,1485.2 L833.2,1482.2" stroke="#555" stroke-width=".6" fill="none"/>
<path d="M982,1450.2 L982,1434.2 M979,1432.2 L985,1435.2 M979,1435.2 L985,1432.2" stroke="#555" stroke-width=".6" fill="none"/>
<path d="M961.8,1285.1 L961.8,1269.1 M958.8,1267.1 L964.8,1270.1 M958.8,1270.1 L964.8,1267.1" stroke="#555" stroke-width=".6" fill="none"/>
<path d="M940.1,1370.2 L940.1,1354.2 M937.1,1352.2 L943.1,1355.2 M937.1,1355.2 L943.1,1352.2" stroke="#555" stroke-width=".6" fill="none"/>
<path d="M808.3,1336.8 L808.3,1320.8 M805.3,1318.8 L811.3,1321.8 M805.3,1321.8 L811.3,1318.8" stroke="#555" stroke-width=".6" fill="none"/>
<path d="M1093.5,1416.9 L1093.5,1400.9 M1090.5,1398.9 L1096.5,1401.9 M1090.5,1401.9 L1096.5,1398.9" stroke="#555" stroke-width=".6" fill="none"/>
<path d="M886.7,1439.9 L886.7,1423.9 M883.7,1421.9 L889.7,1424.9 M883.7,1424.9 L889.7,1421.9" stroke="#555" stroke-width=".6" fill="none"/>
<path d="M981.8,1439.9 L981.8,1423.9 M978.8,1421.9 L984.8,1424.9 M978.8,1424.9 L984.8,1421.9" stroke="#555" stroke-width=".6" fill="none"/>
<path d="M1208.6,1298.5 L1208.6,1282.5 M1205.6,1280.5 L1211.6,1283.5 M1205.6,1283.5 L1211.6,1280.5" stroke="#555" stroke-width=".6" fill="none"/>
<path d="M1273.6,1420.2 L1273.6,1404.2 M1270.6,1402.2 L1276.6,1405.2 M1270.6,1405.2 L1276.6,1402.2" stroke="#555" stroke-width=".6" fill="none"/>
<path d="M1093.4,1416.8 L1093.4,1400.8 M1090.4,1398.8 L1096.4,1401.8 M1090.4,1401.8 L1096.4,1398.8" stroke="#555" stroke-width=".6" fill="none"/>
<path d="M1273.5,1420.1 L1273.5,1404.1 M1270.5,1402.1 L1276.5,1405.1 M1270.5,1405.1 L1276.5,1402.1" stroke="#555" stroke-width=".6" fill="none"/>
<path d="M1208.5,1298.4 L1208.5,1282.4 M1205.5,1280.4 L1211.5,1283.4 M1205.5,1283.4 L1211.5,1280.4" stroke="#555" stroke-width=".6" fill="none"/>
<path d="M1300.2,1356.8 L1300.2,1340.8 M1297.2,1338.8 L1303.2,1341.8 M1297.2,1341.8 L1303.2,1338.8" stroke="#555" stroke-width=".6" fill="none"/>
<path d="M423.6,1293.5 L423.6,1277.5 M420.6,1275.5 L426.6,1278.5 M420.6,1278.5 L426.6,1275.5" stroke="#555" stroke-width=".6" fill="none"/>
<path d="M528.7,1363.5 L528.7,1347.5 M525.7,1345.5 L531.7,1348.5 M525.7,1348.5 L531.7,1345.5" stroke="#555" stroke-width=".6" fill="none"/>
<path d="M470.3,1388.6 L470.3,1372.6 M467.3,1370.6 L473.3,1373.6 M467.3,1373.6 L473.3,1370.6" stroke="#555" stroke-width=".6" fill="none"/>
<clipPath id="stc1"><circle cx="485.5" cy="926.3" r="96.4"/></clipPath>
<circle cx="485.5" cy="926.3" r="96.4" fill="#e5e5e2"/>
<g clip-path="url(#stc1)">
<polygon points="471,948 550.7,950.2 548.6,958.7 500.9,962.2 493.8,975 486.7,971.5 492.4,960.8 468.2,957.3" fill="#c2c2c0"/>
<polygon points="441.2,1009.2 454,1002.1 472.5,1003.5 459.7,1010.6" fill="#cfcfcc"/>
<polygon points="407.7,930.2 448.3,928.1 454,932.4 410.6,935.5" fill="#f4f4f2" stroke="#777" stroke-width="0.6" stroke-linejoin="round"/>
<polygon points="410.6,935.5 454,932.4 454,934.5 410.6,937.8" fill="#ddd" stroke="#777" stroke-width="0.5" stroke-linejoin="round"/>
<polyline points="410.6,937.8 410.6,960.8" fill="none" stroke="#888" stroke-width="1.1" stroke-linejoin="round" stroke-linecap="round"/>
<polyline points="431.9,935.9 431.9,963" fill="none" stroke="#888" stroke-width="1.1" stroke-linejoin="round" stroke-linecap="round"/>
<polyline points="451.1,934.5 451.1,956.6" fill="none" stroke="#888" stroke-width="1.1" stroke-linejoin="round" stroke-linecap="round"/>
<polyline points="413.4,937.5 413.4,945.2" fill="none" stroke="#888" stroke-width="1.1" stroke-linejoin="round" stroke-linecap="round"/>
<polygon points="463.2,914.6 471,912.5 471.7,942.3 463.9,948" fill="#efefed" stroke="#777" stroke-width="0.6" stroke-linejoin="round"/>
<polygon points="472.5,920.3 485.3,909.9 516.6,909.3 523.7,911 555,908.2 566.3,922.4 569.5,933.8 568.1,939.8 522.2,944 473.9,945.9 471,942.3" fill="#dadad8" stroke="#6e6e6e" stroke-width="0.8" stroke-linejoin="round"/>
<polygon points="520.8,891.1 565.6,889.7 555,908.2 523.7,911" fill="#d2d2d0" stroke="#6e6e6e" stroke-width="0.8" stroke-linejoin="round"/>
<polygon points="525.1,894 559.2,892.8 551.4,905.3 526.5,907.5" fill="#bfbfbd"/>
<polygon points="525.4,912.7 554.3,910.5 562.4,922.7 561.5,933.8 526.5,936.9" fill="#b9b9b7" stroke="#777" stroke-width="0.5" stroke-linejoin="round"/>
<polygon points="535.8,923.8 550.7,922.7 551.4,933.8 536.2,934.9" fill="#d6d6d4" stroke="#777" stroke-width="0.5" stroke-linejoin="round"/>
<polygon points="552.1,921.7 560.7,921.3 560.9,933.1 552.4,933.8" fill="#c8c8c6" stroke="#777" stroke-width="0.5" stroke-linejoin="round"/>
<polygon points="503.8,914.2 516.6,913.3 518,925.5 503,926.4" fill="#c6c6c4" stroke="#777" stroke-width="0.5" stroke-linejoin="round"/>
<polygon points="479.6,916.7 486.7,911 499.5,911 498.1,943.8 479.6,944.9" fill="#cdcdcb" stroke="#777" stroke-width="0.5" stroke-linejoin="round"/>
<polygon points="485.3,912.5 491,912.2 490.2,942.3 485,942.6" fill="#efefed"/>
<ellipse cx="505.9" cy="947.3" rx="6.4" ry="8.6" fill="#d0d0ce" stroke="#666" stroke-width=".8"/><ellipse cx="505.9" cy="947.3" rx="3.6" ry="5.2" fill="#e2e2e0" stroke="#777" stroke-width=".5"/>
<ellipse cx="548.6" cy="946.3" rx="5.6" ry="7.2" fill="#d0d0ce" stroke="#666" stroke-width=".8"/><ellipse cx="548.6" cy="946.3" rx="3" ry="4.2" fill="#e2e2e0" stroke="#777" stroke-width=".5"/>
<ellipse cx="466.8" cy="946.6" rx="4" ry="6" fill="#cfcfcd" stroke="#777" stroke-width=".6"/>
<g fill="#5b5856">
<ellipse cx="441.2" cy="909.3" rx="4" ry="4.2"/>
<polygon points="437.6,905.3 444.7,905.3 445.7,907.5 436.6,907.8" fill="#5b5856"/>
<polygon points="434.8,918.2 438.3,914.6 444.7,914.6 448,918.2 448.3,932.4 446.6,958.7 442.6,958.7 441.5,940.9 439.7,958.7 434.8,958.7 435.8,933.8 433.3,926.7" fill="#5b5856"/>
<ellipse cx="455.1" cy="907.1" rx="4" ry="4.4"/>
<polygon points="451.8,903.9 458.5,903.6 459.1,905.6 451.1,905.9" fill="#5b5856"/>
<polygon points="452.3,914.6 455.4,912.2 459.7,913.2 461.8,918.2 471,912.5 471.9,914.2 462.5,923.1 463.2,936.6 462.2,959.4 458,959.4 457.1,942.3 455.4,959.4 450.4,959.1 452.8,936.6 451.8,926 446.9,925.5 446.6,923.6 451.8,922.4" fill="#5b5856"/>
</g>
<polyline points="456.1,995.7 448,1003.8" fill="none" stroke="#777" stroke-width="1" stroke-linejoin="round" stroke-linecap="round"/>
<polyline points="467.5,995.7 473.6,1003.2" fill="none" stroke="#777" stroke-width="1" stroke-linejoin="round" stroke-linecap="round"/>
<polyline points="458,997.8 457.7,1005.6" fill="none" stroke="#777" stroke-width="1" stroke-linejoin="round" stroke-linecap="round"/>
<ellipse cx="461.8" cy="989.3" rx="8.3" ry="9.8" fill="#f4f4f2" stroke="#c23c1f" stroke-width="1.7"/>
<rect x="457.8" y="986.1" width="8" height="5.5" fill="#7b8794"/>
<polyline points="457.5,969.4 460.4,975.3 462.8,969.4" fill="none" stroke="#222" stroke-width="1.2" stroke-linejoin="round" stroke-linecap="round"/>
</g>
<circle cx="485.5" cy="926.3" r="96.4" fill="none" stroke="#666" stroke-width="1.6"/>
<path d="M577.2,962.7 C626.9,992.4 660,1083.4 668.2,1174.5" fill="none" stroke="#222" stroke-width="1"/>
<polygon points="668.2,1180.2 664.6,1174.3 670.4,1173.6" fill="#222"/>
<clipPath id="stc2"><circle cx="1352.7" cy="1207" r="91.4"/></clipPath>
<circle cx="1352.7" cy="1207" r="91.4" fill="#f9f9f8"/>
<g clip-path="url(#stc2)">
<polygon points="1258.5,1124.2 1449.1,1146.9 1449.1,1166.9 1258.5,1142.7" fill="#ededeb"/>
<polyline points="1258.5,1124.2 1449.1,1146.9" fill="none" stroke="#bbb" stroke-width="0.6" stroke-linejoin="round" stroke-linecap="round"/>
<polyline points="1258.5,1142.7 1343.9,1149.1" fill="none" stroke="#bbb" stroke-width="0.6" stroke-linejoin="round" stroke-linecap="round"/>
<polyline points="1388,1156.2 1449.1,1166.9" fill="none" stroke="#bbb" stroke-width="0.6" stroke-linejoin="round" stroke-linecap="round"/>
<polygon points="1344.2,1185.3 1384,1186.5 1384,1256.5 1344.2,1261.5" fill="#d6d6d4"/>
<polygon points="1344.2,1208.1 1349.6,1208.1 1349.6,1220.9 1344.2,1220.9" fill="#444"/>
<polygon points="1366.6,1208.1 1384,1202.4 1384,1255 1363.8,1249.4" fill="#c2c2c0"/>
<polygon points="1344.2,1261.5 1362.4,1250.1 1390.8,1270 1392.2,1272.8 1349.6,1279.2 1348.2,1276.4" fill="#c6c6c4"/>
<polygon points="1362.4,1250.1 1384,1248.6 1384,1256.5 1386.6,1263.6 1390.1,1270" fill="#b4b4b2" stroke="#666" stroke-width="0.5" stroke-linejoin="round"/>
<polygon points="1343.9,1134.9 1388.3,1142.7 1388.3,1156.9 1343.9,1150.5" fill="#f4f4f2" stroke="#aaa" stroke-width="0.6" stroke-linejoin="round"/>
<polygon points="1345,1156.2 1383.3,1156.9 1383.3,1185.6 1345,1184.2" fill="#fff" stroke="#555" stroke-width="0.7" stroke-linejoin="round"/>
<text x="1346.7" y="1163.3" font-size="4.6" font-weight="bold" fill="#111">Fußgänger</text>
<polyline points="1347,1168 1368.3,1168.3" fill="none" stroke="#222" stroke-width="1.3" stroke-linejoin="round" stroke-linecap="round"/>
<polyline points="1347,1172.7 1371.2,1173" fill="none" stroke="#222" stroke-width="1.3" stroke-linejoin="round" stroke-linecap="round"/>
<polyline points="1347,1177.4 1379,1177.7" fill="none" stroke="#222" stroke-width="1.3" stroke-linejoin="round" stroke-linecap="round"/>
<polyline points="1347,1182.1 1370.5,1182.4" fill="none" stroke="#222" stroke-width="1.3" stroke-linejoin="round" stroke-linecap="round"/>
<polygon points="1295.5,1142.7 1342.7,1149.8 1343.9,1276.1 1348.2,1278.9 1304.8,1292.3 1297.7,1283.8" fill="#fdfdfd" stroke="#a8a8a8" stroke-width="0.7" stroke-linejoin="round"/>
<polyline points="1298.1,1278.1 1343.9,1270.7" fill="none" stroke="#bbb" stroke-width="0.6" stroke-linejoin="round" stroke-linecap="round"/>
<polyline points="1304.1,1287.1 1348.2,1278.9" fill="none" stroke="#bbb" stroke-width="0.6" stroke-linejoin="round" stroke-linecap="round"/>
<polyline points="1298.4,1144.1 1299.1,1283.5" fill="none" stroke="#ccc" stroke-width="0.5" stroke-linejoin="round" stroke-linecap="round"/>
<polygon points="1386.8,1146.9 1429.5,1159.7 1428.1,1256.5 1392.5,1269.6 1386.8,1263.6" fill="#fdfdfd" stroke="#a8a8a8" stroke-width="0.7" stroke-linejoin="round"/>
<polyline points="1388.7,1259.3 1427.8,1247.9" fill="none" stroke="#bbb" stroke-width="0.6" stroke-linejoin="round" stroke-linecap="round"/>
<polyline points="1390.1,1148.4 1390.1,1265" fill="none" stroke="#ccc" stroke-width="0.5" stroke-linejoin="round" stroke-linecap="round"/>
<polyline points="1426.4,1159 1425.7,1256.5" fill="none" stroke="#ccc" stroke-width="0.5" stroke-linejoin="round" stroke-linecap="round"/>
<ellipse cx="1358.1" cy="1211.7" rx="2.6" ry="3.2" fill="#5f5d5b"/>
<polygon points="1354.6,1215.2 1361,1214.9 1363.8,1225.2 1365.5,1231.6 1363.8,1232 1360.2,1223.8 1359.5,1236.6 1357.8,1249.4 1355.3,1248.6 1355,1239.4 1353.1,1236.6 1349.6,1235.1 1347.4,1230.9 1349.6,1222.3" fill="#5f5d5b"/>
</g>
<circle cx="1352.7" cy="1207" r="91.4" fill="none" stroke="#777" stroke-width="2.6"/><circle cx="1352.7" cy="1207" r="91.4" fill="none" stroke="#f4f4f4" stroke-width=".8"/>
<path d="M1443.7,1205.5 C1519,1238.9 1493.9,1356 1362.1,1364.4" fill="none" stroke="#222" stroke-width="1"/>
<polygon points="1357.5,1364.8 1363.8,1361.7 1364,1367.6" fill="#222"/>
<path d="M771.7,1182.7 L833.7,1131 Q846.1,1121.5 856.5,1121.5 L863.5,1121.5" fill="none" stroke="#333" stroke-width=".9"/>
<circle cx="771.7" cy="1182.7" r="1.3" fill="#222"/>
<path d="M709.6,1444.1 L628.9,1531 Q614.5,1546.7 600,1546.7 L583.4,1546.7" fill="none" stroke="#333" stroke-width=".9"/>
<circle cx="709.6" cy="1444.1" r="1.3" fill="#222"/>
<polyline points="153,1355.2 285.5,1396.5" fill="none" stroke="#222" stroke-width="0.9" stroke-linejoin="round" stroke-linecap="round"/>
<polygon points="153,1355.2 159.9,1354.3 158.2,1359.9" fill="#222"/>
<polygon points="285.5,1396.5 278.6,1397.4 280.3,1391.8" fill="#222"/>
</g><g id="bottom">

<g fill="#9c9ea1">
<!-- car 1 -->
<g transform="translate(50,1901)">
<path d="M6,-14.5 L3.5,-20 L1,-21 L0.7,-27 L4,-28 L4.3,-45 Q6,-50 12,-54 L31,-71.5 Q33,-73 36,-73.2 Q76,-76.5 118,-73.6 Q121,-73.3 123,-71.5 L146.7,-50.3 Q180,-47 193,-42 Q196,-41 197,-39 L200.7,-32.7 L201.7,-17.7 L198.3,-14.3 Z" fill="#c0c1c3"/>
<circle cx="35" cy="-16" r="19.3" fill="#fff"/><circle cx="164.3" cy="-16" r="19.3" fill="#fff"/>
<circle cx="35" cy="-16" r="15" fill="#c0c1c3"/><circle cx="164.3" cy="-16" r="15" fill="#c0c1c3"/>
</g>
<path d="M83.3,1852 L96.7,1831.7 L123.3,1831 L123.3,1852.7 Z M128.3,1831 L166.7,1831 L190,1851.7 L128.3,1852.7 Z" fill="#fff"/>
<g fill="#c0c1c3"><circle cx="98.5" cy="1845.5" r="3.8"/><path d="M92,1852.5 Q92,1848.5 97,1848.5 L101,1848.5 Q104,1849 104.5,1852.5 Z"/><path d="M95,1843 L90.5,1844.5 L91.5,1849 L93.5,1846.5 Z"/>
<circle cx="158.3" cy="1838.5" r="4.4"/><path d="M146,1852.5 Q148,1845 155,1844.5 L160,1844.5 Q163,1846 163.5,1852.5 Z"/>
<path d="M166.7,1831 L190,1851.7 L186,1851.7 L163.7,1831 Z"/><path d="M172,1846 L190,1835 L192.5,1837.5 L177,1849.5 Z"/></g>
<g transform="translate(0,0)">
<path d="M226.6,1796.8 L241.7,1801 L240.2,1804.8 L231.6,1804.2 L225.7,1805.6 L227.9,1801.8 Z"/>
<ellipse cx="233.8" cy="1808.9" rx="4.5" ry="5.7"/>
<path d="M231.6,1813.5 L230.3,1819.5 Q229.3,1827 229.6,1835.5 L231.6,1852.3 L233.3,1874.1 L235.8,1895.1 L230.8,1899 L230.8,1901 L247.6,1901 L246.7,1880.8 L246,1852.3 L245.7,1825.4 Q245.5,1819 242.5,1817.3 L237.5,1814.5 Z"/>
</g>
<path d="M231.5,1821 L230.8,1828.7 L212.3,1838.5 L207.2,1843.3 L209.4,1845.6 L218.5,1843.4 L233,1838 Z"/>
<!-- car 2 -->
<g transform="translate(287,1901)">
<path d="M6,-14.5 L3.5,-20 L1,-21 L0.7,-27 L4,-28 L4.3,-45 Q6,-50 12,-54 L31,-71.5 Q33,-73 36,-73.2 Q76,-76.5 118,-73.6 Q121,-73.3 123,-71.5 L146.7,-50.3 Q180,-47 193,-42 Q196,-41 197,-39 L200.7,-32.7 L201.7,-17.7 L198.3,-14.3 Z" fill="#c0c1c3"/>
<circle cx="35" cy="-16" r="19.3" fill="#fff"/><circle cx="164.3" cy="-16" r="19.3" fill="#fff"/>
<circle cx="35" cy="-16" r="15" fill="#c0c1c3"/><circle cx="164.3" cy="-16" r="15" fill="#c0c1c3"/>
</g>
<path d="M320.3,1852 L333.7,1831.7 L360.3,1831 L360.3,1852.7 Z M365.3,1831 L403.7,1831 L427,1851.7 L365.3,1852.7 Z" fill="#fff"/>
<g fill="#c0c1c3"><circle cx="345" cy="1845.5" r="3.8"/><path d="M338.5,1852.5 Q338.5,1848.5 343.5,1848.5 L347.5,1848.5 Q350.5,1849 351,1852.5 Z"/><path d="M341.5,1843 L337,1844.5 L338,1849 L340,1846.5 Z"/>
<circle cx="390" cy="1840" r="4.4"/><path d="M382,1852.5 Q382.500,1846.5 387,1846 L393,1846 Q397.500,1847 398,1852.5 Z"/></g>
<g transform="translate(262,4)">
<path d="M226.6,1796.8 L241.7,1801 L240.2,1804.8 L231.6,1804.2 L225.7,1805.6 L227.9,1801.8 Z"/>
<ellipse cx="233.8" cy="1808.9" rx="4.5" ry="5.7"/>
<path d="M231.6,1813.5 L230.3,1819.5 Q229.3,1827 229.6,1835.5 L231.6,1852.3 L233.3,1874.1 L235.8,1895.1 L230.8,1899 L230.8,1901 L247.6,1901 L246.7,1880.8 L246,1852.3 L245.7,1825.4 Q245.5,1819 242.5,1817.3 L237.5,1814.5 Z"/>
</g>
<path d="M494,1824 L482.5,1839.5 L470,1832.5 L468.300,1836.500 L483,1844.5 L497,1838 Z"/>
<!-- booth -->
<g fill="#c0c1c3"><rect x="538.3" y="1778.3" width="141.700" height="11.7"/><rect x="546.7" y="1789" width="124.300" height="112"/></g>
<path d="M563.5,1778.3 L564.500,1778.3 L564.500,1789 Q567.5,1791.5 567,1795.5 Q566.5,1799.5 564,1799.800 Q561.5,1799.5 561,1795.5 Q560.500,1791.5 563.5,1789 Z" fill="#fff"/>
<path d="M590.5,1797.5 L603,1801.5 L602,1804.5 L594.5,1803.8 L588.5,1805.5 L590.5,1801.5 Z"/>
<ellipse cx="596" cy="1808.5" rx="4.300" ry="5.300"/>
<path d="M593,1813 L599,1813 L601,1816.5 Q606,1818 606.800,1823 L607.200,1853 L606.500,1880 L606,1901 L589,1901 L590,1898.5 L596,1896 L596,1872 L591.5,1853 L587.800,1836 L587,1824 L578.5,1815 L572.5,1796.500 L571.300,1792.500 L574.5,1791.300 L577.200,1795.500 L582.5,1811 L590,1816.500 Z"/>
<!-- car 3 -->
<g transform="translate(772,1901)">
<path d="M6,-14.5 L3.5,-20 L1,-21 L0.7,-27 L4,-28 L4.3,-45 Q6,-50 12,-54 L31,-71.5 Q33,-73 36,-73.2 Q76,-76.5 118,-73.6 Q121,-73.3 123,-71.5 L146.7,-50.3 Q180,-47 193,-42 Q196,-41 197,-39 L200.7,-32.7 L201.7,-17.7 L198.3,-14.3 Z" fill="#c0c1c3"/>
<circle cx="35" cy="-16" r="19.3" fill="#fff"/><circle cx="164.3" cy="-16" r="19.3" fill="#fff"/>
<circle cx="35" cy="-16" r="15" fill="#c0c1c3"/><circle cx="164.3" cy="-16" r="15" fill="#c0c1c3"/>
</g>
<path d="M806,1851 L820,1831.7 L845,1831 L845,1852 Z M848.300,1829.500 L888.300,1829.500 L911.700,1851.700 L911.700,1884.500 L848.300,1884.500 Z" fill="#fff"/>
<path d="M774,1801 L783.500,1801.500 L804.500,1828 L802,1829.800 L782,1803.800 L774,1803.300 Z" fill="#c0c1c3"/>
<path d="M920.500,1848.500 L962.500,1823.700 L964.300,1826.500 L925,1850.500 Z" fill="#c0c1c3"/>
<!-- spread arms person -->
<ellipse cx="1039" cy="1800.300" rx="5.200" ry="6.200"/>
<path d="M1036,1805 L1042,1805 L1043,1809.500 Q1049,1810.500 1053,1813.500 L1081,1834.500 L1083.500,1838.500 L1080.500,1840 L1076,1838.300 L1050,1823.500 L1049.500,1850 L1051.500,1878 L1053,1896 L1056,1900 L1046,1900.500 L1045,1893 L1040,1860 L1039,1860 L1034,1893 L1033.500,1900.500 L1024,1900 L1026.500,1896 L1027.500,1878 L1029,1850 L1028.500,1823.500 L1003,1838.300 L998.500,1840.500 L995.500,1838.500 L998,1834.500 L1025,1813.500 Q1029,1810.500 1035,1809.500 Z"/>
<!-- bottle suitcase bag -->
<path d="M1073.500,1877.400 L1076.800,1877.400 L1077,1881 Q1080,1883 1080,1887 L1080,1901 L1070.500,1901 L1070.500,1887 Q1070.500,1883 1073.300,1881 Z"/>
<path d="M1089.600,1865.700 L1105.500,1865.700 L1105.500,1863 Q1105.500,1861 1107.500,1861 L1117,1861 Q1119,1861 1119,1863 L1119,1865.700 L1135,1865.700 Q1138,1865.700 1138,1868.700 L1138,1901 L1086.600,1901 L1086.600,1868.700 Q1086.600,1865.700 1089.600,1865.700 Z M1107.500,1865.700 L1117,1865.700 L1117,1863 L1107.500,1863 Z" fill-rule="evenodd"/>
<path d="M1146,1886 Q1141.400,1886 1141.400,1891 L1141.400,1901 L1187.400,1901 L1187.400,1891 Q1187.400,1886 1183,1886 Z"/>
<path d="M1152,1886 Q1153,1880.500 1164.500,1880.500 Q1176,1880.500 1177,1886" fill="none" stroke="#9c9ea1" stroke-width="1.800"/>
<!-- section 3 people -->
<ellipse cx="1354.500" cy="1795.500" rx="5.600" ry="6.800"/>
<path d="M1351.500,1801 L1357,1801 L1357.500,1805 Q1361.500,1807 1362,1813 L1362.500,1845 L1360,1862 L1358.500,1894 L1362.500,1899 L1362.500,1901 L1342,1901 L1342.500,1897 L1346.500,1894 L1346,1862 L1340,1848 L1337.500,1843 L1336.300,1822 Q1337,1810 1342.500,1806.500 Q1347,1804.500 1351,1804.500 Z"/>
<ellipse cx="1329" cy="1838.800" rx="4.200" ry="4.800"/>
<path d="M1325.500,1836 L1320,1838 L1318,1844 L1321,1843.500 L1323,1840.500 L1326,1840 Z"/>
<path d="M1327,1843.500 L1331.500,1843.500 Q1335,1845 1336,1850 L1340,1846.500 L1341,1848.500 L1336.500,1855 L1338.500,1882.500 L1333.500,1882.500 L1333,1897 L1336,1900 L1336,1901 L1325.500,1901 L1326,1897.500 L1327.500,1896.500 L1326.500,1882.500 L1322.500,1882.500 L1324.500,1862 L1323.500,1850 Q1323.500,1845.500 1327,1843.500 Z"/>
<path d="M1403.2,1785.5 L1418.7,1791.2 L1417.7,1793.6 L1406.9,1792.6 L1401.7,1794.5 L1403.8,1789.6 Z"/>
<ellipse cx="1410.3" cy="1797.4" rx="5.2" ry="6.2"/>
<path d="M1407.500,1802 L1413.500,1802 L1414.500,1805.500 Q1421,1808 1422,1814 L1422.800,1848 L1421.500,1875 L1421.500,1898 L1421.500,1901 L1403.500,1901 L1404,1898.500 L1411,1895.500 L1410.500,1872 L1406.500,1848 L1405.500,1832 L1389,1838.500 L1386,1842 L1376,1841 L1375,1833.500 L1384.500,1831.500 L1388,1834 L1402,1824.500 L1404,1812 Q1404.500,1808 1407,1805.500 Z"/>
</g>
<!-- bars -->
<g fill="#3d559f">
<path d="M40.300,1901 L731,1901 L736.300,1909 L731,1917 L40.300,1917 L44.300,1909 Z"/>
<path d="M739.500,1901 L1187.500,1901 L1192.800,1909 L1187.500,1917 L739.500,1917 L744.500,1909 Z"/>
<path d="M1197,1901 L1526.300,1901 L1531.600,1909 L1526.300,1917 L1197,1917 L1202,1909 Z"/>
</g>
<!-- leaders -->
<g fill="none" stroke="#333" stroke-width="1.150">
<path d="M243.300,1819.300 L284,1785 Q289,1781 295,1781 L302,1781"/>
<path d="M602.300,1819.300 L664,1759.500 Q671,1753 679,1753 L688,1753"/>
<path d="M725,1845 L772,1845 Q781,1845 786,1850 L796,1857.300"/>
<path d="M786,1835.700 L868,1750 Q878,1739.300 890,1739.300 L903,1739.300"/>
<path d="M827.300,1843.300 L890,1778 Q899.500,1767.700 911,1767.700 L923,1767.700"/>
<path d="M950,1848.300 L1028,1765 Q1038,1753.600 1050,1753.600 L1072.500,1753.600"/>
<path d="M1053,1813 L1075,1789 Q1082,1780.800 1092,1780.800 L1106,1780.800"/>
<path d="M868.300,1893.300 L898,1926 Q907,1936 917,1936 L930,1936"/>
<path d="M1155.600,1899.300 L1103,1953 Q1092,1964.700 1078,1964.700 L1064,1964.700"/>
</g>
<g fill="#b5121b"><circle cx="243.300" cy="1819.300" r="3.500"/><circle cx="602.300" cy="1819.300" r="3.500"/><circle cx="796" cy="1857.300" r="3.500"/><circle cx="786" cy="1835.700" r="3.500"/><circle cx="827.300" cy="1843.300" r="3.500"/><circle cx="950" cy="1848.300" r="3.500"/><circle cx="1053" cy="1813" r="3.500"/><circle cx="868.300" cy="1893.300" r="3.300"/><circle cx="1155.600" cy="1899.300" r="3.300"/></g>
<!-- brackets & envelopes -->
<g fill="none" stroke="#4a4a4a" stroke-width="1.500">
<path d="M290,2095.800 L290,2118 Q290,2133 305,2133 L481.700,2133 Q496.700,2133 496.700,2118 L496.700,1953 Q496.700,1938 510,1938"/>
<path d="M720,2021.700 L1182,2021.700 Q1197,2021.700 1197,2006.700 L1197,1954 Q1197,1939 1212,1939 L1225.600,1939"/>
</g>
<g>
<rect x="407.500" y="2095.800" width="46.400" height="30.200" fill="#9c9ea1"/><path d="M407.500,2095.800 L453.900,2095.800 L447,2103.500 L414.500,2103.500 Z" fill="#b9bbbd"/><rect x="418.600" y="2109.400" width="25.200" height="9.200" fill="#fff"/>
<rect x="797.500" y="1984" width="44.800" height="29" fill="#9c9ea1"/><path d="M797.500,1984 L842.300,1984 L836,1991.500 L804,1991.500 Z" fill="#b9bbbd"/><rect x="808" y="1997" width="24" height="9" fill="#fff"/>
</g>
</g>

</svg>
<h1 class="t">GRENZÜBERGÄNGE</h1>
<div class="t body" style="left:28px">Die SED-Regierung verwehrte ihren Bürgern das<br>Recht auf Freizügigkeit. Durch die Abriegelung der<br>Grenze entschied sie auch über die Einreise in die<br>DDR. Sie verbot West-Berlinern den Zutritt in den Ost-<br>teil der Stadt. Passierscheinregelungen zwischen<br>1963 und 1966 er-möglichten nur Verwandtenbesuche<br>in Ost-Berlin zu bestimmten Feiertagen. Erst mit dem</div>
<div class="t body" style="left:418px">Viermächteabkommen über Berlin und dem Transit-<br>abkommen traten Anfang der 1970er Jahre dauer-<br>hafte Reiseerleichterungen für West-Berliner und<br>Bundesbürger ein. Die Ein- und Ausreise erfolgte an<br>den <b style="color:#000">Grenzübergangsstellen</b> (GÜSt). Dort kontrol-<br>lierten die Passkontrolleinheiten (PKE) der Stasi die<br>Reisenden. 1989 gab es in Berlin 14 GÜSt für den</div>
<div class="t body" style="left:798px">Personenverkehr. Jede war nur für bestimmte Ver-<br>kehrsmittel und Reisende ausgewiesen. Die Kontroll-<br>verfahren unterschieden sich zum Teil stark voneinan-<br>der. Mit dem Transitabkommen waren Fahrzeugkont-<br>rollen nur noch bei begründetem Verdacht erlaubt. Die<br>Stasi überwachte daher die Transitstrecken stärker,<br>um Fluchtversuche von DDR-Bürgern zu entdecken.</div>
<div class="t stat">13 Straßen-GÜSt<br>4 Bahn-GÜSt<br>8 Wasser-GÜSt</div>

<h2 class="t" style="left:29px;top:344.8px">Grenzübergänge 1989</h2>
<div class="t leg" style="left:40.5px;top:381px">Grenzübergang Straße<br>Grenzübergang Straße: für Müll und Bauschutt<br>Grenzübergang Bahn<br>Grenzübergang Wasser</div>
<div class="t" style="left:23.5px;top:589px;font-size:16.1px;line-height:18px;color:#b3262c">Staaken</div>
<div class="t" style="left:269.5px;top:587px;font-size:16.2px;line-height:18px;color:#b3262c">Heinrich-Heine-Straße</div>

<div class="t leg" style="left:57px;top:866.2px;font-size:11.5px;line-height:22.6px">Verlauf der Kontrollstrecke für Fußgänger<br>Verlauf der Kontrollstrecke für PKW<br>Verlauf der Kontrollstrecke für LKW</div>
<div class="t leg" style="left:26.5px;top:942px;font-size:11.5px;line-height:14px">Stand: Mitte 1980er Jahre</div>

<div class="t lab" style="left:907.5px;top:384.7px">Garagen</div>
<div class="t lab" style="left:879.5px;top:420.4px;line-height:17.2px">Tierarzt<br>Hausmeister<br>Werkstatt</div>
<div class="t lab" style="left:1258.5px;top:456px;font-size:13.3px;line-height:18.4px">Berlin-Mitte<br>(Ost-Berlin)</div>
<div class="t lab" style="left:1199px;top:611px;font-size:13.3px;line-height:18.4px">Berlin-Kreuzberg<br>(West-Berlin)</div>
<div class="t big" style="right:7.5px;top:507.4px">Heinrich-<br>Heine-Straße</div>
<div class="t lab" style="left:1157px;top:737px">Rollsperre LKW</div>
<div class="t lab" style="left:663px;top:790px">Diplomaten</div>
<div class="t lab" style="left:719px;top:873px">Rollsperre PKW</div>
<div class="t lab" style="left:868px;top:1113px">Fußgängerabfertigung</div>

<div class="t big" style="left:209.5px;top:1290.4px;font-size:38px">Staaken</div>
<div class="t lab" style="left:54px;top:1341px;text-align:center;font-size:13.6px;line-height:17.6px">Hamburg<br>(durch DDR)</div>
<div class="t lab" style="left:307px;top:1390px;font-size:13.6px">West-Berlin</div>
<div class="t lab" style="right:972px;top:1540px;text-align:right;line-height:17.5px">LKW-Rampe für die Abfertigung<br>des Deponieverkehrs nach<br>Vorketzin und Deetz</div>

<div class="t zone" style="left:49.5px;top:1153px">VORSICHERUNG</div>
<div class="t zone" style="left:136px;top:1179.5px;line-height:12.3px">&nbsp;&nbsp;VORKONTROLLE<br>AUSREISE</div>
<div class="t zone" style="left:499.5px;top:1488.5px;font-size:8.8px">ZOLLKONTROLLE</div>
<div class="t zone" style="left:726px;top:1531px;line-height:12.3px;text-align:right">PASSKONTROLLE<br>UND FAHNDUNG</div>
<div class="t zone" style="left:1067px;top:1479.5px;line-height:12.3px">&nbsp;&nbsp;VORKONTROLLE<br>EINREISE</div>
<div class="t zone" style="left:1168px;top:1484px">HAUPTSPERRE</div>

<h2 class="t" style="left:59.5px;top:1632px">Ablauf einer typischen Abfertigung</h2>
<div class="t leg" style="left:59.5px;top:1666.5px;font-size:12.4px;line-height:14px">Hinweis: Die Kontrollen waren an den GÜSt unterschiedlich.</div>
<div class="t sec" style="left:59.5px;top:1701px"><b>1. VORKONTROLLE</b><br>DURCH PASSKONTROLLEINHEITEN (PKE)</div>
<div class="t sec" style="left:749.5px;top:1701px"><b>2.&nbsp; ZOLLKONTROLLE</b></div>
<div class="t sec" style="left:1238px;top:1701px"><b>3. ENDKONTROLLE</b><br>(IDENTITÄTSKONTROLLE) DURCH PKE</div>

<div class="t lab" style="left:309px;top:1772px">Außenposten</div>
<div class="t lab" style="left:695.5px;top:1745.5px;line-height:17.4px">Operative(r) Fahnder<br>im Fahndungsraum</div>
<div class="t lab" style="left:692.5px;top:1835.5px">Tank</div>
<div class="t lab" style="left:908px;top:1730.5px">Kofferraum</div>
<div class="t lab" style="left:928px;top:1759px">Rückbank</div>
<div class="t lab" style="left:1078px;top:1744.5px">Motorraum</div>
<div class="t lab" style="left:1112px;top:1772.5px">Personenkontrolle</div>
<div class="t lab" style="left:935px;top:1928px">Unterseite des Wagens</div>
<div class="t lab" style="left:954.5px;top:1956.5px">Gepäckkontrolle</div>

<div class="t col" style="left:58.5px;top:1932px"><p>Annahme der Reisedokumente<br>und Fahrzeugpapiere</p><p>Erfragung des Reiseziels</p><p>Feststellung der Anzahl<br>der PKW-Insassen</p><p>Allgemeine Prüfung der<br>Einreiseberechtigung<br>(und ggf. Abweisung)</p><p>Einweisung in Abfertigungsspur</p></div>
<div class="t col" style="left:287.5px;top:1931.7px;line-height:16.2px"><p style="margin-bottom:6.3px">Kontrolle der Personaldokumente<br>und deren Gültigkeit</p><p style="margin-bottom:6.3px">Abgleich der Anzahl von Reisen-<br>den und Dokumenten</p><p>Verpacken der Dokumente in eine<br>Transporttasche und Beschriftung<br>mit Anzahl der Erwachsenen und<br>Kinder</p></div>
<div class="t col" style="left:519.5px;top:1931.5px;line-height:16.2px"><p style="margin-bottom:4px">Prüfung der Dokumente auf Echt-<br>heit und Veränderungen (Aus-<br>tausch Lichtbild und Überschrei-<br>bungen)</p><p>Abgleich mit Fahndungskarteien<br>(Namens- und Fahrzeugkartei)</p></div>
<div class="t col" style="left:1238px;top:1930px;line-height:16.5px"><p>Abgleich des Fahrzeugkennzeichens mit<br>Angaben im Fahrzeugschein</p><p style="margin-bottom:5px">Abgleich der Lichtbilder der vorgelegten<br>Reisedokumente mit den Reisenden</p><p style="margin-bottom:6px">Prüfung der Vollständigkeit und Echtheit<br>der Personal- und Grenzübertrittsdokumente<br>(z.B. zeitliche Gültigkeit, Absiegelung des<br>Lichtbildes)</p><p>Bestätigung der erfolgten Kontrolle und<br>des Grenzübertritts durch Passkontrollstem-<br>pel auf den vorgesehenen Dokumenten</p></div>

<div class="t foot">ALLE TEXTE UND GRAFIKEN SIND URHEBERRECHTLICH GESCHÜTZT UND UNTERLIEGEN DEM COPYRIGHT DER STIFTUNG BERLINER MAUER<br>SOWIE DER INFOGRAPHICS GROUP GMBH, BERLIN I WWW.INFOGRAPHICS.GROUP;<br>BASISKARTE: © OPENSTREETMAP CONTRIBUTORS<br>DIESES WERK STEHT UNTER DER LIZENZ DER CREATIVE COMMONS<br>ATTRIBUTION LICENSE: ATTRIBUTION-NONCOMMERCIAL-NODERIVATIVES - 4.0 INTERNATIONAL LICENSE I CC-BY-NC-ND-4.0</div>

</div></body></html>
